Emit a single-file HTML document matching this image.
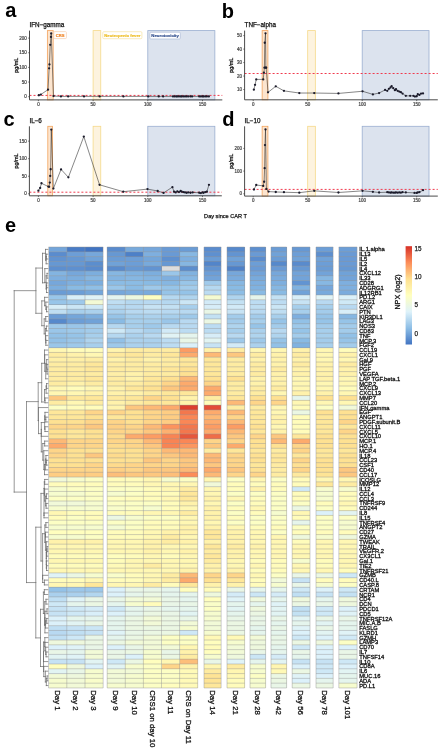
<!DOCTYPE html><html><head><meta charset="utf-8"><style>html,body{margin:0;padding:0;background:#fff;overflow:hidden;}svg{display:block;will-change:transform;}</style></head><body>
<svg width="443" height="750" viewBox="0 0 443 750" font-family='"Liberation Sans", sans-serif'>
<rect width="443" height="750" fill="#fff"/>
<rect x="47.37" y="30.60" width="5.80" height="69.30" fill="#FCE5CF" stroke="#F2A45E" stroke-width="0.8"/>
<rect x="93.10" y="30.60" width="7.66" height="69.30" fill="#FDF3DF" stroke="#F5D98A" stroke-width="0.8"/>
<rect x="147.80" y="30.60" width="67.06" height="69.30" fill="#DCE3EE" stroke="#9AAED0" stroke-width="0.8"/>
<line x1="29.50" y1="95.40" x2="222.30" y2="95.40" stroke="#F03A4E" stroke-width="1.0" stroke-dasharray="2,2"/>
<polyline points="38.84,95.23 40.81,94.53 48.03,89.67 49.12,68.28 49.45,64.47 50.22,44.84 50.98,36.93 51.20,33.41 53.50,96.11 60.94,96.41 68.16,96.41 84.02,96.41 99.66,96.41 123.40,96.41 148.24,96.41 158.74,96.41 163.12,96.41 172.96,96.41 174.60,96.41 176.24,96.41 177.34,96.41 178.98,96.41 180.62,96.41 181.71,96.41 183.36,96.41 185.00,96.41 186.64,96.41 188.28,96.41 190.47,96.41 192.11,96.41 199.22,96.41 200.86,96.41 202.50,96.41 203.59,96.41 205.24,96.41 206.88,96.41 208.85,96.41" fill="none" stroke="#222" stroke-width="0.55"/>
<circle cx="38.84" cy="95.23" r="1.15" fill="#1b1b2b"/>
<circle cx="40.81" cy="94.53" r="1.15" fill="#1b1b2b"/>
<circle cx="48.03" cy="89.67" r="1.15" fill="#1b1b2b"/>
<circle cx="49.12" cy="68.28" r="1.15" fill="#1b1b2b"/>
<circle cx="49.45" cy="64.47" r="1.15" fill="#1b1b2b"/>
<circle cx="50.22" cy="44.84" r="1.15" fill="#1b1b2b"/>
<circle cx="50.98" cy="36.93" r="1.15" fill="#1b1b2b"/>
<circle cx="51.20" cy="33.41" r="1.15" fill="#1b1b2b"/>
<circle cx="53.50" cy="96.11" r="1.15" fill="#1b1b2b"/>
<circle cx="60.94" cy="96.41" r="1.15" fill="#1b1b2b"/>
<circle cx="68.16" cy="96.41" r="1.15" fill="#1b1b2b"/>
<circle cx="84.02" cy="96.41" r="1.15" fill="#1b1b2b"/>
<circle cx="99.66" cy="96.41" r="1.15" fill="#1b1b2b"/>
<circle cx="123.40" cy="96.41" r="1.15" fill="#1b1b2b"/>
<circle cx="148.24" cy="96.41" r="1.15" fill="#1b1b2b"/>
<circle cx="158.74" cy="96.41" r="1.15" fill="#1b1b2b"/>
<circle cx="163.12" cy="96.41" r="1.15" fill="#1b1b2b"/>
<circle cx="172.96" cy="96.41" r="1.15" fill="#1b1b2b"/>
<circle cx="174.60" cy="96.41" r="1.15" fill="#1b1b2b"/>
<circle cx="176.24" cy="96.41" r="1.15" fill="#1b1b2b"/>
<circle cx="177.34" cy="96.41" r="1.15" fill="#1b1b2b"/>
<circle cx="178.98" cy="96.41" r="1.15" fill="#1b1b2b"/>
<circle cx="180.62" cy="96.41" r="1.15" fill="#1b1b2b"/>
<circle cx="181.71" cy="96.41" r="1.15" fill="#1b1b2b"/>
<circle cx="183.36" cy="96.41" r="1.15" fill="#1b1b2b"/>
<circle cx="185.00" cy="96.41" r="1.15" fill="#1b1b2b"/>
<circle cx="186.64" cy="96.41" r="1.15" fill="#1b1b2b"/>
<circle cx="188.28" cy="96.41" r="1.15" fill="#1b1b2b"/>
<circle cx="190.47" cy="96.41" r="1.15" fill="#1b1b2b"/>
<circle cx="192.11" cy="96.41" r="1.15" fill="#1b1b2b"/>
<circle cx="199.22" cy="96.41" r="1.15" fill="#1b1b2b"/>
<circle cx="200.86" cy="96.41" r="1.15" fill="#1b1b2b"/>
<circle cx="202.50" cy="96.41" r="1.15" fill="#1b1b2b"/>
<circle cx="203.59" cy="96.41" r="1.15" fill="#1b1b2b"/>
<circle cx="205.24" cy="96.41" r="1.15" fill="#1b1b2b"/>
<circle cx="206.88" cy="96.41" r="1.15" fill="#1b1b2b"/>
<circle cx="208.85" cy="96.41" r="1.15" fill="#1b1b2b"/>
<path d="M29.50 30.60L29.50 99.90L222.30 99.90" fill="none" stroke="#4a4a4a" stroke-width="1.0"/>
<line x1="28.20" y1="96.70" x2="29.50" y2="96.70" stroke="#3a3a3a" stroke-width="0.7"/>
<text x="26.80" y="98.35" font-size="4.5" fill="#444" stroke="#444" stroke-width="0.2" text-anchor="end">0</text>
<line x1="28.20" y1="82.05" x2="29.50" y2="82.05" stroke="#3a3a3a" stroke-width="0.7"/>
<text x="26.80" y="83.70" font-size="4.5" fill="#444" stroke="#444" stroke-width="0.2" text-anchor="end">50</text>
<line x1="28.20" y1="67.40" x2="29.50" y2="67.40" stroke="#3a3a3a" stroke-width="0.7"/>
<text x="26.80" y="69.05" font-size="4.5" fill="#444" stroke="#444" stroke-width="0.2" text-anchor="end">100</text>
<line x1="28.20" y1="52.75" x2="29.50" y2="52.75" stroke="#3a3a3a" stroke-width="0.7"/>
<text x="26.80" y="54.40" font-size="4.5" fill="#444" stroke="#444" stroke-width="0.2" text-anchor="end">150</text>
<line x1="28.20" y1="38.10" x2="29.50" y2="38.10" stroke="#3a3a3a" stroke-width="0.7"/>
<text x="26.80" y="39.75" font-size="4.5" fill="#444" stroke="#444" stroke-width="0.2" text-anchor="end">200</text>
<line x1="38.40" y1="99.90" x2="38.40" y2="101.20" stroke="#3a3a3a" stroke-width="0.7"/>
<text x="38.40" y="106.00" font-size="4.5" fill="#444" stroke="#444" stroke-width="0.2" text-anchor="middle">0</text>
<line x1="93.10" y1="99.90" x2="93.10" y2="101.20" stroke="#3a3a3a" stroke-width="0.7"/>
<text x="93.10" y="106.00" font-size="4.5" fill="#444" stroke="#444" stroke-width="0.2" text-anchor="middle">50</text>
<line x1="147.80" y1="99.90" x2="147.80" y2="101.20" stroke="#3a3a3a" stroke-width="0.7"/>
<text x="147.80" y="106.00" font-size="4.5" fill="#444" stroke="#444" stroke-width="0.2" text-anchor="middle">100</text>
<line x1="202.50" y1="99.90" x2="202.50" y2="101.20" stroke="#3a3a3a" stroke-width="0.7"/>
<text x="202.50" y="106.00" font-size="4.5" fill="#444" stroke="#444" stroke-width="0.2" text-anchor="middle">150</text>
<text transform="translate(18.00,65.25) rotate(-90)" font-size="5.4" text-anchor="middle" fill="#111" stroke="#111" stroke-width="0.25">pg/mL</text>
<text x="29.50" y="26.80" font-size="6.3" fill="#111" stroke="#111" stroke-width="0.25">IFN−gamma</text>
<text x="5.20" y="17.40" font-size="20" font-weight="bold" fill="#000">a</text>
<rect x="262.14" y="30.60" width="5.78" height="69.20" fill="#FCE5CF" stroke="#F2A45E" stroke-width="0.8"/>
<rect x="307.70" y="30.60" width="7.63" height="69.20" fill="#FDF3DF" stroke="#F5D98A" stroke-width="0.8"/>
<rect x="362.20" y="30.60" width="66.82" height="69.20" fill="#DCE3EE" stroke="#9AAED0" stroke-width="0.8"/>
<line x1="244.60" y1="73.50" x2="437.80" y2="73.50" stroke="#F03A4E" stroke-width="1.0" stroke-dasharray="2,2"/>
<polyline points="253.85,89.66 255.05,84.81 256.25,79.42 263.23,79.42 263.88,72.68 264.43,67.70 264.75,42.77 265.52,33.33 265.84,67.70 266.17,67.70 268.02,92.35 275.76,86.29 283.94,90.87 299.31,93.03 314.24,93.03 338.44,93.43 362.53,91.28 372.88,94.38 379.10,93.03 385.09,89.93 387.27,90.87 388.90,88.85 390.54,87.50 391.63,86.16 393.26,88.18 394.90,90.20 395.99,89.26 397.62,90.87 399.26,91.55 400.89,92.22 402.53,93.57 405.80,95.86 410.16,95.86 413.43,95.86 414.96,96.53 416.70,96.26 417.79,94.24 419.43,94.92 421.06,93.57 423.02,93.43" fill="none" stroke="#222" stroke-width="0.55"/>
<circle cx="253.85" cy="89.66" r="1.15" fill="#1b1b2b"/>
<circle cx="255.05" cy="84.81" r="1.15" fill="#1b1b2b"/>
<circle cx="256.25" cy="79.42" r="1.15" fill="#1b1b2b"/>
<circle cx="263.23" cy="79.42" r="1.15" fill="#1b1b2b"/>
<circle cx="263.88" cy="72.68" r="1.15" fill="#1b1b2b"/>
<circle cx="264.43" cy="67.70" r="1.15" fill="#1b1b2b"/>
<circle cx="264.75" cy="42.77" r="1.15" fill="#1b1b2b"/>
<circle cx="265.52" cy="33.33" r="1.15" fill="#1b1b2b"/>
<circle cx="265.84" cy="67.70" r="1.15" fill="#1b1b2b"/>
<circle cx="266.17" cy="67.70" r="1.15" fill="#1b1b2b"/>
<circle cx="268.02" cy="92.35" r="1.15" fill="#1b1b2b"/>
<circle cx="275.76" cy="86.29" r="1.15" fill="#1b1b2b"/>
<circle cx="283.94" cy="90.87" r="1.15" fill="#1b1b2b"/>
<circle cx="299.31" cy="93.03" r="1.15" fill="#1b1b2b"/>
<circle cx="314.24" cy="93.03" r="1.15" fill="#1b1b2b"/>
<circle cx="338.44" cy="93.43" r="1.15" fill="#1b1b2b"/>
<circle cx="362.53" cy="91.28" r="1.15" fill="#1b1b2b"/>
<circle cx="372.88" cy="94.38" r="1.15" fill="#1b1b2b"/>
<circle cx="379.10" cy="93.03" r="1.15" fill="#1b1b2b"/>
<circle cx="385.09" cy="89.93" r="1.15" fill="#1b1b2b"/>
<circle cx="387.27" cy="90.87" r="1.15" fill="#1b1b2b"/>
<circle cx="388.90" cy="88.85" r="1.15" fill="#1b1b2b"/>
<circle cx="390.54" cy="87.50" r="1.15" fill="#1b1b2b"/>
<circle cx="391.63" cy="86.16" r="1.15" fill="#1b1b2b"/>
<circle cx="393.26" cy="88.18" r="1.15" fill="#1b1b2b"/>
<circle cx="394.90" cy="90.20" r="1.15" fill="#1b1b2b"/>
<circle cx="395.99" cy="89.26" r="1.15" fill="#1b1b2b"/>
<circle cx="397.62" cy="90.87" r="1.15" fill="#1b1b2b"/>
<circle cx="399.26" cy="91.55" r="1.15" fill="#1b1b2b"/>
<circle cx="400.89" cy="92.22" r="1.15" fill="#1b1b2b"/>
<circle cx="402.53" cy="93.57" r="1.15" fill="#1b1b2b"/>
<circle cx="405.80" cy="95.86" r="1.15" fill="#1b1b2b"/>
<circle cx="410.16" cy="95.86" r="1.15" fill="#1b1b2b"/>
<circle cx="413.43" cy="95.86" r="1.15" fill="#1b1b2b"/>
<circle cx="414.96" cy="96.53" r="1.15" fill="#1b1b2b"/>
<circle cx="416.70" cy="96.26" r="1.15" fill="#1b1b2b"/>
<circle cx="417.79" cy="94.24" r="1.15" fill="#1b1b2b"/>
<circle cx="419.43" cy="94.92" r="1.15" fill="#1b1b2b"/>
<circle cx="421.06" cy="93.57" r="1.15" fill="#1b1b2b"/>
<circle cx="423.02" cy="93.43" r="1.15" fill="#1b1b2b"/>
<path d="M244.60 30.60L244.60 99.80L437.80 99.80" fill="none" stroke="#4a4a4a" stroke-width="1.0"/>
<line x1="243.30" y1="89.53" x2="244.60" y2="89.53" stroke="#3a3a3a" stroke-width="0.7"/>
<text x="241.90" y="91.18" font-size="4.5" fill="#444" stroke="#444" stroke-width="0.2" text-anchor="end">10</text>
<line x1="243.30" y1="76.05" x2="244.60" y2="76.05" stroke="#3a3a3a" stroke-width="0.7"/>
<text x="241.90" y="77.70" font-size="4.5" fill="#444" stroke="#444" stroke-width="0.2" text-anchor="end">20</text>
<line x1="243.30" y1="62.58" x2="244.60" y2="62.58" stroke="#3a3a3a" stroke-width="0.7"/>
<text x="241.90" y="64.23" font-size="4.5" fill="#444" stroke="#444" stroke-width="0.2" text-anchor="end">30</text>
<line x1="243.30" y1="49.10" x2="244.60" y2="49.10" stroke="#3a3a3a" stroke-width="0.7"/>
<text x="241.90" y="50.75" font-size="4.5" fill="#444" stroke="#444" stroke-width="0.2" text-anchor="end">40</text>
<line x1="243.30" y1="35.62" x2="244.60" y2="35.62" stroke="#3a3a3a" stroke-width="0.7"/>
<text x="241.90" y="37.27" font-size="4.5" fill="#444" stroke="#444" stroke-width="0.2" text-anchor="end">50</text>
<line x1="253.20" y1="99.80" x2="253.20" y2="101.10" stroke="#3a3a3a" stroke-width="0.7"/>
<text x="253.20" y="105.90" font-size="4.5" fill="#444" stroke="#444" stroke-width="0.2" text-anchor="middle">0</text>
<line x1="307.70" y1="99.80" x2="307.70" y2="101.10" stroke="#3a3a3a" stroke-width="0.7"/>
<text x="307.70" y="105.90" font-size="4.5" fill="#444" stroke="#444" stroke-width="0.2" text-anchor="middle">50</text>
<line x1="362.20" y1="99.80" x2="362.20" y2="101.10" stroke="#3a3a3a" stroke-width="0.7"/>
<text x="362.20" y="105.90" font-size="4.5" fill="#444" stroke="#444" stroke-width="0.2" text-anchor="middle">100</text>
<line x1="416.70" y1="99.80" x2="416.70" y2="101.10" stroke="#3a3a3a" stroke-width="0.7"/>
<text x="416.70" y="105.90" font-size="4.5" fill="#444" stroke="#444" stroke-width="0.2" text-anchor="middle">150</text>
<text transform="translate(233.20,65.20) rotate(-90)" font-size="5.4" text-anchor="middle" fill="#111" stroke="#111" stroke-width="0.25">pg/mL</text>
<text x="244.60" y="26.80" font-size="6.3" fill="#111" stroke="#111" stroke-width="0.25">TNF−alpha</text>
<text x="221.80" y="17.60" font-size="20" font-weight="bold" fill="#000">b</text>
<rect x="47.81" y="126.30" width="4.70" height="69.50" fill="#FCE5CF" stroke="#F2A45E" stroke-width="0.8"/>
<rect x="93.10" y="126.30" width="7.66" height="69.50" fill="#FDF3DF" stroke="#F5D98A" stroke-width="0.8"/>
<rect x="147.80" y="126.30" width="67.06" height="69.50" fill="#DCE3EE" stroke="#9AAED0" stroke-width="0.8"/>
<line x1="29.40" y1="192.20" x2="221.80" y2="192.20" stroke="#F03A4E" stroke-width="1.0" stroke-dasharray="2,2"/>
<polyline points="38.40,190.71 40.15,188.01 41.46,183.27 48.36,186.60 49.12,186.78 49.78,182.57 50.22,175.90 50.65,169.23 51.31,129.57 53.39,188.54 61.05,169.41 68.38,177.30 83.80,136.59 99.55,184.81 123.29,191.69 147.47,189.10 157.65,190.99 163.55,192.89 172.42,187.13 174.06,191.69 175.70,192.40 177.34,191.34 178.98,192.05 180.62,190.99 181.71,191.69 183.36,192.05 185.00,192.40 186.64,192.75 188.28,192.40 190.47,192.75 192.65,192.40 199.22,192.75 200.86,193.10 202.50,192.40 203.59,192.75 205.24,192.05 206.88,191.69 208.95,184.81" fill="none" stroke="#222" stroke-width="0.55"/>
<circle cx="38.40" cy="190.71" r="1.15" fill="#1b1b2b"/>
<circle cx="40.15" cy="188.01" r="1.15" fill="#1b1b2b"/>
<circle cx="41.46" cy="183.27" r="1.15" fill="#1b1b2b"/>
<circle cx="48.36" cy="186.60" r="1.15" fill="#1b1b2b"/>
<circle cx="49.12" cy="186.78" r="1.15" fill="#1b1b2b"/>
<circle cx="49.78" cy="182.57" r="1.15" fill="#1b1b2b"/>
<circle cx="50.22" cy="175.90" r="1.15" fill="#1b1b2b"/>
<circle cx="50.65" cy="169.23" r="1.15" fill="#1b1b2b"/>
<circle cx="51.31" cy="129.57" r="1.15" fill="#1b1b2b"/>
<circle cx="53.39" cy="188.54" r="1.15" fill="#1b1b2b"/>
<circle cx="61.05" cy="169.41" r="1.15" fill="#1b1b2b"/>
<circle cx="68.38" cy="177.30" r="1.15" fill="#1b1b2b"/>
<circle cx="83.80" cy="136.59" r="1.15" fill="#1b1b2b"/>
<circle cx="99.55" cy="184.81" r="1.15" fill="#1b1b2b"/>
<circle cx="123.29" cy="191.69" r="1.15" fill="#1b1b2b"/>
<circle cx="147.47" cy="189.10" r="1.15" fill="#1b1b2b"/>
<circle cx="157.65" cy="190.99" r="1.15" fill="#1b1b2b"/>
<circle cx="163.55" cy="192.89" r="1.15" fill="#1b1b2b"/>
<circle cx="172.42" cy="187.13" r="1.15" fill="#1b1b2b"/>
<circle cx="174.06" cy="191.69" r="1.15" fill="#1b1b2b"/>
<circle cx="175.70" cy="192.40" r="1.15" fill="#1b1b2b"/>
<circle cx="177.34" cy="191.34" r="1.15" fill="#1b1b2b"/>
<circle cx="178.98" cy="192.05" r="1.15" fill="#1b1b2b"/>
<circle cx="180.62" cy="190.99" r="1.15" fill="#1b1b2b"/>
<circle cx="181.71" cy="191.69" r="1.15" fill="#1b1b2b"/>
<circle cx="183.36" cy="192.05" r="1.15" fill="#1b1b2b"/>
<circle cx="185.00" cy="192.40" r="1.15" fill="#1b1b2b"/>
<circle cx="186.64" cy="192.75" r="1.15" fill="#1b1b2b"/>
<circle cx="188.28" cy="192.40" r="1.15" fill="#1b1b2b"/>
<circle cx="190.47" cy="192.75" r="1.15" fill="#1b1b2b"/>
<circle cx="192.65" cy="192.40" r="1.15" fill="#1b1b2b"/>
<circle cx="199.22" cy="192.75" r="1.15" fill="#1b1b2b"/>
<circle cx="200.86" cy="193.10" r="1.15" fill="#1b1b2b"/>
<circle cx="202.50" cy="192.40" r="1.15" fill="#1b1b2b"/>
<circle cx="203.59" cy="192.75" r="1.15" fill="#1b1b2b"/>
<circle cx="205.24" cy="192.05" r="1.15" fill="#1b1b2b"/>
<circle cx="206.88" cy="191.69" r="1.15" fill="#1b1b2b"/>
<circle cx="208.95" cy="184.81" r="1.15" fill="#1b1b2b"/>
<path d="M29.40 126.30L29.40 195.80L221.80 195.80" fill="none" stroke="#4a4a4a" stroke-width="1.0"/>
<line x1="28.10" y1="193.80" x2="29.40" y2="193.80" stroke="#3a3a3a" stroke-width="0.7"/>
<text x="26.70" y="195.45" font-size="4.5" fill="#444" stroke="#444" stroke-width="0.2" text-anchor="end">0</text>
<line x1="28.10" y1="176.25" x2="29.40" y2="176.25" stroke="#3a3a3a" stroke-width="0.7"/>
<text x="26.70" y="177.90" font-size="4.5" fill="#444" stroke="#444" stroke-width="0.2" text-anchor="end">50</text>
<line x1="28.10" y1="158.70" x2="29.40" y2="158.70" stroke="#3a3a3a" stroke-width="0.7"/>
<text x="26.70" y="160.35" font-size="4.5" fill="#444" stroke="#444" stroke-width="0.2" text-anchor="end">100</text>
<line x1="28.10" y1="141.15" x2="29.40" y2="141.15" stroke="#3a3a3a" stroke-width="0.7"/>
<text x="26.70" y="142.80" font-size="4.5" fill="#444" stroke="#444" stroke-width="0.2" text-anchor="end">150</text>
<line x1="38.40" y1="195.80" x2="38.40" y2="197.10" stroke="#3a3a3a" stroke-width="0.7"/>
<text x="38.40" y="201.90" font-size="4.5" fill="#444" stroke="#444" stroke-width="0.2" text-anchor="middle">0</text>
<line x1="93.10" y1="195.80" x2="93.10" y2="197.10" stroke="#3a3a3a" stroke-width="0.7"/>
<text x="93.10" y="201.90" font-size="4.5" fill="#444" stroke="#444" stroke-width="0.2" text-anchor="middle">50</text>
<line x1="147.80" y1="195.80" x2="147.80" y2="197.10" stroke="#3a3a3a" stroke-width="0.7"/>
<text x="147.80" y="201.90" font-size="4.5" fill="#444" stroke="#444" stroke-width="0.2" text-anchor="middle">100</text>
<line x1="202.50" y1="195.80" x2="202.50" y2="197.10" stroke="#3a3a3a" stroke-width="0.7"/>
<text x="202.50" y="201.90" font-size="4.5" fill="#444" stroke="#444" stroke-width="0.2" text-anchor="middle">150</text>
<text transform="translate(18.00,161.05) rotate(-90)" font-size="5.4" text-anchor="middle" fill="#111" stroke="#111" stroke-width="0.25">pg/mL</text>
<text x="29.40" y="122.60" font-size="6.3" fill="#111" stroke="#111" stroke-width="0.25">IL−6</text>
<text x="3.60" y="126.00" font-size="20" font-weight="bold" fill="#000">c</text>
<rect x="262.14" y="126.30" width="5.78" height="69.80" fill="#FCE5CF" stroke="#F2A45E" stroke-width="0.8"/>
<rect x="307.70" y="126.30" width="7.63" height="69.80" fill="#FDF3DF" stroke="#F5D98A" stroke-width="0.8"/>
<rect x="362.20" y="126.30" width="66.82" height="69.80" fill="#DCE3EE" stroke="#9AAED0" stroke-width="0.8"/>
<line x1="244.60" y1="189.40" x2="437.80" y2="189.40" stroke="#F03A4E" stroke-width="1.0" stroke-dasharray="2,2"/>
<polyline points="253.96,189.49 256.25,184.99 263.23,185.90 264.10,181.77 264.64,168.15 264.97,145.11 265.52,129.40 266.39,188.90 268.57,191.60 275.76,191.98 283.94,192.21 299.31,192.67 314.24,190.85 338.44,192.51 362.53,190.85 372.88,191.80 379.10,192.51 387.27,192.21 388.90,192.44 390.54,192.67 391.63,192.44 393.26,192.67 394.90,192.67 395.99,192.44 397.62,192.67 399.26,192.44 400.89,192.67 402.53,192.21 405.80,192.44 414.52,192.89 416.70,192.89 417.79,192.44 419.43,192.21 423.02,190.17" fill="none" stroke="#222" stroke-width="0.55"/>
<circle cx="253.96" cy="189.49" r="1.15" fill="#1b1b2b"/>
<circle cx="256.25" cy="184.99" r="1.15" fill="#1b1b2b"/>
<circle cx="263.23" cy="185.90" r="1.15" fill="#1b1b2b"/>
<circle cx="264.10" cy="181.77" r="1.15" fill="#1b1b2b"/>
<circle cx="264.64" cy="168.15" r="1.15" fill="#1b1b2b"/>
<circle cx="264.97" cy="145.11" r="1.15" fill="#1b1b2b"/>
<circle cx="265.52" cy="129.40" r="1.15" fill="#1b1b2b"/>
<circle cx="266.39" cy="188.90" r="1.15" fill="#1b1b2b"/>
<circle cx="268.57" cy="191.60" r="1.15" fill="#1b1b2b"/>
<circle cx="275.76" cy="191.98" r="1.15" fill="#1b1b2b"/>
<circle cx="283.94" cy="192.21" r="1.15" fill="#1b1b2b"/>
<circle cx="299.31" cy="192.67" r="1.15" fill="#1b1b2b"/>
<circle cx="314.24" cy="190.85" r="1.15" fill="#1b1b2b"/>
<circle cx="338.44" cy="192.51" r="1.15" fill="#1b1b2b"/>
<circle cx="362.53" cy="190.85" r="1.15" fill="#1b1b2b"/>
<circle cx="372.88" cy="191.80" r="1.15" fill="#1b1b2b"/>
<circle cx="379.10" cy="192.51" r="1.15" fill="#1b1b2b"/>
<circle cx="387.27" cy="192.21" r="1.15" fill="#1b1b2b"/>
<circle cx="388.90" cy="192.44" r="1.15" fill="#1b1b2b"/>
<circle cx="390.54" cy="192.67" r="1.15" fill="#1b1b2b"/>
<circle cx="391.63" cy="192.44" r="1.15" fill="#1b1b2b"/>
<circle cx="393.26" cy="192.67" r="1.15" fill="#1b1b2b"/>
<circle cx="394.90" cy="192.67" r="1.15" fill="#1b1b2b"/>
<circle cx="395.99" cy="192.44" r="1.15" fill="#1b1b2b"/>
<circle cx="397.62" cy="192.67" r="1.15" fill="#1b1b2b"/>
<circle cx="399.26" cy="192.44" r="1.15" fill="#1b1b2b"/>
<circle cx="400.89" cy="192.67" r="1.15" fill="#1b1b2b"/>
<circle cx="402.53" cy="192.21" r="1.15" fill="#1b1b2b"/>
<circle cx="405.80" cy="192.44" r="1.15" fill="#1b1b2b"/>
<circle cx="414.52" cy="192.89" r="1.15" fill="#1b1b2b"/>
<circle cx="416.70" cy="192.89" r="1.15" fill="#1b1b2b"/>
<circle cx="417.79" cy="192.44" r="1.15" fill="#1b1b2b"/>
<circle cx="419.43" cy="192.21" r="1.15" fill="#1b1b2b"/>
<circle cx="423.02" cy="190.17" r="1.15" fill="#1b1b2b"/>
<path d="M244.60 126.30L244.60 196.10L437.80 196.10" fill="none" stroke="#4a4a4a" stroke-width="1.0"/>
<line x1="243.30" y1="193.80" x2="244.60" y2="193.80" stroke="#3a3a3a" stroke-width="0.7"/>
<text x="241.90" y="195.45" font-size="4.5" fill="#444" stroke="#444" stroke-width="0.2" text-anchor="end">0</text>
<line x1="243.30" y1="171.10" x2="244.60" y2="171.10" stroke="#3a3a3a" stroke-width="0.7"/>
<text x="241.90" y="172.75" font-size="4.5" fill="#444" stroke="#444" stroke-width="0.2" text-anchor="end">100</text>
<line x1="243.30" y1="148.40" x2="244.60" y2="148.40" stroke="#3a3a3a" stroke-width="0.7"/>
<text x="241.90" y="150.05" font-size="4.5" fill="#444" stroke="#444" stroke-width="0.2" text-anchor="end">200</text>
<line x1="253.20" y1="196.10" x2="253.20" y2="197.40" stroke="#3a3a3a" stroke-width="0.7"/>
<text x="253.20" y="202.20" font-size="4.5" fill="#444" stroke="#444" stroke-width="0.2" text-anchor="middle">0</text>
<line x1="307.70" y1="196.10" x2="307.70" y2="197.40" stroke="#3a3a3a" stroke-width="0.7"/>
<text x="307.70" y="202.20" font-size="4.5" fill="#444" stroke="#444" stroke-width="0.2" text-anchor="middle">50</text>
<line x1="362.20" y1="196.10" x2="362.20" y2="197.40" stroke="#3a3a3a" stroke-width="0.7"/>
<text x="362.20" y="202.20" font-size="4.5" fill="#444" stroke="#444" stroke-width="0.2" text-anchor="middle">100</text>
<line x1="416.70" y1="196.10" x2="416.70" y2="197.40" stroke="#3a3a3a" stroke-width="0.7"/>
<text x="416.70" y="202.20" font-size="4.5" fill="#444" stroke="#444" stroke-width="0.2" text-anchor="middle">150</text>
<text transform="translate(233.20,161.20) rotate(-90)" font-size="5.4" text-anchor="middle" fill="#111" stroke="#111" stroke-width="0.25">pg/mL</text>
<text x="244.60" y="122.60" font-size="6.3" fill="#111" stroke="#111" stroke-width="0.25">IL−10</text>
<text x="222.20" y="125.60" font-size="20" font-weight="bold" fill="#000">d</text>
<g font-weight="bold">
<rect x="53.8" y="31.6" width="12.6" height="7.0" rx="1" fill="#fff" stroke="#F6CFAE" stroke-width="0.7"/>
<text x="60.1" y="36.75" font-size="4.1" text-anchor="middle" fill="#F08A30" stroke="#F08A30" stroke-width="0.2">CRS</text>
<rect x="102.8" y="31.7" width="39.1" height="7.0" rx="1" fill="#fff" stroke="#F6E2A0" stroke-width="0.7"/>
<text x="122.35" y="36.85" font-size="4.25" text-anchor="middle" fill="#EEBF2A" stroke="#EEBF2A" stroke-width="0.2">Neutropenic fever</text>
<rect x="149.9" y="32.2" width="30.4" height="6.8" rx="1" fill="#fff" stroke="#AEBCD6" stroke-width="0.7"/>
<text x="165.1" y="37.2" font-size="4.3" text-anchor="middle" fill="#2E4C8C" stroke="#2E4C8C" stroke-width="0.15">Neurotoxicity</text>
</g>
<text x="225.5" y="217.8" font-size="5.6" text-anchor="middle" fill="#111" stroke="#111" stroke-width="0.25">Day since CAR T</text>
<text x="5.0" y="232.4" font-size="20" font-weight="bold" fill="#000">e</text>
<g stroke="#6a6a6a" stroke-width="0.7" fill="none" stroke-linecap="square">
<path d="M46.36 254.19L46.36 258.98M46.36 254.19L47.90 254.19M46.36 258.98L47.90 258.98M46.17 256.59L46.17 263.78M46.17 256.59L46.36 256.59M46.17 263.78L47.90 263.78M45.50 249.40L45.50 260.18M45.50 249.40L47.90 249.40M45.50 260.18L46.17 260.18M47.04 273.36L47.04 278.15M47.04 273.36L47.90 273.36M47.04 278.15L47.90 278.15M46.68 282.95L46.68 287.74M46.68 282.95L47.90 282.95M46.68 287.74L47.90 287.74M46.49 285.34L46.49 292.53M46.49 285.34L46.68 285.34M46.49 292.53L47.90 292.53M46.08 275.76L46.08 288.94M46.08 275.76L47.04 275.76M46.08 288.94L46.49 288.94M44.80 268.57L44.80 282.35M44.80 268.57L47.90 268.57M44.80 282.35L46.08 282.35M42.50 253.30L42.50 282.80M42.50 253.30L45.50 253.30M42.50 282.80L44.80 282.80M46.54 306.91L46.54 311.71M46.54 306.91L47.90 306.91M46.54 311.71L47.90 311.71M45.82 302.12L45.82 309.31M45.82 302.12L47.90 302.12M45.82 309.31L46.54 309.31M44.60 297.33L44.60 305.71M44.60 297.33L47.90 297.33M44.60 305.71L45.82 305.71M45.72 316.50L45.72 321.29M45.72 316.50L47.90 316.50M45.72 321.29L47.90 321.29M46.38 326.08L46.38 330.88M46.38 326.08L47.90 326.08M46.38 330.88L47.90 330.88M45.84 340.46L45.84 345.26M45.84 340.46L47.90 340.46M45.84 345.26L47.90 345.26M45.74 335.67L45.74 342.86M45.74 335.67L47.90 335.67M45.74 342.86L45.84 342.86M45.45 328.48L45.45 339.27M45.45 328.48L46.38 328.48M45.45 339.27L45.74 339.27M44.20 318.89L44.20 333.87M44.20 318.89L45.72 318.89M44.20 333.87L45.45 333.87M41.80 300.90L41.80 325.70M41.80 300.90L44.60 300.90M41.80 325.70L44.20 325.70M35.90 268.05L35.90 313.30M35.90 268.05L42.50 268.05M35.90 313.30L41.80 313.30M47.04 369.22L47.04 374.01M47.04 369.22L47.90 369.22M47.04 374.01L47.90 374.01M46.97 364.43L46.97 371.62M46.97 364.43L47.90 364.43M46.97 371.62L47.04 371.62M46.65 359.64L46.65 368.02M46.65 359.64L47.90 359.64M46.65 368.02L46.97 368.02M45.72 363.83L45.72 378.81M45.72 363.83L46.65 363.83M45.72 378.81L47.90 378.81M44.75 354.84L44.75 371.32M44.75 354.84L47.90 354.84M44.75 371.32L45.72 371.32M44.50 350.05L44.50 363.08M44.50 350.05L47.90 350.05M44.50 363.08L44.75 363.08M46.57 383.60L46.57 388.39M46.57 383.60L47.90 383.60M46.57 388.39L47.90 388.39M46.10 386.00L46.10 393.19M46.10 386.00L46.57 386.00M46.10 393.19L47.90 393.19M45.04 397.98L45.04 402.77M45.04 397.98L47.90 397.98M45.04 402.77L47.90 402.77M44.50 389.59L44.50 400.38M44.50 389.59L46.10 389.59M44.50 400.38L45.04 400.38M41.70 363.30L41.70 402.00M41.70 363.30L44.50 363.30M41.70 402.00L44.50 402.00M45.80 417.15L45.80 421.94M45.80 417.15L47.90 417.15M45.80 421.94L47.90 421.94M44.97 412.36L44.97 419.55M44.97 412.36L47.90 412.36M44.97 419.55L45.80 419.55M44.98 426.74L44.98 431.53M44.98 426.74L47.90 426.74M44.98 431.53L47.90 431.53M44.63 415.95L44.63 429.13M44.63 415.95L44.97 415.95M44.63 429.13L44.98 429.13M41.31 422.54L41.31 436.32M41.31 422.54L44.63 422.54M41.31 436.32L47.90 436.32M44.65 441.12L44.65 445.91M44.65 441.12L47.90 441.12M44.65 445.91L47.90 445.91M46.32 460.29L46.32 465.08M46.32 460.29L47.90 460.29M46.32 465.08L47.90 465.08M45.91 455.50L45.91 462.69M45.91 455.50L47.90 455.50M45.91 462.69L46.32 462.69M45.57 459.09L45.57 469.87M45.57 459.09L45.91 459.09M45.57 469.87L47.90 469.87M44.50 464.48L44.50 474.67M44.50 464.48L45.57 464.48M44.50 474.67L47.90 474.67M43.84 450.70L43.84 469.57M43.84 450.70L47.90 450.70M43.84 469.57L44.50 469.57M42.79 443.51L42.79 460.14M42.79 443.51L44.65 443.51M42.79 460.14L43.84 460.14M41.30 429.43L41.30 451.83M41.30 429.43L41.31 429.43M41.30 451.83L42.79 451.83M38.50 407.57L38.50 433.60M38.50 407.57L47.90 407.57M38.50 433.60L41.30 433.60M38.20 382.65L38.20 420.58M38.20 382.65L41.70 382.65M38.20 420.58L38.50 420.58M44.68 479.46L44.68 484.25M44.68 479.46L47.90 479.46M44.68 484.25L47.90 484.25M46.41 493.84L46.41 498.63M46.41 493.84L47.90 493.84M46.41 498.63L47.90 498.63M46.10 503.43L46.10 508.22M46.10 503.43L47.90 503.43M46.10 508.22L47.90 508.22M45.64 496.24L45.64 505.82M45.64 496.24L46.41 496.24M45.64 505.82L46.10 505.82M44.68 489.05L44.68 501.03M44.68 489.05L47.90 489.05M44.68 501.03L45.64 501.03M44.31 481.86L44.31 495.04M44.31 481.86L44.68 481.86M44.31 495.04L44.68 495.04M44.01 513.01L44.01 517.80M44.01 513.01L47.90 513.01M44.01 517.80L47.90 517.80M44.00 488.45L44.00 515.41M44.00 488.45L44.31 488.45M44.00 515.41L44.01 515.41M45.89 522.60L45.89 527.39M45.89 522.60L47.90 522.60M45.89 527.39L47.90 527.39M45.51 532.18L45.51 536.98M45.51 532.18L47.90 532.18M45.51 536.98L47.90 536.98M47.13 546.56L47.13 551.36M47.13 546.56L47.90 546.56M47.13 551.36L47.90 551.36M46.68 548.96L46.68 556.15M46.68 548.96L47.13 548.96M46.68 556.15L47.90 556.15M46.55 565.73L46.55 570.53M46.55 565.73L47.90 565.73M46.55 570.53L47.90 570.53M46.34 560.94L46.34 568.13M46.34 560.94L47.90 560.94M46.34 568.13L46.55 568.13M46.33 552.55L46.33 564.54M46.33 552.55L46.68 552.55M46.33 564.54L46.34 564.54M46.30 541.77L46.30 558.55M46.30 541.77L47.90 541.77M46.30 558.55L46.33 558.55M45.44 534.58L45.44 550.16M45.44 534.58L45.51 534.58M45.44 550.16L46.30 550.16M44.82 524.99L44.82 542.37M44.82 524.99L45.89 524.99M44.82 542.37L45.44 542.37M44.40 580.11L44.40 584.91M44.40 580.11L47.90 580.11M44.40 584.91L47.90 584.91M42.61 575.32L42.61 582.51M42.61 575.32L47.90 575.32M42.61 582.51L44.40 582.51M42.60 533.68L42.60 578.92M42.60 533.68L44.82 533.68M42.60 578.92L42.61 578.92M41.00 493.40L41.00 561.00M41.00 493.40L44.00 493.40M41.00 561.00L42.60 561.00M44.36 589.70L44.36 594.49M44.36 589.70L47.90 589.70M44.36 594.49L47.90 594.49M45.99 599.29L45.99 604.08M45.99 599.29L47.90 599.29M45.99 604.08L47.90 604.08M46.99 608.87L46.99 613.66M46.99 608.87L47.90 608.87M46.99 613.66L47.90 613.66M46.73 618.46L46.73 623.25M46.73 618.46L47.90 618.46M46.73 623.25L47.90 623.25M45.55 620.85L45.55 628.04M45.55 620.85L46.73 620.85M45.55 628.04L47.90 628.04M44.93 611.27L44.93 624.45M44.93 611.27L46.99 611.27M44.93 624.45L45.55 624.45M44.92 617.86L44.92 632.84M44.92 617.86L44.93 617.86M44.92 632.84L47.90 632.84M44.71 601.68L44.71 625.35M44.71 601.68L45.99 601.68M44.71 625.35L44.92 625.35M43.40 592.10L43.40 613.51M43.40 592.10L44.36 592.10M43.40 613.51L44.71 613.51M46.09 652.01L46.09 656.80M46.09 652.01L47.90 652.01M46.09 656.80L47.90 656.80M45.67 647.22L45.67 654.40M45.67 647.22L47.90 647.22M45.67 654.40L46.09 654.40M44.84 642.42L44.84 650.81M44.84 642.42L47.90 642.42M44.84 650.81L45.67 650.81M44.82 637.63L44.82 646.62M44.82 637.63L47.90 637.63M44.82 646.62L44.84 646.62M43.51 642.12L43.51 661.59M43.51 642.12L44.82 642.12M43.51 661.59L47.90 661.59M47.12 675.97L47.12 680.77M47.12 675.97L47.90 675.97M47.12 680.77L47.90 680.77M46.33 678.37L46.33 685.56M46.33 678.37L47.12 678.37M46.33 685.56L47.90 685.56M45.36 671.18L45.36 681.96M45.36 671.18L47.90 671.18M45.36 681.96L46.33 681.96M43.77 666.39L43.77 676.57M43.77 666.39L47.90 666.39M43.77 676.57L45.36 676.57M43.50 651.86L43.50 671.48M43.50 651.86L43.51 651.86M43.50 671.48L43.77 671.48M40.50 609.30L40.50 666.50M40.50 609.30L43.40 609.30M40.50 666.50L43.50 666.50M35.80 527.20L35.80 637.90M35.80 527.20L41.00 527.20M35.80 637.90L40.50 637.90M26.50 401.62L26.50 582.55M26.50 401.62L38.20 401.62M26.50 582.55L35.80 582.55M14.20 290.67L14.20 492.08M14.20 290.67L35.90 290.67M14.20 492.08L26.50 492.08"/>
</g>
<g shape-rendering="crispEdges">
<rect x="48.50" y="247.00" width="18.30" height="4.84" fill="#73A5DA"/>
<rect x="66.80" y="247.00" width="18.20" height="4.84" fill="#497CC6"/>
<rect x="85.00" y="247.00" width="18.20" height="4.84" fill="#4174C2"/>
<rect x="107.20" y="247.00" width="18.10" height="4.84" fill="#598BCD"/>
<rect x="125.30" y="247.00" width="18.10" height="4.84" fill="#78AADC"/>
<rect x="143.40" y="247.00" width="18.10" height="4.84" fill="#76A7DB"/>
<rect x="161.50" y="247.00" width="18.10" height="4.84" fill="#699AD5"/>
<rect x="179.60" y="247.00" width="18.10" height="4.84" fill="#6A9CD5"/>
<rect x="204.00" y="247.00" width="17.20" height="4.84" fill="#5A8CCE"/>
<rect x="227.00" y="247.00" width="17.60" height="4.84" fill="#5689CC"/>
<rect x="250.00" y="247.00" width="15.60" height="4.84" fill="#5D8FCF"/>
<rect x="271.00" y="247.00" width="15.60" height="4.84" fill="#6A9CD5"/>
<rect x="292.20" y="247.00" width="17.80" height="4.84" fill="#6698D3"/>
<rect x="316.00" y="247.00" width="17.20" height="4.84" fill="#6C9ED7"/>
<rect x="338.80" y="247.00" width="18.30" height="4.84" fill="#6C9ED7"/>
<rect x="48.50" y="251.79" width="18.30" height="4.84" fill="#5A8CCE"/>
<rect x="66.80" y="251.79" width="18.20" height="4.84" fill="#6C9ED7"/>
<rect x="85.00" y="251.79" width="18.20" height="4.84" fill="#76A7DB"/>
<rect x="107.20" y="251.79" width="18.10" height="4.84" fill="#6698D3"/>
<rect x="125.30" y="251.79" width="18.10" height="4.84" fill="#4D80C8"/>
<rect x="143.40" y="251.79" width="18.10" height="4.84" fill="#7EAFDF"/>
<rect x="161.50" y="251.79" width="18.10" height="4.84" fill="#699AD5"/>
<rect x="179.60" y="251.79" width="18.10" height="4.84" fill="#87B8E3"/>
<rect x="204.00" y="251.79" width="17.20" height="4.84" fill="#5E90D0"/>
<rect x="227.00" y="251.79" width="17.60" height="4.84" fill="#6294D2"/>
<rect x="250.00" y="251.79" width="15.60" height="4.84" fill="#699AD5"/>
<rect x="271.00" y="251.79" width="15.60" height="4.84" fill="#70A2D8"/>
<rect x="292.20" y="251.79" width="17.80" height="4.84" fill="#6C9ED7"/>
<rect x="316.00" y="251.79" width="17.20" height="4.84" fill="#5D8FCF"/>
<rect x="338.80" y="251.79" width="18.30" height="4.84" fill="#699AD5"/>
<rect x="48.50" y="256.59" width="18.30" height="4.84" fill="#6193D1"/>
<rect x="66.80" y="256.59" width="18.20" height="4.84" fill="#6698D3"/>
<rect x="85.00" y="256.59" width="18.20" height="4.84" fill="#70A2D8"/>
<rect x="107.20" y="256.59" width="18.10" height="4.84" fill="#6A9CD5"/>
<rect x="125.30" y="256.59" width="18.10" height="4.84" fill="#6C9ED7"/>
<rect x="143.40" y="256.59" width="18.10" height="4.84" fill="#74A6DA"/>
<rect x="161.50" y="256.59" width="18.10" height="4.84" fill="#5E90D0"/>
<rect x="179.60" y="256.59" width="18.10" height="4.84" fill="#7EAFDF"/>
<rect x="204.00" y="256.59" width="17.20" height="4.84" fill="#6A9CD5"/>
<rect x="227.00" y="256.59" width="17.60" height="4.84" fill="#70A2D8"/>
<rect x="250.00" y="256.59" width="15.60" height="4.84" fill="#5A8CCE"/>
<rect x="271.00" y="256.59" width="15.60" height="4.84" fill="#6A9CD5"/>
<rect x="292.20" y="256.59" width="17.80" height="4.84" fill="#70A2D8"/>
<rect x="316.00" y="256.59" width="17.20" height="4.84" fill="#70A2D8"/>
<rect x="338.80" y="256.59" width="18.30" height="4.84" fill="#699AD5"/>
<rect x="48.50" y="261.38" width="18.30" height="4.84" fill="#6698D3"/>
<rect x="66.80" y="261.38" width="18.20" height="4.84" fill="#6698D3"/>
<rect x="85.00" y="261.38" width="18.20" height="4.84" fill="#5B8ECE"/>
<rect x="107.20" y="261.38" width="18.10" height="4.84" fill="#70A2D8"/>
<rect x="125.30" y="261.38" width="18.10" height="4.84" fill="#6C9ED7"/>
<rect x="143.40" y="261.38" width="18.10" height="4.84" fill="#78AADC"/>
<rect x="161.50" y="261.38" width="18.10" height="4.84" fill="#6698D3"/>
<rect x="179.60" y="261.38" width="18.10" height="4.84" fill="#86B7E2"/>
<rect x="204.00" y="261.38" width="17.20" height="4.84" fill="#5285CA"/>
<rect x="227.00" y="261.38" width="17.60" height="4.84" fill="#6698D3"/>
<rect x="250.00" y="261.38" width="15.60" height="4.84" fill="#6C9ED7"/>
<rect x="271.00" y="261.38" width="15.60" height="4.84" fill="#5689CC"/>
<rect x="292.20" y="261.38" width="17.80" height="4.84" fill="#598BCD"/>
<rect x="316.00" y="261.38" width="17.20" height="4.84" fill="#6C9ED7"/>
<rect x="338.80" y="261.38" width="18.30" height="4.84" fill="#699AD5"/>
<rect x="48.50" y="266.17" width="18.30" height="4.84" fill="#5D8FCF"/>
<rect x="66.80" y="266.17" width="18.20" height="4.84" fill="#5E90D0"/>
<rect x="85.00" y="266.17" width="18.20" height="4.84" fill="#598BCD"/>
<rect x="107.20" y="266.17" width="18.10" height="4.84" fill="#598BCD"/>
<rect x="125.30" y="266.17" width="18.10" height="4.84" fill="#6698D3"/>
<rect x="143.40" y="266.17" width="18.10" height="4.84" fill="#6294D2"/>
<rect x="161.50" y="266.17" width="18.10" height="4.84" fill="#DDDDDD"/>
<rect x="179.60" y="266.17" width="18.10" height="4.84" fill="#5B8ECE"/>
<rect x="204.00" y="266.17" width="17.20" height="4.84" fill="#6193D1"/>
<rect x="227.00" y="266.17" width="17.60" height="4.84" fill="#4E81C8"/>
<rect x="250.00" y="266.17" width="15.60" height="4.84" fill="#699AD5"/>
<rect x="271.00" y="266.17" width="15.60" height="4.84" fill="#699AD5"/>
<rect x="292.20" y="266.17" width="17.80" height="4.84" fill="#6698D3"/>
<rect x="316.00" y="266.17" width="17.20" height="4.84" fill="#6A9CD5"/>
<rect x="338.80" y="266.17" width="18.30" height="4.84" fill="#6698D3"/>
<rect x="48.50" y="270.96" width="18.30" height="4.84" fill="#83B4E1"/>
<rect x="66.80" y="270.96" width="18.20" height="4.84" fill="#76A7DB"/>
<rect x="85.00" y="270.96" width="18.20" height="4.84" fill="#7CAEDE"/>
<rect x="107.20" y="270.96" width="18.10" height="4.84" fill="#86B7E2"/>
<rect x="125.30" y="270.96" width="18.10" height="4.84" fill="#80B2E0"/>
<rect x="143.40" y="270.96" width="18.10" height="4.84" fill="#7CAEDE"/>
<rect x="161.50" y="270.96" width="18.10" height="4.84" fill="#9AC6E9"/>
<rect x="179.60" y="270.96" width="18.10" height="4.84" fill="#80B2E0"/>
<rect x="204.00" y="270.96" width="17.20" height="4.84" fill="#6C9ED7"/>
<rect x="227.00" y="270.96" width="17.60" height="4.84" fill="#76A7DB"/>
<rect x="250.00" y="270.96" width="15.60" height="4.84" fill="#72A3D9"/>
<rect x="271.00" y="270.96" width="15.60" height="4.84" fill="#76A7DB"/>
<rect x="292.20" y="270.96" width="17.80" height="4.84" fill="#72A3D9"/>
<rect x="316.00" y="270.96" width="17.20" height="4.84" fill="#72A3D9"/>
<rect x="338.80" y="270.96" width="18.30" height="4.84" fill="#70A2D8"/>
<rect x="48.50" y="275.76" width="18.30" height="4.84" fill="#7EAFDF"/>
<rect x="66.80" y="275.76" width="18.20" height="4.84" fill="#7CAEDE"/>
<rect x="85.00" y="275.76" width="18.20" height="4.84" fill="#86B7E2"/>
<rect x="107.20" y="275.76" width="18.10" height="4.84" fill="#83B4E1"/>
<rect x="125.30" y="275.76" width="18.10" height="4.84" fill="#86B7E2"/>
<rect x="143.40" y="275.76" width="18.10" height="4.84" fill="#83B4E1"/>
<rect x="161.50" y="275.76" width="18.10" height="4.84" fill="#7EAFDF"/>
<rect x="179.60" y="275.76" width="18.10" height="4.84" fill="#87B8E3"/>
<rect x="204.00" y="275.76" width="17.20" height="4.84" fill="#72A3D9"/>
<rect x="227.00" y="275.76" width="17.60" height="4.84" fill="#7AABDD"/>
<rect x="250.00" y="275.76" width="15.60" height="4.84" fill="#78AADC"/>
<rect x="271.00" y="275.76" width="15.60" height="4.84" fill="#7AABDD"/>
<rect x="292.20" y="275.76" width="17.80" height="4.84" fill="#72A3D9"/>
<rect x="316.00" y="275.76" width="17.20" height="4.84" fill="#86B7E2"/>
<rect x="338.80" y="275.76" width="18.30" height="4.84" fill="#72A3D9"/>
<rect x="48.50" y="280.55" width="18.30" height="4.84" fill="#76A7DB"/>
<rect x="66.80" y="280.55" width="18.20" height="4.84" fill="#7EAFDF"/>
<rect x="85.00" y="280.55" width="18.20" height="4.84" fill="#7CAEDE"/>
<rect x="107.20" y="280.55" width="18.10" height="4.84" fill="#8BBCE5"/>
<rect x="125.30" y="280.55" width="18.10" height="4.84" fill="#8BBCE5"/>
<rect x="143.40" y="280.55" width="18.10" height="4.84" fill="#89BBE4"/>
<rect x="161.50" y="280.55" width="18.10" height="4.84" fill="#86B7E2"/>
<rect x="179.60" y="280.55" width="18.10" height="4.84" fill="#99C6E9"/>
<rect x="204.00" y="280.55" width="17.20" height="4.84" fill="#A0CAEB"/>
<rect x="227.00" y="280.55" width="17.60" height="4.84" fill="#86B7E2"/>
<rect x="250.00" y="280.55" width="15.60" height="4.84" fill="#7EAFDF"/>
<rect x="271.00" y="280.55" width="15.60" height="4.84" fill="#7EAFDF"/>
<rect x="292.20" y="280.55" width="17.80" height="4.84" fill="#6294D2"/>
<rect x="316.00" y="280.55" width="17.20" height="4.84" fill="#87B8E3"/>
<rect x="338.80" y="280.55" width="18.30" height="4.84" fill="#7EAFDF"/>
<rect x="48.50" y="285.34" width="18.30" height="4.84" fill="#7CAEDE"/>
<rect x="66.80" y="285.34" width="18.20" height="4.84" fill="#89BBE4"/>
<rect x="85.00" y="285.34" width="18.20" height="4.84" fill="#8FBFE6"/>
<rect x="107.20" y="285.34" width="18.10" height="4.84" fill="#9AC6E9"/>
<rect x="125.30" y="285.34" width="18.10" height="4.84" fill="#8BBCE5"/>
<rect x="143.40" y="285.34" width="18.10" height="4.84" fill="#9EC9EA"/>
<rect x="161.50" y="285.34" width="18.10" height="4.84" fill="#96C4E8"/>
<rect x="179.60" y="285.34" width="18.10" height="4.84" fill="#A3CCEB"/>
<rect x="204.00" y="285.34" width="17.20" height="4.84" fill="#B5D8F0"/>
<rect x="227.00" y="285.34" width="17.60" height="4.84" fill="#89BBE4"/>
<rect x="250.00" y="285.34" width="15.60" height="4.84" fill="#80B2E0"/>
<rect x="271.00" y="285.34" width="15.60" height="4.84" fill="#86B7E2"/>
<rect x="292.20" y="285.34" width="17.80" height="4.84" fill="#80B2E0"/>
<rect x="316.00" y="285.34" width="17.20" height="4.84" fill="#76A7DB"/>
<rect x="338.80" y="285.34" width="18.30" height="4.84" fill="#7EAFDF"/>
<rect x="48.50" y="290.14" width="18.30" height="4.84" fill="#6A9CD5"/>
<rect x="66.80" y="290.14" width="18.20" height="4.84" fill="#6C9ED7"/>
<rect x="85.00" y="290.14" width="18.20" height="4.84" fill="#74A6DA"/>
<rect x="107.20" y="290.14" width="18.10" height="4.84" fill="#76A7DB"/>
<rect x="125.30" y="290.14" width="18.10" height="4.84" fill="#7AABDD"/>
<rect x="143.40" y="290.14" width="18.10" height="4.84" fill="#7AABDD"/>
<rect x="161.50" y="290.14" width="18.10" height="4.84" fill="#96C4E8"/>
<rect x="179.60" y="290.14" width="18.10" height="4.84" fill="#94C3E8"/>
<rect x="204.00" y="290.14" width="17.20" height="4.84" fill="#BCDCF2"/>
<rect x="227.00" y="290.14" width="17.60" height="4.84" fill="#8DBEE6"/>
<rect x="250.00" y="290.14" width="15.60" height="4.84" fill="#89BBE4"/>
<rect x="271.00" y="290.14" width="15.60" height="4.84" fill="#89BBE4"/>
<rect x="292.20" y="290.14" width="17.80" height="4.84" fill="#70A2D8"/>
<rect x="316.00" y="290.14" width="17.20" height="4.84" fill="#78AADC"/>
<rect x="338.80" y="290.14" width="18.30" height="4.84" fill="#7AABDD"/>
<rect x="48.50" y="294.93" width="18.30" height="4.84" fill="#99C6E9"/>
<rect x="66.80" y="294.93" width="18.20" height="4.84" fill="#D9EFF9"/>
<rect x="85.00" y="294.93" width="18.20" height="4.84" fill="#E0F3F7"/>
<rect x="107.20" y="294.93" width="18.10" height="4.84" fill="#E4F4F0"/>
<rect x="125.30" y="294.93" width="18.10" height="4.84" fill="#EDF8E0"/>
<rect x="143.40" y="294.93" width="18.10" height="4.84" fill="#FDFEC2"/>
<rect x="161.50" y="294.93" width="18.10" height="4.84" fill="#B5D8F0"/>
<rect x="179.60" y="294.93" width="18.10" height="4.84" fill="#AFD4EE"/>
<rect x="204.00" y="294.93" width="17.20" height="4.84" fill="#F5FBD1"/>
<rect x="227.00" y="294.93" width="17.60" height="4.84" fill="#AFD4EE"/>
<rect x="250.00" y="294.93" width="15.60" height="4.84" fill="#E6F5EB"/>
<rect x="271.00" y="294.93" width="15.60" height="4.84" fill="#C3E1F3"/>
<rect x="292.20" y="294.93" width="17.80" height="4.84" fill="#D8EEF8"/>
<rect x="316.00" y="294.93" width="17.20" height="4.84" fill="#E0F3F6"/>
<rect x="338.80" y="294.93" width="18.30" height="4.84" fill="#DBF0F9"/>
<rect x="48.50" y="299.72" width="18.30" height="4.84" fill="#97C5E9"/>
<rect x="66.80" y="299.72" width="18.20" height="4.84" fill="#9EC9EA"/>
<rect x="85.00" y="299.72" width="18.20" height="4.84" fill="#F3FAD4"/>
<rect x="107.20" y="299.72" width="18.10" height="4.84" fill="#BFDEF2"/>
<rect x="125.30" y="299.72" width="18.10" height="4.84" fill="#B5D8F0"/>
<rect x="143.40" y="299.72" width="18.10" height="4.84" fill="#B8D9F1"/>
<rect x="161.50" y="299.72" width="18.10" height="4.84" fill="#B5D8F0"/>
<rect x="179.60" y="299.72" width="18.10" height="4.84" fill="#CBE6F5"/>
<rect x="204.00" y="299.72" width="17.20" height="4.84" fill="#D2EAF7"/>
<rect x="227.00" y="299.72" width="17.60" height="4.84" fill="#C3E1F3"/>
<rect x="250.00" y="299.72" width="15.60" height="4.84" fill="#BCDCF2"/>
<rect x="271.00" y="299.72" width="15.60" height="4.84" fill="#BCDCF2"/>
<rect x="292.20" y="299.72" width="17.80" height="4.84" fill="#C7E3F4"/>
<rect x="316.00" y="299.72" width="17.20" height="4.84" fill="#B8D9F1"/>
<rect x="338.80" y="299.72" width="18.30" height="4.84" fill="#CFE9F6"/>
<rect x="48.50" y="304.52" width="18.30" height="4.84" fill="#D8EEF8"/>
<rect x="66.80" y="304.52" width="18.20" height="4.84" fill="#CBE6F5"/>
<rect x="85.00" y="304.52" width="18.20" height="4.84" fill="#CFE9F6"/>
<rect x="107.20" y="304.52" width="18.10" height="4.84" fill="#B5D8F0"/>
<rect x="125.30" y="304.52" width="18.10" height="4.84" fill="#B8D9F1"/>
<rect x="143.40" y="304.52" width="18.10" height="4.84" fill="#C7E3F4"/>
<rect x="161.50" y="304.52" width="18.10" height="4.84" fill="#C3E1F3"/>
<rect x="179.60" y="304.52" width="18.10" height="4.84" fill="#A7CFEC"/>
<rect x="204.00" y="304.52" width="17.20" height="4.84" fill="#D7EDF8"/>
<rect x="227.00" y="304.52" width="17.60" height="4.84" fill="#D2EAF7"/>
<rect x="250.00" y="304.52" width="15.60" height="4.84" fill="#BFDEF2"/>
<rect x="271.00" y="304.52" width="15.60" height="4.84" fill="#CBE6F5"/>
<rect x="292.20" y="304.52" width="17.80" height="4.84" fill="#A7CFEC"/>
<rect x="316.00" y="304.52" width="17.20" height="4.84" fill="#A7CFEC"/>
<rect x="338.80" y="304.52" width="18.30" height="4.84" fill="#B8D9F1"/>
<rect x="48.50" y="309.31" width="18.30" height="4.84" fill="#BFDEF2"/>
<rect x="66.80" y="309.31" width="18.20" height="4.84" fill="#A7CFEC"/>
<rect x="85.00" y="309.31" width="18.20" height="4.84" fill="#ABD1ED"/>
<rect x="107.20" y="309.31" width="18.10" height="4.84" fill="#ABD1ED"/>
<rect x="125.30" y="309.31" width="18.10" height="4.84" fill="#B8D9F1"/>
<rect x="143.40" y="309.31" width="18.10" height="4.84" fill="#BCDCF2"/>
<rect x="161.50" y="309.31" width="18.10" height="4.84" fill="#B8D9F1"/>
<rect x="179.60" y="309.31" width="18.10" height="4.84" fill="#B8D9F1"/>
<rect x="204.00" y="309.31" width="17.20" height="4.84" fill="#E9F6E6"/>
<rect x="227.00" y="309.31" width="17.60" height="4.84" fill="#C7E3F4"/>
<rect x="250.00" y="309.31" width="15.60" height="4.84" fill="#B8D9F1"/>
<rect x="271.00" y="309.31" width="15.60" height="4.84" fill="#BFDEF2"/>
<rect x="292.20" y="309.31" width="17.80" height="4.84" fill="#A7CFEC"/>
<rect x="316.00" y="309.31" width="17.20" height="4.84" fill="#A3CCEB"/>
<rect x="338.80" y="309.31" width="18.30" height="4.84" fill="#D8EEF8"/>
<rect x="48.50" y="314.10" width="18.30" height="4.84" fill="#6A9CD5"/>
<rect x="66.80" y="314.10" width="18.20" height="4.84" fill="#74A6DA"/>
<rect x="85.00" y="314.10" width="18.20" height="4.84" fill="#7CAEDE"/>
<rect x="107.20" y="314.10" width="18.10" height="4.84" fill="#96C4E8"/>
<rect x="125.30" y="314.10" width="18.10" height="4.84" fill="#A7CFEC"/>
<rect x="143.40" y="314.10" width="18.10" height="4.84" fill="#ABD1ED"/>
<rect x="161.50" y="314.10" width="18.10" height="4.84" fill="#A7CFEC"/>
<rect x="179.60" y="314.10" width="18.10" height="4.84" fill="#9EC9EA"/>
<rect x="204.00" y="314.10" width="17.20" height="4.84" fill="#C3E1F3"/>
<rect x="227.00" y="314.10" width="17.60" height="4.84" fill="#A3CCEB"/>
<rect x="250.00" y="314.10" width="15.60" height="4.84" fill="#A3CCEB"/>
<rect x="271.00" y="314.10" width="15.60" height="4.84" fill="#A7CFEC"/>
<rect x="292.20" y="314.10" width="17.80" height="4.84" fill="#7EAFDF"/>
<rect x="316.00" y="314.10" width="17.20" height="4.84" fill="#96C4E8"/>
<rect x="338.80" y="314.10" width="18.30" height="4.84" fill="#86B7E2"/>
<rect x="48.50" y="318.89" width="18.30" height="4.84" fill="#5689CC"/>
<rect x="66.80" y="318.89" width="18.20" height="4.84" fill="#6C9ED7"/>
<rect x="85.00" y="318.89" width="18.20" height="4.84" fill="#70A2D8"/>
<rect x="107.20" y="318.89" width="18.10" height="4.84" fill="#89BBE4"/>
<rect x="125.30" y="318.89" width="18.10" height="4.84" fill="#A7CFEC"/>
<rect x="143.40" y="318.89" width="18.10" height="4.84" fill="#A7CFEC"/>
<rect x="161.50" y="318.89" width="18.10" height="4.84" fill="#9AC6E9"/>
<rect x="179.60" y="318.89" width="18.10" height="4.84" fill="#B8D9F1"/>
<rect x="204.00" y="318.89" width="17.20" height="4.84" fill="#EBF7E3"/>
<rect x="227.00" y="318.89" width="17.60" height="4.84" fill="#A3CCEB"/>
<rect x="250.00" y="318.89" width="15.60" height="4.84" fill="#A7CFEC"/>
<rect x="271.00" y="318.89" width="15.60" height="4.84" fill="#96C4E8"/>
<rect x="292.20" y="318.89" width="17.80" height="4.84" fill="#92C1E7"/>
<rect x="316.00" y="318.89" width="17.20" height="4.84" fill="#96C4E8"/>
<rect x="338.80" y="318.89" width="18.30" height="4.84" fill="#96C4E8"/>
<rect x="48.50" y="323.69" width="18.30" height="4.84" fill="#9EC9EA"/>
<rect x="66.80" y="323.69" width="18.20" height="4.84" fill="#9AC6E9"/>
<rect x="85.00" y="323.69" width="18.20" height="4.84" fill="#A3CCEB"/>
<rect x="107.20" y="323.69" width="18.10" height="4.84" fill="#B5D8F0"/>
<rect x="125.30" y="323.69" width="18.10" height="4.84" fill="#A7CFEC"/>
<rect x="143.40" y="323.69" width="18.10" height="4.84" fill="#9EC9EA"/>
<rect x="161.50" y="323.69" width="18.10" height="4.84" fill="#B8D9F1"/>
<rect x="179.60" y="323.69" width="18.10" height="4.84" fill="#B8D9F1"/>
<rect x="204.00" y="323.69" width="17.20" height="4.84" fill="#BCDCF2"/>
<rect x="227.00" y="323.69" width="17.60" height="4.84" fill="#AFD4EE"/>
<rect x="250.00" y="323.69" width="15.60" height="4.84" fill="#96C4E8"/>
<rect x="271.00" y="323.69" width="15.60" height="4.84" fill="#A3CCEB"/>
<rect x="292.20" y="323.69" width="17.80" height="4.84" fill="#9EC9EA"/>
<rect x="316.00" y="323.69" width="17.20" height="4.84" fill="#A3CCEB"/>
<rect x="338.80" y="323.69" width="18.30" height="4.84" fill="#A3CCEB"/>
<rect x="48.50" y="328.48" width="18.30" height="4.84" fill="#9AC6E9"/>
<rect x="66.80" y="328.48" width="18.20" height="4.84" fill="#9EC9EA"/>
<rect x="85.00" y="328.48" width="18.20" height="4.84" fill="#A3CCEB"/>
<rect x="107.20" y="328.48" width="18.10" height="4.84" fill="#CFE9F6"/>
<rect x="125.30" y="328.48" width="18.10" height="4.84" fill="#B8D9F1"/>
<rect x="143.40" y="328.48" width="18.10" height="4.84" fill="#ABD1ED"/>
<rect x="161.50" y="328.48" width="18.10" height="4.84" fill="#D2EAF7"/>
<rect x="179.60" y="328.48" width="18.10" height="4.84" fill="#BCDCF2"/>
<rect x="204.00" y="328.48" width="17.20" height="4.84" fill="#BCDCF2"/>
<rect x="227.00" y="328.48" width="17.60" height="4.84" fill="#A7CFEC"/>
<rect x="250.00" y="328.48" width="15.60" height="4.84" fill="#ABD1ED"/>
<rect x="271.00" y="328.48" width="15.60" height="4.84" fill="#B8D9F1"/>
<rect x="292.20" y="328.48" width="17.80" height="4.84" fill="#96C4E8"/>
<rect x="316.00" y="328.48" width="17.20" height="4.84" fill="#A7CFEC"/>
<rect x="338.80" y="328.48" width="18.30" height="4.84" fill="#A3CCEB"/>
<rect x="48.50" y="333.27" width="18.30" height="4.84" fill="#92C1E7"/>
<rect x="66.80" y="333.27" width="18.20" height="4.84" fill="#96C4E8"/>
<rect x="85.00" y="333.27" width="18.20" height="4.84" fill="#A7CFEC"/>
<rect x="107.20" y="333.27" width="18.10" height="4.84" fill="#B5D8F0"/>
<rect x="125.30" y="333.27" width="18.10" height="4.84" fill="#ABD1ED"/>
<rect x="143.40" y="333.27" width="18.10" height="4.84" fill="#B8D9F1"/>
<rect x="161.50" y="333.27" width="18.10" height="4.84" fill="#E1F3F5"/>
<rect x="179.60" y="333.27" width="18.10" height="4.84" fill="#E5F5EE"/>
<rect x="204.00" y="333.27" width="17.20" height="4.84" fill="#D7EDF8"/>
<rect x="227.00" y="333.27" width="17.60" height="4.84" fill="#B8D9F1"/>
<rect x="250.00" y="333.27" width="15.60" height="4.84" fill="#AFD4EE"/>
<rect x="271.00" y="333.27" width="15.60" height="4.84" fill="#AFD4EE"/>
<rect x="292.20" y="333.27" width="17.80" height="4.84" fill="#A3CCEB"/>
<rect x="316.00" y="333.27" width="17.20" height="4.84" fill="#A7CFEC"/>
<rect x="338.80" y="333.27" width="18.30" height="4.84" fill="#92C1E7"/>
<rect x="48.50" y="338.07" width="18.30" height="4.84" fill="#92C1E7"/>
<rect x="66.80" y="338.07" width="18.20" height="4.84" fill="#9AC6E9"/>
<rect x="85.00" y="338.07" width="18.20" height="4.84" fill="#AFD4EE"/>
<rect x="107.20" y="338.07" width="18.10" height="4.84" fill="#92C1E7"/>
<rect x="125.30" y="338.07" width="18.10" height="4.84" fill="#ABD1ED"/>
<rect x="143.40" y="338.07" width="18.10" height="4.84" fill="#ABD1ED"/>
<rect x="161.50" y="338.07" width="18.10" height="4.84" fill="#BCDCF2"/>
<rect x="179.60" y="338.07" width="18.10" height="4.84" fill="#E9F6E7"/>
<rect x="204.00" y="338.07" width="17.20" height="4.84" fill="#E2F4F2"/>
<rect x="227.00" y="338.07" width="17.60" height="4.84" fill="#9EC9EA"/>
<rect x="250.00" y="338.07" width="15.60" height="4.84" fill="#9EC9EA"/>
<rect x="271.00" y="338.07" width="15.60" height="4.84" fill="#96C4E8"/>
<rect x="292.20" y="338.07" width="17.80" height="4.84" fill="#89BBE4"/>
<rect x="316.00" y="338.07" width="17.20" height="4.84" fill="#A3CCEB"/>
<rect x="338.80" y="338.07" width="18.30" height="4.84" fill="#96C4E8"/>
<rect x="48.50" y="342.86" width="18.30" height="4.84" fill="#9AC6E9"/>
<rect x="66.80" y="342.86" width="18.20" height="4.84" fill="#9EC9EA"/>
<rect x="85.00" y="342.86" width="18.20" height="4.84" fill="#A7CFEC"/>
<rect x="107.20" y="342.86" width="18.10" height="4.84" fill="#9EC9EA"/>
<rect x="125.30" y="342.86" width="18.10" height="4.84" fill="#ABD1ED"/>
<rect x="143.40" y="342.86" width="18.10" height="4.84" fill="#ABD1ED"/>
<rect x="161.50" y="342.86" width="18.10" height="4.84" fill="#BCDCF2"/>
<rect x="179.60" y="342.86" width="18.10" height="4.84" fill="#DBF0F9"/>
<rect x="204.00" y="342.86" width="17.20" height="4.84" fill="#C7E3F4"/>
<rect x="227.00" y="342.86" width="17.60" height="4.84" fill="#D2EAF7"/>
<rect x="250.00" y="342.86" width="15.60" height="4.84" fill="#ABD1ED"/>
<rect x="271.00" y="342.86" width="15.60" height="4.84" fill="#92C1E7"/>
<rect x="292.20" y="342.86" width="17.80" height="4.84" fill="#80B2E0"/>
<rect x="316.00" y="342.86" width="17.20" height="4.84" fill="#A7CFEC"/>
<rect x="338.80" y="342.86" width="18.30" height="4.84" fill="#A3CCEB"/>
<rect x="48.50" y="347.65" width="18.30" height="4.84" fill="#FFF7B3"/>
<rect x="66.80" y="347.65" width="18.20" height="4.84" fill="#FFFCBB"/>
<rect x="85.00" y="347.65" width="18.20" height="4.84" fill="#FFFCBB"/>
<rect x="107.20" y="347.65" width="18.10" height="4.84" fill="#FFF4AE"/>
<rect x="125.30" y="347.65" width="18.10" height="4.84" fill="#FEECA2"/>
<rect x="143.40" y="347.65" width="18.10" height="4.84" fill="#FEECA2"/>
<rect x="161.50" y="347.65" width="18.10" height="4.84" fill="#FEECA2"/>
<rect x="179.60" y="347.65" width="18.10" height="4.84" fill="#FC9C63"/>
<rect x="204.00" y="347.65" width="17.20" height="4.84" fill="#FFF2AB"/>
<rect x="227.00" y="347.65" width="17.60" height="4.84" fill="#FEECA2"/>
<rect x="250.00" y="347.65" width="15.60" height="4.84" fill="#FFF7B3"/>
<rect x="271.00" y="347.65" width="15.60" height="4.84" fill="#FFF7B3"/>
<rect x="292.20" y="347.65" width="17.80" height="4.84" fill="#FFF2AB"/>
<rect x="316.00" y="347.65" width="17.20" height="4.84" fill="#FFF7B3"/>
<rect x="338.80" y="347.65" width="18.30" height="4.84" fill="#FFFCBB"/>
<rect x="48.50" y="352.45" width="18.30" height="4.84" fill="#FEECA2"/>
<rect x="66.80" y="352.45" width="18.20" height="4.84" fill="#FFF2AB"/>
<rect x="85.00" y="352.45" width="18.20" height="4.84" fill="#FFF7B3"/>
<rect x="107.20" y="352.45" width="18.10" height="4.84" fill="#FEE99E"/>
<rect x="125.30" y="352.45" width="18.10" height="4.84" fill="#FEE79A"/>
<rect x="143.40" y="352.45" width="18.10" height="4.84" fill="#FEECA2"/>
<rect x="161.50" y="352.45" width="18.10" height="4.84" fill="#FEE79A"/>
<rect x="179.60" y="352.45" width="18.10" height="4.84" fill="#FDAA6C"/>
<rect x="204.00" y="352.45" width="17.20" height="4.84" fill="#FDB976"/>
<rect x="227.00" y="352.45" width="17.60" height="4.84" fill="#FDC77F"/>
<rect x="250.00" y="352.45" width="15.60" height="4.84" fill="#FEECA2"/>
<rect x="271.00" y="352.45" width="15.60" height="4.84" fill="#FFF2AB"/>
<rect x="292.20" y="352.45" width="17.80" height="4.84" fill="#FEECA2"/>
<rect x="316.00" y="352.45" width="17.20" height="4.84" fill="#FFF7B3"/>
<rect x="338.80" y="352.45" width="18.30" height="4.84" fill="#FFF2AB"/>
<rect x="48.50" y="357.24" width="18.30" height="4.84" fill="#FEEFA7"/>
<rect x="66.80" y="357.24" width="18.20" height="4.84" fill="#FEEFA7"/>
<rect x="85.00" y="357.24" width="18.20" height="4.84" fill="#FEEDA4"/>
<rect x="107.20" y="357.24" width="18.10" height="4.84" fill="#FFF2AB"/>
<rect x="125.30" y="357.24" width="18.10" height="4.84" fill="#FEECA2"/>
<rect x="143.40" y="357.24" width="18.10" height="4.84" fill="#FFF2AB"/>
<rect x="161.50" y="357.24" width="18.10" height="4.84" fill="#FEECA2"/>
<rect x="179.60" y="357.24" width="18.10" height="4.84" fill="#FEE79A"/>
<rect x="204.00" y="357.24" width="17.20" height="4.84" fill="#FEE79A"/>
<rect x="227.00" y="357.24" width="17.60" height="4.84" fill="#FEECA2"/>
<rect x="250.00" y="357.24" width="15.60" height="4.84" fill="#FFF2AB"/>
<rect x="271.00" y="357.24" width="15.60" height="4.84" fill="#FFF2AB"/>
<rect x="292.20" y="357.24" width="17.80" height="4.84" fill="#FFF2AB"/>
<rect x="316.00" y="357.24" width="17.20" height="4.84" fill="#FFF7B3"/>
<rect x="338.80" y="357.24" width="18.30" height="4.84" fill="#FFF7B3"/>
<rect x="48.50" y="362.03" width="18.30" height="4.84" fill="#FEECA2"/>
<rect x="66.80" y="362.03" width="18.20" height="4.84" fill="#FEECA2"/>
<rect x="85.00" y="362.03" width="18.20" height="4.84" fill="#FEE79A"/>
<rect x="107.20" y="362.03" width="18.10" height="4.84" fill="#FEECA2"/>
<rect x="125.30" y="362.03" width="18.10" height="4.84" fill="#FEECA2"/>
<rect x="143.40" y="362.03" width="18.10" height="4.84" fill="#FEECA2"/>
<rect x="161.50" y="362.03" width="18.10" height="4.84" fill="#FEECA2"/>
<rect x="179.60" y="362.03" width="18.10" height="4.84" fill="#FEE79A"/>
<rect x="204.00" y="362.03" width="17.20" height="4.84" fill="#FEE79A"/>
<rect x="227.00" y="362.03" width="17.60" height="4.84" fill="#FEECA2"/>
<rect x="250.00" y="362.03" width="15.60" height="4.84" fill="#FEECA2"/>
<rect x="271.00" y="362.03" width="15.60" height="4.84" fill="#FFF2AB"/>
<rect x="292.20" y="362.03" width="17.80" height="4.84" fill="#FEECA2"/>
<rect x="316.00" y="362.03" width="17.20" height="4.84" fill="#FFF2AB"/>
<rect x="338.80" y="362.03" width="18.30" height="4.84" fill="#FEECA2"/>
<rect x="48.50" y="366.82" width="18.30" height="4.84" fill="#FEECA2"/>
<rect x="66.80" y="366.82" width="18.20" height="4.84" fill="#FEECA2"/>
<rect x="85.00" y="366.82" width="18.20" height="4.84" fill="#FEE79A"/>
<rect x="107.20" y="366.82" width="18.10" height="4.84" fill="#FEECA2"/>
<rect x="125.30" y="366.82" width="18.10" height="4.84" fill="#FEECA2"/>
<rect x="143.40" y="366.82" width="18.10" height="4.84" fill="#FEECA2"/>
<rect x="161.50" y="366.82" width="18.10" height="4.84" fill="#FEE79A"/>
<rect x="179.60" y="366.82" width="18.10" height="4.84" fill="#FEE192"/>
<rect x="204.00" y="366.82" width="17.20" height="4.84" fill="#FEE79A"/>
<rect x="227.00" y="366.82" width="17.60" height="4.84" fill="#FEECA2"/>
<rect x="250.00" y="366.82" width="15.60" height="4.84" fill="#FEECA2"/>
<rect x="271.00" y="366.82" width="15.60" height="4.84" fill="#FEECA2"/>
<rect x="292.20" y="366.82" width="17.80" height="4.84" fill="#FFF2AB"/>
<rect x="316.00" y="366.82" width="17.20" height="4.84" fill="#FFF2AB"/>
<rect x="338.80" y="366.82" width="18.30" height="4.84" fill="#FFF2AB"/>
<rect x="48.50" y="371.62" width="18.30" height="4.84" fill="#FEECA2"/>
<rect x="66.80" y="371.62" width="18.20" height="4.84" fill="#FEECA2"/>
<rect x="85.00" y="371.62" width="18.20" height="4.84" fill="#FEECA2"/>
<rect x="107.20" y="371.62" width="18.10" height="4.84" fill="#FEEFA7"/>
<rect x="125.30" y="371.62" width="18.10" height="4.84" fill="#FFF2AB"/>
<rect x="143.40" y="371.62" width="18.10" height="4.84" fill="#FEECA2"/>
<rect x="161.50" y="371.62" width="18.10" height="4.84" fill="#FEECA2"/>
<rect x="179.60" y="371.62" width="18.10" height="4.84" fill="#FEE192"/>
<rect x="204.00" y="371.62" width="17.20" height="4.84" fill="#FEE79A"/>
<rect x="227.00" y="371.62" width="17.60" height="4.84" fill="#FEECA2"/>
<rect x="250.00" y="371.62" width="15.60" height="4.84" fill="#FEECA2"/>
<rect x="271.00" y="371.62" width="15.60" height="4.84" fill="#FFF2AB"/>
<rect x="292.20" y="371.62" width="17.80" height="4.84" fill="#FFF2AB"/>
<rect x="316.00" y="371.62" width="17.20" height="4.84" fill="#FFF2AB"/>
<rect x="338.80" y="371.62" width="18.30" height="4.84" fill="#FFF2AB"/>
<rect x="48.50" y="376.41" width="18.30" height="4.84" fill="#FEECA2"/>
<rect x="66.80" y="376.41" width="18.20" height="4.84" fill="#FEECA2"/>
<rect x="85.00" y="376.41" width="18.20" height="4.84" fill="#FEE79A"/>
<rect x="107.20" y="376.41" width="18.10" height="4.84" fill="#FEECA2"/>
<rect x="125.30" y="376.41" width="18.10" height="4.84" fill="#FFF2AB"/>
<rect x="143.40" y="376.41" width="18.10" height="4.84" fill="#FEE79A"/>
<rect x="161.50" y="376.41" width="18.10" height="4.84" fill="#FEE192"/>
<rect x="179.60" y="376.41" width="18.10" height="4.84" fill="#FDB976"/>
<rect x="204.00" y="376.41" width="17.20" height="4.84" fill="#FEE192"/>
<rect x="227.00" y="376.41" width="17.60" height="4.84" fill="#FEE192"/>
<rect x="250.00" y="376.41" width="15.60" height="4.84" fill="#FFF2AB"/>
<rect x="271.00" y="376.41" width="15.60" height="4.84" fill="#FFF2AB"/>
<rect x="292.20" y="376.41" width="17.80" height="4.84" fill="#FFF7B3"/>
<rect x="316.00" y="376.41" width="17.20" height="4.84" fill="#FFF2AB"/>
<rect x="338.80" y="376.41" width="18.30" height="4.84" fill="#FFF7B3"/>
<rect x="48.50" y="381.20" width="18.30" height="4.84" fill="#FEECA2"/>
<rect x="66.80" y="381.20" width="18.20" height="4.84" fill="#FFF2AB"/>
<rect x="85.00" y="381.20" width="18.20" height="4.84" fill="#FEECA2"/>
<rect x="107.20" y="381.20" width="18.10" height="4.84" fill="#FEECA2"/>
<rect x="125.30" y="381.20" width="18.10" height="4.84" fill="#FEECA2"/>
<rect x="143.40" y="381.20" width="18.10" height="4.84" fill="#FEE79A"/>
<rect x="161.50" y="381.20" width="18.10" height="4.84" fill="#FED589"/>
<rect x="179.60" y="381.20" width="18.10" height="4.84" fill="#FDAA6C"/>
<rect x="204.00" y="381.20" width="17.20" height="4.84" fill="#FED589"/>
<rect x="227.00" y="381.20" width="17.60" height="4.84" fill="#FEECA2"/>
<rect x="250.00" y="381.20" width="15.60" height="4.84" fill="#FFF2AB"/>
<rect x="271.00" y="381.20" width="15.60" height="4.84" fill="#FFF2AB"/>
<rect x="292.20" y="381.20" width="17.80" height="4.84" fill="#FFF7B3"/>
<rect x="316.00" y="381.20" width="17.20" height="4.84" fill="#FFF7B3"/>
<rect x="338.80" y="381.20" width="18.30" height="4.84" fill="#FFF7B3"/>
<rect x="48.50" y="386.00" width="18.30" height="4.84" fill="#FFF7B3"/>
<rect x="66.80" y="386.00" width="18.20" height="4.84" fill="#FFFCBB"/>
<rect x="85.00" y="386.00" width="18.20" height="4.84" fill="#FFF7B3"/>
<rect x="107.20" y="386.00" width="18.10" height="4.84" fill="#FFF2AB"/>
<rect x="125.30" y="386.00" width="18.10" height="4.84" fill="#FEE79A"/>
<rect x="143.40" y="386.00" width="18.10" height="4.84" fill="#FEE192"/>
<rect x="161.50" y="386.00" width="18.10" height="4.84" fill="#FDC77F"/>
<rect x="179.60" y="386.00" width="18.10" height="4.84" fill="#FDAA6C"/>
<rect x="204.00" y="386.00" width="17.20" height="4.84" fill="#FDAA6C"/>
<rect x="227.00" y="386.00" width="17.60" height="4.84" fill="#FEECA2"/>
<rect x="250.00" y="386.00" width="15.60" height="4.84" fill="#FEECA2"/>
<rect x="271.00" y="386.00" width="15.60" height="4.84" fill="#FEECA2"/>
<rect x="292.20" y="386.00" width="17.80" height="4.84" fill="#FFF7B3"/>
<rect x="316.00" y="386.00" width="17.20" height="4.84" fill="#FFF7B3"/>
<rect x="338.80" y="386.00" width="18.30" height="4.84" fill="#FFFCBB"/>
<rect x="48.50" y="390.79" width="18.30" height="4.84" fill="#FFF7B3"/>
<rect x="66.80" y="390.79" width="18.20" height="4.84" fill="#FFF7B3"/>
<rect x="85.00" y="390.79" width="18.20" height="4.84" fill="#FFF2AB"/>
<rect x="107.20" y="390.79" width="18.10" height="4.84" fill="#FFF2AB"/>
<rect x="125.30" y="390.79" width="18.10" height="4.84" fill="#FFF2AB"/>
<rect x="143.40" y="390.79" width="18.10" height="4.84" fill="#FEECA2"/>
<rect x="161.50" y="390.79" width="18.10" height="4.84" fill="#FEE79A"/>
<rect x="179.60" y="390.79" width="18.10" height="4.84" fill="#FEE79A"/>
<rect x="204.00" y="390.79" width="17.20" height="4.84" fill="#FDAA6C"/>
<rect x="227.00" y="390.79" width="17.60" height="4.84" fill="#FEECA2"/>
<rect x="250.00" y="390.79" width="15.60" height="4.84" fill="#FEECA2"/>
<rect x="271.00" y="390.79" width="15.60" height="4.84" fill="#FFF7B3"/>
<rect x="292.20" y="390.79" width="17.80" height="4.84" fill="#FFF2AB"/>
<rect x="316.00" y="390.79" width="17.20" height="4.84" fill="#FFF2AB"/>
<rect x="338.80" y="390.79" width="18.30" height="4.84" fill="#FFF7B3"/>
<rect x="48.50" y="395.58" width="18.30" height="4.84" fill="#FDC77F"/>
<rect x="66.80" y="395.58" width="18.20" height="4.84" fill="#FEE79A"/>
<rect x="85.00" y="395.58" width="18.20" height="4.84" fill="#FEE79A"/>
<rect x="107.20" y="395.58" width="18.10" height="4.84" fill="#FEE99E"/>
<rect x="125.30" y="395.58" width="18.10" height="4.84" fill="#FEE79A"/>
<rect x="143.40" y="395.58" width="18.10" height="4.84" fill="#FED589"/>
<rect x="161.50" y="395.58" width="18.10" height="4.84" fill="#FEE192"/>
<rect x="179.60" y="395.58" width="18.10" height="4.84" fill="#FFF2AB"/>
<rect x="204.00" y="395.58" width="17.20" height="4.84" fill="#FEECA2"/>
<rect x="227.00" y="395.58" width="17.60" height="4.84" fill="#FEE79A"/>
<rect x="250.00" y="395.58" width="15.60" height="4.84" fill="#FEE192"/>
<rect x="271.00" y="395.58" width="15.60" height="4.84" fill="#FEE192"/>
<rect x="292.20" y="395.58" width="17.80" height="4.84" fill="#E5F5ED"/>
<rect x="316.00" y="395.58" width="17.20" height="4.84" fill="#FEE192"/>
<rect x="338.80" y="395.58" width="18.30" height="4.84" fill="#FEE192"/>
<rect x="48.50" y="400.38" width="18.30" height="4.84" fill="#FEECA2"/>
<rect x="66.80" y="400.38" width="18.20" height="4.84" fill="#FFF7B3"/>
<rect x="85.00" y="400.38" width="18.20" height="4.84" fill="#FEECA2"/>
<rect x="107.20" y="400.38" width="18.10" height="4.84" fill="#FFF2AB"/>
<rect x="125.30" y="400.38" width="18.10" height="4.84" fill="#FEECA2"/>
<rect x="143.40" y="400.38" width="18.10" height="4.84" fill="#FEE79A"/>
<rect x="161.50" y="400.38" width="18.10" height="4.84" fill="#FEE79A"/>
<rect x="179.60" y="400.38" width="18.10" height="4.84" fill="#FFF2AB"/>
<rect x="204.00" y="400.38" width="17.20" height="4.84" fill="#FFFCBB"/>
<rect x="227.00" y="400.38" width="17.60" height="4.84" fill="#FDB976"/>
<rect x="250.00" y="400.38" width="15.60" height="4.84" fill="#FED589"/>
<rect x="271.00" y="400.38" width="15.60" height="4.84" fill="#FED589"/>
<rect x="292.20" y="400.38" width="17.80" height="4.84" fill="#FFF7B3"/>
<rect x="316.00" y="400.38" width="17.20" height="4.84" fill="#FFF7B3"/>
<rect x="338.80" y="400.38" width="18.30" height="4.84" fill="#FFF7B3"/>
<rect x="48.50" y="405.17" width="18.30" height="4.84" fill="#FCFEC4"/>
<rect x="66.80" y="405.17" width="18.20" height="4.84" fill="#FFFCBB"/>
<rect x="85.00" y="405.17" width="18.20" height="4.84" fill="#FFFCBB"/>
<rect x="107.20" y="405.17" width="18.10" height="4.84" fill="#FFF4AE"/>
<rect x="125.30" y="405.17" width="18.10" height="4.84" fill="#FDC77F"/>
<rect x="143.40" y="405.17" width="18.10" height="4.84" fill="#FDB976"/>
<rect x="161.50" y="405.17" width="18.10" height="4.84" fill="#FDAA6C"/>
<rect x="179.60" y="405.17" width="18.10" height="4.84" fill="#DC3D2E"/>
<rect x="204.00" y="405.17" width="17.20" height="4.84" fill="#E34D37"/>
<rect x="227.00" y="405.17" width="17.60" height="4.84" fill="#FEECA2"/>
<rect x="250.00" y="405.17" width="15.60" height="4.84" fill="#FEECA2"/>
<rect x="271.00" y="405.17" width="15.60" height="4.84" fill="#FFF7B3"/>
<rect x="292.20" y="405.17" width="17.80" height="4.84" fill="#FFFCBB"/>
<rect x="316.00" y="405.17" width="17.20" height="4.84" fill="#FCFEC4"/>
<rect x="338.80" y="405.17" width="18.30" height="4.84" fill="#F1F9D9"/>
<rect x="48.50" y="409.96" width="18.30" height="4.84" fill="#FEE79A"/>
<rect x="66.80" y="409.96" width="18.20" height="4.84" fill="#FEE79A"/>
<rect x="85.00" y="409.96" width="18.20" height="4.84" fill="#FED589"/>
<rect x="107.20" y="409.96" width="18.10" height="4.84" fill="#FED589"/>
<rect x="125.30" y="409.96" width="18.10" height="4.84" fill="#FEE192"/>
<rect x="143.40" y="409.96" width="18.10" height="4.84" fill="#FED589"/>
<rect x="161.50" y="409.96" width="18.10" height="4.84" fill="#FECD83"/>
<rect x="179.60" y="409.96" width="18.10" height="4.84" fill="#F3774D"/>
<rect x="204.00" y="409.96" width="17.20" height="4.84" fill="#FDAA6C"/>
<rect x="227.00" y="409.96" width="17.60" height="4.84" fill="#FDB976"/>
<rect x="250.00" y="409.96" width="15.60" height="4.84" fill="#FEE79A"/>
<rect x="271.00" y="409.96" width="15.60" height="4.84" fill="#FFF7B3"/>
<rect x="292.20" y="409.96" width="17.80" height="4.84" fill="#EBF7E3"/>
<rect x="316.00" y="409.96" width="17.20" height="4.84" fill="#FEE192"/>
<rect x="338.80" y="409.96" width="18.30" height="4.84" fill="#FEE192"/>
<rect x="48.50" y="414.75" width="18.30" height="4.84" fill="#FEE79A"/>
<rect x="66.80" y="414.75" width="18.20" height="4.84" fill="#FEE79A"/>
<rect x="85.00" y="414.75" width="18.20" height="4.84" fill="#FEE192"/>
<rect x="107.20" y="414.75" width="18.10" height="4.84" fill="#FEE79A"/>
<rect x="125.30" y="414.75" width="18.10" height="4.84" fill="#FEE192"/>
<rect x="143.40" y="414.75" width="18.10" height="4.84" fill="#FED589"/>
<rect x="161.50" y="414.75" width="18.10" height="4.84" fill="#FECD83"/>
<rect x="179.60" y="414.75" width="18.10" height="4.84" fill="#FA8756"/>
<rect x="204.00" y="414.75" width="17.20" height="4.84" fill="#FDB976"/>
<rect x="227.00" y="414.75" width="17.60" height="4.84" fill="#FED589"/>
<rect x="250.00" y="414.75" width="15.60" height="4.84" fill="#FEE79A"/>
<rect x="271.00" y="414.75" width="15.60" height="4.84" fill="#FFF2AB"/>
<rect x="292.20" y="414.75" width="17.80" height="4.84" fill="#FFFCBB"/>
<rect x="316.00" y="414.75" width="17.20" height="4.84" fill="#FEE79A"/>
<rect x="338.80" y="414.75" width="18.30" height="4.84" fill="#FEE192"/>
<rect x="48.50" y="419.55" width="18.30" height="4.84" fill="#FEE192"/>
<rect x="66.80" y="419.55" width="18.20" height="4.84" fill="#FEE192"/>
<rect x="85.00" y="419.55" width="18.20" height="4.84" fill="#FED589"/>
<rect x="107.20" y="419.55" width="18.10" height="4.84" fill="#FED589"/>
<rect x="125.30" y="419.55" width="18.10" height="4.84" fill="#FEE192"/>
<rect x="143.40" y="419.55" width="18.10" height="4.84" fill="#FED589"/>
<rect x="161.50" y="419.55" width="18.10" height="4.84" fill="#FECD83"/>
<rect x="179.60" y="419.55" width="18.10" height="4.84" fill="#FA8756"/>
<rect x="204.00" y="419.55" width="17.20" height="4.84" fill="#FDAA6C"/>
<rect x="227.00" y="419.55" width="17.60" height="4.84" fill="#FDB976"/>
<rect x="250.00" y="419.55" width="15.60" height="4.84" fill="#FEE79A"/>
<rect x="271.00" y="419.55" width="15.60" height="4.84" fill="#FFF2AB"/>
<rect x="292.20" y="419.55" width="17.80" height="4.84" fill="#FFFCBB"/>
<rect x="316.00" y="419.55" width="17.20" height="4.84" fill="#FEE79A"/>
<rect x="338.80" y="419.55" width="18.30" height="4.84" fill="#FED589"/>
<rect x="48.50" y="424.34" width="18.30" height="4.84" fill="#FED589"/>
<rect x="66.80" y="424.34" width="18.20" height="4.84" fill="#FED589"/>
<rect x="85.00" y="424.34" width="18.20" height="4.84" fill="#FDC77F"/>
<rect x="107.20" y="424.34" width="18.10" height="4.84" fill="#FED085"/>
<rect x="125.30" y="424.34" width="18.10" height="4.84" fill="#FED589"/>
<rect x="143.40" y="424.34" width="18.10" height="4.84" fill="#FDB976"/>
<rect x="161.50" y="424.34" width="18.10" height="4.84" fill="#FC935D"/>
<rect x="179.60" y="424.34" width="18.10" height="4.84" fill="#F3774D"/>
<rect x="204.00" y="424.34" width="17.20" height="4.84" fill="#FC9C63"/>
<rect x="227.00" y="424.34" width="17.60" height="4.84" fill="#FC9C63"/>
<rect x="250.00" y="424.34" width="15.60" height="4.84" fill="#FEE192"/>
<rect x="271.00" y="424.34" width="15.60" height="4.84" fill="#FFF7B3"/>
<rect x="292.20" y="424.34" width="17.80" height="4.84" fill="#FFFCBB"/>
<rect x="316.00" y="424.34" width="17.20" height="4.84" fill="#FEE79A"/>
<rect x="338.80" y="424.34" width="18.30" height="4.84" fill="#FEE79A"/>
<rect x="48.50" y="429.13" width="18.30" height="4.84" fill="#FEE192"/>
<rect x="66.80" y="429.13" width="18.20" height="4.84" fill="#FEE79A"/>
<rect x="85.00" y="429.13" width="18.20" height="4.84" fill="#FEE192"/>
<rect x="107.20" y="429.13" width="18.10" height="4.84" fill="#FED589"/>
<rect x="125.30" y="429.13" width="18.10" height="4.84" fill="#FED589"/>
<rect x="143.40" y="429.13" width="18.10" height="4.84" fill="#FDC77F"/>
<rect x="161.50" y="429.13" width="18.10" height="4.84" fill="#FDB070"/>
<rect x="179.60" y="429.13" width="18.10" height="4.84" fill="#F3774D"/>
<rect x="204.00" y="429.13" width="17.20" height="4.84" fill="#FDAA6C"/>
<rect x="227.00" y="429.13" width="17.60" height="4.84" fill="#FDB976"/>
<rect x="250.00" y="429.13" width="15.60" height="4.84" fill="#FEE79A"/>
<rect x="271.00" y="429.13" width="15.60" height="4.84" fill="#FFF2AB"/>
<rect x="292.20" y="429.13" width="17.80" height="4.84" fill="#FFFCBB"/>
<rect x="316.00" y="429.13" width="17.20" height="4.84" fill="#FEE79A"/>
<rect x="338.80" y="429.13" width="18.30" height="4.84" fill="#FED589"/>
<rect x="48.50" y="433.93" width="18.30" height="4.84" fill="#FEE192"/>
<rect x="66.80" y="433.93" width="18.20" height="4.84" fill="#FEE79A"/>
<rect x="85.00" y="433.93" width="18.20" height="4.84" fill="#FEE192"/>
<rect x="107.20" y="433.93" width="18.10" height="4.84" fill="#FEDB8D"/>
<rect x="125.30" y="433.93" width="18.10" height="4.84" fill="#FDAA6C"/>
<rect x="143.40" y="433.93" width="18.10" height="4.84" fill="#FC9C63"/>
<rect x="161.50" y="433.93" width="18.10" height="4.84" fill="#F88454"/>
<rect x="179.60" y="433.93" width="18.10" height="4.84" fill="#E6573C"/>
<rect x="204.00" y="433.93" width="17.20" height="4.84" fill="#EF6D48"/>
<rect x="227.00" y="433.93" width="17.60" height="4.84" fill="#FDC77F"/>
<rect x="250.00" y="433.93" width="15.60" height="4.84" fill="#FED589"/>
<rect x="271.00" y="433.93" width="15.60" height="4.84" fill="#FDC77F"/>
<rect x="292.20" y="433.93" width="17.80" height="4.84" fill="#FEE79A"/>
<rect x="316.00" y="433.93" width="17.20" height="4.84" fill="#FEE192"/>
<rect x="338.80" y="433.93" width="18.30" height="4.84" fill="#FEE192"/>
<rect x="48.50" y="438.72" width="18.30" height="4.84" fill="#FDB976"/>
<rect x="66.80" y="438.72" width="18.20" height="4.84" fill="#FED589"/>
<rect x="85.00" y="438.72" width="18.20" height="4.84" fill="#FED589"/>
<rect x="107.20" y="438.72" width="18.10" height="4.84" fill="#FED589"/>
<rect x="125.30" y="438.72" width="18.10" height="4.84" fill="#FED589"/>
<rect x="143.40" y="438.72" width="18.10" height="4.84" fill="#FDB976"/>
<rect x="161.50" y="438.72" width="18.10" height="4.84" fill="#F88454"/>
<rect x="179.60" y="438.72" width="18.10" height="4.84" fill="#FA8756"/>
<rect x="204.00" y="438.72" width="17.20" height="4.84" fill="#FED589"/>
<rect x="227.00" y="438.72" width="17.60" height="4.84" fill="#FED589"/>
<rect x="250.00" y="438.72" width="15.60" height="4.84" fill="#FEE192"/>
<rect x="271.00" y="438.72" width="15.60" height="4.84" fill="#FDB976"/>
<rect x="292.20" y="438.72" width="17.80" height="4.84" fill="#FDAA6C"/>
<rect x="316.00" y="438.72" width="17.20" height="4.84" fill="#FEE192"/>
<rect x="338.80" y="438.72" width="18.30" height="4.84" fill="#FEE192"/>
<rect x="48.50" y="443.51" width="18.30" height="4.84" fill="#FDAA6C"/>
<rect x="66.80" y="443.51" width="18.20" height="4.84" fill="#FED589"/>
<rect x="85.00" y="443.51" width="18.20" height="4.84" fill="#FED589"/>
<rect x="107.20" y="443.51" width="18.10" height="4.84" fill="#FEDB8D"/>
<rect x="125.30" y="443.51" width="18.10" height="4.84" fill="#FED589"/>
<rect x="143.40" y="443.51" width="18.10" height="4.84" fill="#FDC77F"/>
<rect x="161.50" y="443.51" width="18.10" height="4.84" fill="#F88454"/>
<rect x="179.60" y="443.51" width="18.10" height="4.84" fill="#FC965F"/>
<rect x="204.00" y="443.51" width="17.20" height="4.84" fill="#FDC77F"/>
<rect x="227.00" y="443.51" width="17.60" height="4.84" fill="#FDAA6C"/>
<rect x="250.00" y="443.51" width="15.60" height="4.84" fill="#FEE192"/>
<rect x="271.00" y="443.51" width="15.60" height="4.84" fill="#FEE192"/>
<rect x="292.20" y="443.51" width="17.80" height="4.84" fill="#FED589"/>
<rect x="316.00" y="443.51" width="17.20" height="4.84" fill="#FEE192"/>
<rect x="338.80" y="443.51" width="18.30" height="4.84" fill="#FEE192"/>
<rect x="48.50" y="448.31" width="18.30" height="4.84" fill="#FED589"/>
<rect x="66.80" y="448.31" width="18.20" height="4.84" fill="#FEE192"/>
<rect x="85.00" y="448.31" width="18.20" height="4.84" fill="#FEE192"/>
<rect x="107.20" y="448.31" width="18.10" height="4.84" fill="#FEE192"/>
<rect x="125.30" y="448.31" width="18.10" height="4.84" fill="#FEE192"/>
<rect x="143.40" y="448.31" width="18.10" height="4.84" fill="#FED589"/>
<rect x="161.50" y="448.31" width="18.10" height="4.84" fill="#FDB976"/>
<rect x="179.60" y="448.31" width="18.10" height="4.84" fill="#FDB976"/>
<rect x="204.00" y="448.31" width="17.20" height="4.84" fill="#FEECA2"/>
<rect x="227.00" y="448.31" width="17.60" height="4.84" fill="#FEE79A"/>
<rect x="250.00" y="448.31" width="15.60" height="4.84" fill="#FEE79A"/>
<rect x="271.00" y="448.31" width="15.60" height="4.84" fill="#FEECA2"/>
<rect x="292.20" y="448.31" width="17.80" height="4.84" fill="#FED589"/>
<rect x="316.00" y="448.31" width="17.20" height="4.84" fill="#FEE79A"/>
<rect x="338.80" y="448.31" width="18.30" height="4.84" fill="#FEE79A"/>
<rect x="48.50" y="453.10" width="18.30" height="4.84" fill="#FED589"/>
<rect x="66.80" y="453.10" width="18.20" height="4.84" fill="#FEE192"/>
<rect x="85.00" y="453.10" width="18.20" height="4.84" fill="#FDC77F"/>
<rect x="107.20" y="453.10" width="18.10" height="4.84" fill="#FEDB8D"/>
<rect x="125.30" y="453.10" width="18.10" height="4.84" fill="#FEE192"/>
<rect x="143.40" y="453.10" width="18.10" height="4.84" fill="#FED589"/>
<rect x="161.50" y="453.10" width="18.10" height="4.84" fill="#FDC77F"/>
<rect x="179.60" y="453.10" width="18.10" height="4.84" fill="#FDB976"/>
<rect x="204.00" y="453.10" width="17.20" height="4.84" fill="#FDB976"/>
<rect x="227.00" y="453.10" width="17.60" height="4.84" fill="#FED589"/>
<rect x="250.00" y="453.10" width="15.60" height="4.84" fill="#FEE192"/>
<rect x="271.00" y="453.10" width="15.60" height="4.84" fill="#FEE79A"/>
<rect x="292.20" y="453.10" width="17.80" height="4.84" fill="#FEE79A"/>
<rect x="316.00" y="453.10" width="17.20" height="4.84" fill="#FEE79A"/>
<rect x="338.80" y="453.10" width="18.30" height="4.84" fill="#FEE192"/>
<rect x="48.50" y="457.89" width="18.30" height="4.84" fill="#FEE192"/>
<rect x="66.80" y="457.89" width="18.20" height="4.84" fill="#FEE192"/>
<rect x="85.00" y="457.89" width="18.20" height="4.84" fill="#FEE192"/>
<rect x="107.20" y="457.89" width="18.10" height="4.84" fill="#FEE192"/>
<rect x="125.30" y="457.89" width="18.10" height="4.84" fill="#FEE192"/>
<rect x="143.40" y="457.89" width="18.10" height="4.84" fill="#FDC77F"/>
<rect x="161.50" y="457.89" width="18.10" height="4.84" fill="#FED589"/>
<rect x="179.60" y="457.89" width="18.10" height="4.84" fill="#FDC77F"/>
<rect x="204.00" y="457.89" width="17.20" height="4.84" fill="#FDB976"/>
<rect x="227.00" y="457.89" width="17.60" height="4.84" fill="#FED589"/>
<rect x="250.00" y="457.89" width="15.60" height="4.84" fill="#FEE192"/>
<rect x="271.00" y="457.89" width="15.60" height="4.84" fill="#FEE79A"/>
<rect x="292.20" y="457.89" width="17.80" height="4.84" fill="#FED589"/>
<rect x="316.00" y="457.89" width="17.20" height="4.84" fill="#FEE192"/>
<rect x="338.80" y="457.89" width="18.30" height="4.84" fill="#FEE192"/>
<rect x="48.50" y="462.69" width="18.30" height="4.84" fill="#FEE192"/>
<rect x="66.80" y="462.69" width="18.20" height="4.84" fill="#FEE192"/>
<rect x="85.00" y="462.69" width="18.20" height="4.84" fill="#FED589"/>
<rect x="107.20" y="462.69" width="18.10" height="4.84" fill="#FEDB8D"/>
<rect x="125.30" y="462.69" width="18.10" height="4.84" fill="#FED589"/>
<rect x="143.40" y="462.69" width="18.10" height="4.84" fill="#FED589"/>
<rect x="161.50" y="462.69" width="18.10" height="4.84" fill="#FED589"/>
<rect x="179.60" y="462.69" width="18.10" height="4.84" fill="#FDC77F"/>
<rect x="204.00" y="462.69" width="17.20" height="4.84" fill="#FDC77F"/>
<rect x="227.00" y="462.69" width="17.60" height="4.84" fill="#FED589"/>
<rect x="250.00" y="462.69" width="15.60" height="4.84" fill="#FEE79A"/>
<rect x="271.00" y="462.69" width="15.60" height="4.84" fill="#FEECA2"/>
<rect x="292.20" y="462.69" width="17.80" height="4.84" fill="#FEE192"/>
<rect x="316.00" y="462.69" width="17.20" height="4.84" fill="#FEE192"/>
<rect x="338.80" y="462.69" width="18.30" height="4.84" fill="#FEE192"/>
<rect x="48.50" y="467.48" width="18.30" height="4.84" fill="#FED589"/>
<rect x="66.80" y="467.48" width="18.20" height="4.84" fill="#FED589"/>
<rect x="85.00" y="467.48" width="18.20" height="4.84" fill="#FED589"/>
<rect x="107.20" y="467.48" width="18.10" height="4.84" fill="#FED085"/>
<rect x="125.30" y="467.48" width="18.10" height="4.84" fill="#FED589"/>
<rect x="143.40" y="467.48" width="18.10" height="4.84" fill="#FDC77F"/>
<rect x="161.50" y="467.48" width="18.10" height="4.84" fill="#FDC77F"/>
<rect x="179.60" y="467.48" width="18.10" height="4.84" fill="#FDB976"/>
<rect x="204.00" y="467.48" width="17.20" height="4.84" fill="#FDAA6C"/>
<rect x="227.00" y="467.48" width="17.60" height="4.84" fill="#FDC77F"/>
<rect x="250.00" y="467.48" width="15.60" height="4.84" fill="#FEE192"/>
<rect x="271.00" y="467.48" width="15.60" height="4.84" fill="#FEECA2"/>
<rect x="292.20" y="467.48" width="17.80" height="4.84" fill="#FED589"/>
<rect x="316.00" y="467.48" width="17.20" height="4.84" fill="#FEE192"/>
<rect x="338.80" y="467.48" width="18.30" height="4.84" fill="#FDC77F"/>
<rect x="48.50" y="472.27" width="18.30" height="4.84" fill="#FECD83"/>
<rect x="66.80" y="472.27" width="18.20" height="4.84" fill="#FECD83"/>
<rect x="85.00" y="472.27" width="18.20" height="4.84" fill="#FECD83"/>
<rect x="107.20" y="472.27" width="18.10" height="4.84" fill="#FDBE7A"/>
<rect x="125.30" y="472.27" width="18.10" height="4.84" fill="#FDC77F"/>
<rect x="143.40" y="472.27" width="18.10" height="4.84" fill="#FDC77F"/>
<rect x="161.50" y="472.27" width="18.10" height="4.84" fill="#FDBE7A"/>
<rect x="179.60" y="472.27" width="18.10" height="4.84" fill="#FC8D59"/>
<rect x="204.00" y="472.27" width="17.20" height="4.84" fill="#FDB976"/>
<rect x="227.00" y="472.27" width="17.60" height="4.84" fill="#FED589"/>
<rect x="250.00" y="472.27" width="15.60" height="4.84" fill="#FED589"/>
<rect x="271.00" y="472.27" width="15.60" height="4.84" fill="#FEECA2"/>
<rect x="292.20" y="472.27" width="17.80" height="4.84" fill="#FEE99E"/>
<rect x="316.00" y="472.27" width="17.20" height="4.84" fill="#FEE495"/>
<rect x="338.80" y="472.27" width="18.30" height="4.84" fill="#FDC77F"/>
<rect x="48.50" y="477.06" width="18.30" height="4.84" fill="#F1F9D9"/>
<rect x="66.80" y="477.06" width="18.20" height="4.84" fill="#F6FCCE"/>
<rect x="85.00" y="477.06" width="18.20" height="4.84" fill="#FCFEC4"/>
<rect x="107.20" y="477.06" width="18.10" height="4.84" fill="#FFFCBB"/>
<rect x="125.30" y="477.06" width="18.10" height="4.84" fill="#FFFCBB"/>
<rect x="143.40" y="477.06" width="18.10" height="4.84" fill="#FFF7B3"/>
<rect x="161.50" y="477.06" width="18.10" height="4.84" fill="#F6FCCE"/>
<rect x="179.60" y="477.06" width="18.10" height="4.84" fill="#FCFEC4"/>
<rect x="204.00" y="477.06" width="17.20" height="4.84" fill="#FFF7B3"/>
<rect x="227.00" y="477.06" width="17.60" height="4.84" fill="#FCFEC4"/>
<rect x="250.00" y="477.06" width="15.60" height="4.84" fill="#FFF7B3"/>
<rect x="271.00" y="477.06" width="15.60" height="4.84" fill="#FCFEC4"/>
<rect x="292.20" y="477.06" width="17.80" height="4.84" fill="#FFFCBB"/>
<rect x="316.00" y="477.06" width="17.20" height="4.84" fill="#FFF7B3"/>
<rect x="338.80" y="477.06" width="18.30" height="4.84" fill="#FFF7B3"/>
<rect x="48.50" y="481.86" width="18.30" height="4.84" fill="#FFFCBB"/>
<rect x="66.80" y="481.86" width="18.20" height="4.84" fill="#FFFCBB"/>
<rect x="85.00" y="481.86" width="18.20" height="4.84" fill="#FFFCBB"/>
<rect x="107.20" y="481.86" width="18.10" height="4.84" fill="#FFFCBB"/>
<rect x="125.30" y="481.86" width="18.10" height="4.84" fill="#FFFCBB"/>
<rect x="143.40" y="481.86" width="18.10" height="4.84" fill="#FFF7B3"/>
<rect x="161.50" y="481.86" width="18.10" height="4.84" fill="#FFF7B3"/>
<rect x="179.60" y="481.86" width="18.10" height="4.84" fill="#FFF7B3"/>
<rect x="204.00" y="481.86" width="17.20" height="4.84" fill="#F1F9D9"/>
<rect x="227.00" y="481.86" width="17.60" height="4.84" fill="#FFFCBB"/>
<rect x="250.00" y="481.86" width="15.60" height="4.84" fill="#FFFCBB"/>
<rect x="271.00" y="481.86" width="15.60" height="4.84" fill="#FFFCBB"/>
<rect x="292.20" y="481.86" width="17.80" height="4.84" fill="#FFFCBB"/>
<rect x="316.00" y="481.86" width="17.20" height="4.84" fill="#FEE79A"/>
<rect x="338.80" y="481.86" width="18.30" height="4.84" fill="#FEECA2"/>
<rect x="48.50" y="486.65" width="18.30" height="4.84" fill="#F6FCCE"/>
<rect x="66.80" y="486.65" width="18.20" height="4.84" fill="#FCFEC4"/>
<rect x="85.00" y="486.65" width="18.20" height="4.84" fill="#FCFEC4"/>
<rect x="107.20" y="486.65" width="18.10" height="4.84" fill="#FCFEC4"/>
<rect x="125.30" y="486.65" width="18.10" height="4.84" fill="#FCFEC4"/>
<rect x="143.40" y="486.65" width="18.10" height="4.84" fill="#FFFCBB"/>
<rect x="161.50" y="486.65" width="18.10" height="4.84" fill="#FFF7B3"/>
<rect x="179.60" y="486.65" width="18.10" height="4.84" fill="#FEECA2"/>
<rect x="204.00" y="486.65" width="17.20" height="4.84" fill="#FFF7B3"/>
<rect x="227.00" y="486.65" width="17.60" height="4.84" fill="#FFFCBB"/>
<rect x="250.00" y="486.65" width="15.60" height="4.84" fill="#FFF2AB"/>
<rect x="271.00" y="486.65" width="15.60" height="4.84" fill="#FFFCBB"/>
<rect x="292.20" y="486.65" width="17.80" height="4.84" fill="#CEE8F6"/>
<rect x="316.00" y="486.65" width="17.20" height="4.84" fill="#F6FCCE"/>
<rect x="338.80" y="486.65" width="18.30" height="4.84" fill="#F6FCCE"/>
<rect x="48.50" y="491.44" width="18.30" height="4.84" fill="#F6FCCE"/>
<rect x="66.80" y="491.44" width="18.20" height="4.84" fill="#F6FCCE"/>
<rect x="85.00" y="491.44" width="18.20" height="4.84" fill="#FCFEC4"/>
<rect x="107.20" y="491.44" width="18.10" height="4.84" fill="#F6FCCE"/>
<rect x="125.30" y="491.44" width="18.10" height="4.84" fill="#FCFEC4"/>
<rect x="143.40" y="491.44" width="18.10" height="4.84" fill="#FFFCBB"/>
<rect x="161.50" y="491.44" width="18.10" height="4.84" fill="#FFFCBB"/>
<rect x="179.60" y="491.44" width="18.10" height="4.84" fill="#FEE79A"/>
<rect x="204.00" y="491.44" width="17.20" height="4.84" fill="#FFF7B3"/>
<rect x="227.00" y="491.44" width="17.60" height="4.84" fill="#FCFEC4"/>
<rect x="250.00" y="491.44" width="15.60" height="4.84" fill="#FCFEC4"/>
<rect x="271.00" y="491.44" width="15.60" height="4.84" fill="#FCFEC4"/>
<rect x="292.20" y="491.44" width="17.80" height="4.84" fill="#FFFCBB"/>
<rect x="316.00" y="491.44" width="17.20" height="4.84" fill="#F6FCCE"/>
<rect x="338.80" y="491.44" width="18.30" height="4.84" fill="#FFFCBB"/>
<rect x="48.50" y="496.24" width="18.30" height="4.84" fill="#FCFEC4"/>
<rect x="66.80" y="496.24" width="18.20" height="4.84" fill="#FCFEC4"/>
<rect x="85.00" y="496.24" width="18.20" height="4.84" fill="#FCFEC4"/>
<rect x="107.20" y="496.24" width="18.10" height="4.84" fill="#FFFEBE"/>
<rect x="125.30" y="496.24" width="18.10" height="4.84" fill="#FFFCBB"/>
<rect x="143.40" y="496.24" width="18.10" height="4.84" fill="#FFFCBB"/>
<rect x="161.50" y="496.24" width="18.10" height="4.84" fill="#FFF7B3"/>
<rect x="179.60" y="496.24" width="18.10" height="4.84" fill="#FEE79A"/>
<rect x="204.00" y="496.24" width="17.20" height="4.84" fill="#FFF2AB"/>
<rect x="227.00" y="496.24" width="17.60" height="4.84" fill="#FFF7B3"/>
<rect x="250.00" y="496.24" width="15.60" height="4.84" fill="#FFFCBB"/>
<rect x="271.00" y="496.24" width="15.60" height="4.84" fill="#FCFEC4"/>
<rect x="292.20" y="496.24" width="17.80" height="4.84" fill="#FFFCBB"/>
<rect x="316.00" y="496.24" width="17.20" height="4.84" fill="#F6FCCE"/>
<rect x="338.80" y="496.24" width="18.30" height="4.84" fill="#FFFCBB"/>
<rect x="48.50" y="501.03" width="18.30" height="4.84" fill="#F1F9D9"/>
<rect x="66.80" y="501.03" width="18.20" height="4.84" fill="#F1F9D9"/>
<rect x="85.00" y="501.03" width="18.20" height="4.84" fill="#F6FCCE"/>
<rect x="107.20" y="501.03" width="18.10" height="4.84" fill="#FCFEC4"/>
<rect x="125.30" y="501.03" width="18.10" height="4.84" fill="#FCFEC4"/>
<rect x="143.40" y="501.03" width="18.10" height="4.84" fill="#FCFEC4"/>
<rect x="161.50" y="501.03" width="18.10" height="4.84" fill="#FFFCBB"/>
<rect x="179.60" y="501.03" width="18.10" height="4.84" fill="#FFF2AB"/>
<rect x="204.00" y="501.03" width="17.20" height="4.84" fill="#FFF7B3"/>
<rect x="227.00" y="501.03" width="17.60" height="4.84" fill="#FCFEC4"/>
<rect x="250.00" y="501.03" width="15.60" height="4.84" fill="#FFFCBB"/>
<rect x="271.00" y="501.03" width="15.60" height="4.84" fill="#FCFEC4"/>
<rect x="292.20" y="501.03" width="17.80" height="4.84" fill="#FCFEC4"/>
<rect x="316.00" y="501.03" width="17.20" height="4.84" fill="#FFFCBB"/>
<rect x="338.80" y="501.03" width="18.30" height="4.84" fill="#FFF7B3"/>
<rect x="48.50" y="505.82" width="18.30" height="4.84" fill="#F6FCCE"/>
<rect x="66.80" y="505.82" width="18.20" height="4.84" fill="#F6FCCE"/>
<rect x="85.00" y="505.82" width="18.20" height="4.84" fill="#F6FCCE"/>
<rect x="107.20" y="505.82" width="18.10" height="4.84" fill="#F9FDCA"/>
<rect x="125.30" y="505.82" width="18.10" height="4.84" fill="#FCFEC4"/>
<rect x="143.40" y="505.82" width="18.10" height="4.84" fill="#F6FCCE"/>
<rect x="161.50" y="505.82" width="18.10" height="4.84" fill="#FFFCBB"/>
<rect x="179.60" y="505.82" width="18.10" height="4.84" fill="#FFF7B3"/>
<rect x="204.00" y="505.82" width="17.20" height="4.84" fill="#FFF2AB"/>
<rect x="227.00" y="505.82" width="17.60" height="4.84" fill="#FFFCBB"/>
<rect x="250.00" y="505.82" width="15.60" height="4.84" fill="#FFF7B3"/>
<rect x="271.00" y="505.82" width="15.60" height="4.84" fill="#FCFEC4"/>
<rect x="292.20" y="505.82" width="17.80" height="4.84" fill="#EBF7E3"/>
<rect x="316.00" y="505.82" width="17.20" height="4.84" fill="#FCFEC4"/>
<rect x="338.80" y="505.82" width="18.30" height="4.84" fill="#FFFCBB"/>
<rect x="48.50" y="510.62" width="18.30" height="4.84" fill="#FFF7B3"/>
<rect x="66.80" y="510.62" width="18.20" height="4.84" fill="#FFFCBB"/>
<rect x="85.00" y="510.62" width="18.20" height="4.84" fill="#FFFCBB"/>
<rect x="107.20" y="510.62" width="18.10" height="4.84" fill="#FFFCBB"/>
<rect x="125.30" y="510.62" width="18.10" height="4.84" fill="#FFFCBB"/>
<rect x="143.40" y="510.62" width="18.10" height="4.84" fill="#FFF7B3"/>
<rect x="161.50" y="510.62" width="18.10" height="4.84" fill="#FFF7B3"/>
<rect x="179.60" y="510.62" width="18.10" height="4.84" fill="#FEECA2"/>
<rect x="204.00" y="510.62" width="17.20" height="4.84" fill="#FFF2AB"/>
<rect x="227.00" y="510.62" width="17.60" height="4.84" fill="#FCFEC4"/>
<rect x="250.00" y="510.62" width="15.60" height="4.84" fill="#FFFCBB"/>
<rect x="271.00" y="510.62" width="15.60" height="4.84" fill="#F6FCCE"/>
<rect x="292.20" y="510.62" width="17.80" height="4.84" fill="#FFF7B3"/>
<rect x="316.00" y="510.62" width="17.20" height="4.84" fill="#DCF1FA"/>
<rect x="338.80" y="510.62" width="18.30" height="4.84" fill="#E3F4F1"/>
<rect x="48.50" y="515.41" width="18.30" height="4.84" fill="#FFFCBB"/>
<rect x="66.80" y="515.41" width="18.20" height="4.84" fill="#FCFEC4"/>
<rect x="85.00" y="515.41" width="18.20" height="4.84" fill="#FFFCBB"/>
<rect x="107.20" y="515.41" width="18.10" height="4.84" fill="#EBF7E3"/>
<rect x="125.30" y="515.41" width="18.10" height="4.84" fill="#F6FCCE"/>
<rect x="143.40" y="515.41" width="18.10" height="4.84" fill="#FCFEC4"/>
<rect x="161.50" y="515.41" width="18.10" height="4.84" fill="#FCFEC4"/>
<rect x="179.60" y="515.41" width="18.10" height="4.84" fill="#FFF7B3"/>
<rect x="204.00" y="515.41" width="17.20" height="4.84" fill="#FFF2AB"/>
<rect x="227.00" y="515.41" width="17.60" height="4.84" fill="#FFFCBB"/>
<rect x="250.00" y="515.41" width="15.60" height="4.84" fill="#FCFEC4"/>
<rect x="271.00" y="515.41" width="15.60" height="4.84" fill="#FCFEC4"/>
<rect x="292.20" y="515.41" width="17.80" height="4.84" fill="#FFFCBB"/>
<rect x="316.00" y="515.41" width="17.20" height="4.84" fill="#FCFEC4"/>
<rect x="338.80" y="515.41" width="18.30" height="4.84" fill="#FCFEC4"/>
<rect x="48.50" y="520.20" width="18.30" height="4.84" fill="#FCFEC4"/>
<rect x="66.80" y="520.20" width="18.20" height="4.84" fill="#FCFEC4"/>
<rect x="85.00" y="520.20" width="18.20" height="4.84" fill="#FCFEC4"/>
<rect x="107.20" y="520.20" width="18.10" height="4.84" fill="#FCFEC4"/>
<rect x="125.30" y="520.20" width="18.10" height="4.84" fill="#FCFEC4"/>
<rect x="143.40" y="520.20" width="18.10" height="4.84" fill="#FFFCBB"/>
<rect x="161.50" y="520.20" width="18.10" height="4.84" fill="#FFFCBB"/>
<rect x="179.60" y="520.20" width="18.10" height="4.84" fill="#FFF7B3"/>
<rect x="204.00" y="520.20" width="17.20" height="4.84" fill="#FFF7B3"/>
<rect x="227.00" y="520.20" width="17.60" height="4.84" fill="#FCFEC4"/>
<rect x="250.00" y="520.20" width="15.60" height="4.84" fill="#FCFEC4"/>
<rect x="271.00" y="520.20" width="15.60" height="4.84" fill="#FCFEC4"/>
<rect x="292.20" y="520.20" width="17.80" height="4.84" fill="#E6F5EB"/>
<rect x="316.00" y="520.20" width="17.20" height="4.84" fill="#FCFEC4"/>
<rect x="338.80" y="520.20" width="18.30" height="4.84" fill="#F6FCCE"/>
<rect x="48.50" y="524.99" width="18.30" height="4.84" fill="#F6FCCE"/>
<rect x="66.80" y="524.99" width="18.20" height="4.84" fill="#F6FCCE"/>
<rect x="85.00" y="524.99" width="18.20" height="4.84" fill="#F6FCCE"/>
<rect x="107.20" y="524.99" width="18.10" height="4.84" fill="#F4FBD2"/>
<rect x="125.30" y="524.99" width="18.10" height="4.84" fill="#FCFEC4"/>
<rect x="143.40" y="524.99" width="18.10" height="4.84" fill="#FFFCBB"/>
<rect x="161.50" y="524.99" width="18.10" height="4.84" fill="#FFFCBB"/>
<rect x="179.60" y="524.99" width="18.10" height="4.84" fill="#FFF2AB"/>
<rect x="204.00" y="524.99" width="17.20" height="4.84" fill="#FFF2AB"/>
<rect x="227.00" y="524.99" width="17.60" height="4.84" fill="#FFF7B3"/>
<rect x="250.00" y="524.99" width="15.60" height="4.84" fill="#FFFCBB"/>
<rect x="271.00" y="524.99" width="15.60" height="4.84" fill="#FFFCBB"/>
<rect x="292.20" y="524.99" width="17.80" height="4.84" fill="#FCFEC4"/>
<rect x="316.00" y="524.99" width="17.20" height="4.84" fill="#FCFEC4"/>
<rect x="338.80" y="524.99" width="18.30" height="4.84" fill="#F6FCCE"/>
<rect x="48.50" y="529.79" width="18.30" height="4.84" fill="#FFFEBE"/>
<rect x="66.80" y="529.79" width="18.20" height="4.84" fill="#FFFEBE"/>
<rect x="85.00" y="529.79" width="18.20" height="4.84" fill="#FFFEBE"/>
<rect x="107.20" y="529.79" width="18.10" height="4.84" fill="#FFFCBB"/>
<rect x="125.30" y="529.79" width="18.10" height="4.84" fill="#FFFCBB"/>
<rect x="143.40" y="529.79" width="18.10" height="4.84" fill="#FFF7B3"/>
<rect x="161.50" y="529.79" width="18.10" height="4.84" fill="#FFF2AB"/>
<rect x="179.60" y="529.79" width="18.10" height="4.84" fill="#FFF2AB"/>
<rect x="204.00" y="529.79" width="17.20" height="4.84" fill="#FEE79A"/>
<rect x="227.00" y="529.79" width="17.60" height="4.84" fill="#FFF2AB"/>
<rect x="250.00" y="529.79" width="15.60" height="4.84" fill="#FFF7B3"/>
<rect x="271.00" y="529.79" width="15.60" height="4.84" fill="#FCFEC4"/>
<rect x="292.20" y="529.79" width="17.80" height="4.84" fill="#FFFCBB"/>
<rect x="316.00" y="529.79" width="17.20" height="4.84" fill="#FFFCBB"/>
<rect x="338.80" y="529.79" width="18.30" height="4.84" fill="#FFFCBB"/>
<rect x="48.50" y="534.58" width="18.30" height="4.84" fill="#F6FCCE"/>
<rect x="66.80" y="534.58" width="18.20" height="4.84" fill="#F6FCCE"/>
<rect x="85.00" y="534.58" width="18.20" height="4.84" fill="#FCFEC4"/>
<rect x="107.20" y="534.58" width="18.10" height="4.84" fill="#FFFCBB"/>
<rect x="125.30" y="534.58" width="18.10" height="4.84" fill="#FFFCBB"/>
<rect x="143.40" y="534.58" width="18.10" height="4.84" fill="#FFF7B3"/>
<rect x="161.50" y="534.58" width="18.10" height="4.84" fill="#FEECA2"/>
<rect x="179.60" y="534.58" width="18.10" height="4.84" fill="#FFF7B3"/>
<rect x="204.00" y="534.58" width="17.20" height="4.84" fill="#FEE79A"/>
<rect x="227.00" y="534.58" width="17.60" height="4.84" fill="#FFF2AB"/>
<rect x="250.00" y="534.58" width="15.60" height="4.84" fill="#FFF7B3"/>
<rect x="271.00" y="534.58" width="15.60" height="4.84" fill="#FFF7B3"/>
<rect x="292.20" y="534.58" width="17.80" height="4.84" fill="#EEF8DD"/>
<rect x="316.00" y="534.58" width="17.20" height="4.84" fill="#F6FCCE"/>
<rect x="338.80" y="534.58" width="18.30" height="4.84" fill="#EEF8DD"/>
<rect x="48.50" y="539.37" width="18.30" height="4.84" fill="#FFF2AB"/>
<rect x="66.80" y="539.37" width="18.20" height="4.84" fill="#FFF2AB"/>
<rect x="85.00" y="539.37" width="18.20" height="4.84" fill="#FFF2AB"/>
<rect x="107.20" y="539.37" width="18.10" height="4.84" fill="#FFF7B3"/>
<rect x="125.30" y="539.37" width="18.10" height="4.84" fill="#FFF7B3"/>
<rect x="143.40" y="539.37" width="18.10" height="4.84" fill="#FFF2AB"/>
<rect x="161.50" y="539.37" width="18.10" height="4.84" fill="#FEECA2"/>
<rect x="179.60" y="539.37" width="18.10" height="4.84" fill="#FFF2AB"/>
<rect x="204.00" y="539.37" width="17.20" height="4.84" fill="#FFF2AB"/>
<rect x="227.00" y="539.37" width="17.60" height="4.84" fill="#FFF2AB"/>
<rect x="250.00" y="539.37" width="15.60" height="4.84" fill="#FFF7B3"/>
<rect x="271.00" y="539.37" width="15.60" height="4.84" fill="#FFF7B3"/>
<rect x="292.20" y="539.37" width="17.80" height="4.84" fill="#FFFCBB"/>
<rect x="316.00" y="539.37" width="17.20" height="4.84" fill="#FFF7B3"/>
<rect x="338.80" y="539.37" width="18.30" height="4.84" fill="#FFF7B3"/>
<rect x="48.50" y="544.17" width="18.30" height="4.84" fill="#FFF7B3"/>
<rect x="66.80" y="544.17" width="18.20" height="4.84" fill="#FFF7B3"/>
<rect x="85.00" y="544.17" width="18.20" height="4.84" fill="#FFF7B3"/>
<rect x="107.20" y="544.17" width="18.10" height="4.84" fill="#FFF7B3"/>
<rect x="125.30" y="544.17" width="18.10" height="4.84" fill="#FFF7B3"/>
<rect x="143.40" y="544.17" width="18.10" height="4.84" fill="#FFF2AB"/>
<rect x="161.50" y="544.17" width="18.10" height="4.84" fill="#FFF7B3"/>
<rect x="179.60" y="544.17" width="18.10" height="4.84" fill="#FFF7B3"/>
<rect x="204.00" y="544.17" width="17.20" height="4.84" fill="#FEE79A"/>
<rect x="227.00" y="544.17" width="17.60" height="4.84" fill="#FEECA2"/>
<rect x="250.00" y="544.17" width="15.60" height="4.84" fill="#FFF2AB"/>
<rect x="271.00" y="544.17" width="15.60" height="4.84" fill="#FFF7B3"/>
<rect x="292.20" y="544.17" width="17.80" height="4.84" fill="#FFF7B3"/>
<rect x="316.00" y="544.17" width="17.20" height="4.84" fill="#FFF7B3"/>
<rect x="338.80" y="544.17" width="18.30" height="4.84" fill="#FFF7B3"/>
<rect x="48.50" y="548.96" width="18.30" height="4.84" fill="#FFF7B3"/>
<rect x="66.80" y="548.96" width="18.20" height="4.84" fill="#FFF7B3"/>
<rect x="85.00" y="548.96" width="18.20" height="4.84" fill="#FFF7B3"/>
<rect x="107.20" y="548.96" width="18.10" height="4.84" fill="#FFF7B3"/>
<rect x="125.30" y="548.96" width="18.10" height="4.84" fill="#FFF7B3"/>
<rect x="143.40" y="548.96" width="18.10" height="4.84" fill="#FFF2AB"/>
<rect x="161.50" y="548.96" width="18.10" height="4.84" fill="#FFF7B3"/>
<rect x="179.60" y="548.96" width="18.10" height="4.84" fill="#FFF2AB"/>
<rect x="204.00" y="548.96" width="17.20" height="4.84" fill="#FEECA2"/>
<rect x="227.00" y="548.96" width="17.60" height="4.84" fill="#FFF2AB"/>
<rect x="250.00" y="548.96" width="15.60" height="4.84" fill="#FFF7B3"/>
<rect x="271.00" y="548.96" width="15.60" height="4.84" fill="#FFF7B3"/>
<rect x="292.20" y="548.96" width="17.80" height="4.84" fill="#FFF7B3"/>
<rect x="316.00" y="548.96" width="17.20" height="4.84" fill="#FFF7B3"/>
<rect x="338.80" y="548.96" width="18.30" height="4.84" fill="#FFF7B3"/>
<rect x="48.50" y="553.75" width="18.30" height="4.84" fill="#FFFCBB"/>
<rect x="66.80" y="553.75" width="18.20" height="4.84" fill="#FFFCBB"/>
<rect x="85.00" y="553.75" width="18.20" height="4.84" fill="#FFFCBB"/>
<rect x="107.20" y="553.75" width="18.10" height="4.84" fill="#FFFEBE"/>
<rect x="125.30" y="553.75" width="18.10" height="4.84" fill="#FFFCBB"/>
<rect x="143.40" y="553.75" width="18.10" height="4.84" fill="#FFF7B3"/>
<rect x="161.50" y="553.75" width="18.10" height="4.84" fill="#FFFCBB"/>
<rect x="179.60" y="553.75" width="18.10" height="4.84" fill="#FFF7B3"/>
<rect x="204.00" y="553.75" width="17.20" height="4.84" fill="#FEE79A"/>
<rect x="227.00" y="553.75" width="17.60" height="4.84" fill="#FFF2AB"/>
<rect x="250.00" y="553.75" width="15.60" height="4.84" fill="#FFF7B3"/>
<rect x="271.00" y="553.75" width="15.60" height="4.84" fill="#FFF7B3"/>
<rect x="292.20" y="553.75" width="17.80" height="4.84" fill="#FFF7B3"/>
<rect x="316.00" y="553.75" width="17.20" height="4.84" fill="#FFF7B3"/>
<rect x="338.80" y="553.75" width="18.30" height="4.84" fill="#FFF7B3"/>
<rect x="48.50" y="558.55" width="18.30" height="4.84" fill="#FFF7B3"/>
<rect x="66.80" y="558.55" width="18.20" height="4.84" fill="#FFF7B3"/>
<rect x="85.00" y="558.55" width="18.20" height="4.84" fill="#FFF7B3"/>
<rect x="107.20" y="558.55" width="18.10" height="4.84" fill="#FFFCBB"/>
<rect x="125.30" y="558.55" width="18.10" height="4.84" fill="#FFF7B3"/>
<rect x="143.40" y="558.55" width="18.10" height="4.84" fill="#FFF7B3"/>
<rect x="161.50" y="558.55" width="18.10" height="4.84" fill="#FFF7B3"/>
<rect x="179.60" y="558.55" width="18.10" height="4.84" fill="#FFF7B3"/>
<rect x="204.00" y="558.55" width="17.20" height="4.84" fill="#FEECA2"/>
<rect x="227.00" y="558.55" width="17.60" height="4.84" fill="#FFF7B3"/>
<rect x="250.00" y="558.55" width="15.60" height="4.84" fill="#FFFCBB"/>
<rect x="271.00" y="558.55" width="15.60" height="4.84" fill="#FFFCBB"/>
<rect x="292.20" y="558.55" width="17.80" height="4.84" fill="#F6FCCE"/>
<rect x="316.00" y="558.55" width="17.20" height="4.84" fill="#FFFCBB"/>
<rect x="338.80" y="558.55" width="18.30" height="4.84" fill="#FFF7B3"/>
<rect x="48.50" y="563.34" width="18.30" height="4.84" fill="#FFFCBB"/>
<rect x="66.80" y="563.34" width="18.20" height="4.84" fill="#FFFCBB"/>
<rect x="85.00" y="563.34" width="18.20" height="4.84" fill="#FFFCBB"/>
<rect x="107.20" y="563.34" width="18.10" height="4.84" fill="#FFFAB8"/>
<rect x="125.30" y="563.34" width="18.10" height="4.84" fill="#FFF7B3"/>
<rect x="143.40" y="563.34" width="18.10" height="4.84" fill="#FEECA2"/>
<rect x="161.50" y="563.34" width="18.10" height="4.84" fill="#FFF7B3"/>
<rect x="179.60" y="563.34" width="18.10" height="4.84" fill="#FFF7B3"/>
<rect x="204.00" y="563.34" width="17.20" height="4.84" fill="#FFF2AB"/>
<rect x="227.00" y="563.34" width="17.60" height="4.84" fill="#FFF7B3"/>
<rect x="250.00" y="563.34" width="15.60" height="4.84" fill="#FFF7B3"/>
<rect x="271.00" y="563.34" width="15.60" height="4.84" fill="#FFFCBB"/>
<rect x="292.20" y="563.34" width="17.80" height="4.84" fill="#FFF7B3"/>
<rect x="316.00" y="563.34" width="17.20" height="4.84" fill="#FFFCBB"/>
<rect x="338.80" y="563.34" width="18.30" height="4.84" fill="#FFF7B3"/>
<rect x="48.50" y="568.13" width="18.30" height="4.84" fill="#FFF7B3"/>
<rect x="66.80" y="568.13" width="18.20" height="4.84" fill="#FFF7B3"/>
<rect x="85.00" y="568.13" width="18.20" height="4.84" fill="#FFF7B3"/>
<rect x="107.20" y="568.13" width="18.10" height="4.84" fill="#FFF7B3"/>
<rect x="125.30" y="568.13" width="18.10" height="4.84" fill="#FFF7B3"/>
<rect x="143.40" y="568.13" width="18.10" height="4.84" fill="#FFF7B3"/>
<rect x="161.50" y="568.13" width="18.10" height="4.84" fill="#FFF7B3"/>
<rect x="179.60" y="568.13" width="18.10" height="4.84" fill="#FFF2AB"/>
<rect x="204.00" y="568.13" width="17.20" height="4.84" fill="#FFF2AB"/>
<rect x="227.00" y="568.13" width="17.60" height="4.84" fill="#FFF2AB"/>
<rect x="250.00" y="568.13" width="15.60" height="4.84" fill="#FFFCBB"/>
<rect x="271.00" y="568.13" width="15.60" height="4.84" fill="#FFFCBB"/>
<rect x="292.20" y="568.13" width="17.80" height="4.84" fill="#FFF7B3"/>
<rect x="316.00" y="568.13" width="17.20" height="4.84" fill="#FFF7B3"/>
<rect x="338.80" y="568.13" width="18.30" height="4.84" fill="#FFFCBB"/>
<rect x="48.50" y="572.92" width="18.30" height="4.84" fill="#E0F3F7"/>
<rect x="66.80" y="572.92" width="18.20" height="4.84" fill="#EBF7E3"/>
<rect x="85.00" y="572.92" width="18.20" height="4.84" fill="#F6FCCE"/>
<rect x="107.20" y="572.92" width="18.10" height="4.84" fill="#F9FDCA"/>
<rect x="125.30" y="572.92" width="18.10" height="4.84" fill="#FFFCBB"/>
<rect x="143.40" y="572.92" width="18.10" height="4.84" fill="#FFF7B3"/>
<rect x="161.50" y="572.92" width="18.10" height="4.84" fill="#FEECA2"/>
<rect x="179.60" y="572.92" width="18.10" height="4.84" fill="#FDB976"/>
<rect x="204.00" y="572.92" width="17.20" height="4.84" fill="#FED589"/>
<rect x="227.00" y="572.92" width="17.60" height="4.84" fill="#FED589"/>
<rect x="250.00" y="572.92" width="15.60" height="4.84" fill="#FFF7B3"/>
<rect x="271.00" y="572.92" width="15.60" height="4.84" fill="#FCFEC4"/>
<rect x="292.20" y="572.92" width="17.80" height="4.84" fill="#E9F6E7"/>
<rect x="316.00" y="572.92" width="17.20" height="4.84" fill="#EBF7E3"/>
<rect x="338.80" y="572.92" width="18.30" height="4.84" fill="#CEE8F6"/>
<rect x="48.50" y="577.72" width="18.30" height="4.84" fill="#FFFCBB"/>
<rect x="66.80" y="577.72" width="18.20" height="4.84" fill="#FFFCBB"/>
<rect x="85.00" y="577.72" width="18.20" height="4.84" fill="#FFF7B3"/>
<rect x="107.20" y="577.72" width="18.10" height="4.84" fill="#FFFCBB"/>
<rect x="125.30" y="577.72" width="18.10" height="4.84" fill="#FFFCBB"/>
<rect x="143.40" y="577.72" width="18.10" height="4.84" fill="#FFF7B3"/>
<rect x="161.50" y="577.72" width="18.10" height="4.84" fill="#FEECA2"/>
<rect x="179.60" y="577.72" width="18.10" height="4.84" fill="#FDAA6C"/>
<rect x="204.00" y="577.72" width="17.20" height="4.84" fill="#FEE192"/>
<rect x="227.00" y="577.72" width="17.60" height="4.84" fill="#FEE79A"/>
<rect x="250.00" y="577.72" width="15.60" height="4.84" fill="#FFFCBB"/>
<rect x="271.00" y="577.72" width="15.60" height="4.84" fill="#F1F9D9"/>
<rect x="292.20" y="577.72" width="17.80" height="4.84" fill="#C6E2F4"/>
<rect x="316.00" y="577.72" width="17.20" height="4.84" fill="#FFFCBB"/>
<rect x="338.80" y="577.72" width="18.30" height="4.84" fill="#FFFCBB"/>
<rect x="48.50" y="582.51" width="18.30" height="4.84" fill="#FFF7B3"/>
<rect x="66.80" y="582.51" width="18.20" height="4.84" fill="#FFF7B3"/>
<rect x="85.00" y="582.51" width="18.20" height="4.84" fill="#FEE79A"/>
<rect x="107.20" y="582.51" width="18.10" height="4.84" fill="#FFF7B3"/>
<rect x="125.30" y="582.51" width="18.10" height="4.84" fill="#FFF7B3"/>
<rect x="143.40" y="582.51" width="18.10" height="4.84" fill="#FEECA2"/>
<rect x="161.50" y="582.51" width="18.10" height="4.84" fill="#FFFCBB"/>
<rect x="179.60" y="582.51" width="18.10" height="4.84" fill="#FEE79A"/>
<rect x="204.00" y="582.51" width="17.20" height="4.84" fill="#FFF2AB"/>
<rect x="227.00" y="582.51" width="17.60" height="4.84" fill="#FFF2AB"/>
<rect x="250.00" y="582.51" width="15.60" height="4.84" fill="#FFFCBB"/>
<rect x="271.00" y="582.51" width="15.60" height="4.84" fill="#F6FCCE"/>
<rect x="292.20" y="582.51" width="17.80" height="4.84" fill="#E9F6E7"/>
<rect x="316.00" y="582.51" width="17.20" height="4.84" fill="#F6FCCE"/>
<rect x="338.80" y="582.51" width="18.30" height="4.84" fill="#FCFEC4"/>
<rect x="48.50" y="587.30" width="18.30" height="4.84" fill="#93C2E8"/>
<rect x="66.80" y="587.30" width="18.20" height="4.84" fill="#9CC7EA"/>
<rect x="85.00" y="587.30" width="18.20" height="4.84" fill="#9CC7EA"/>
<rect x="107.20" y="587.30" width="18.10" height="4.84" fill="#DCF1FA"/>
<rect x="125.30" y="587.30" width="18.10" height="4.84" fill="#E9F6E7"/>
<rect x="143.40" y="587.30" width="18.10" height="4.84" fill="#E9F6E7"/>
<rect x="161.50" y="587.30" width="18.10" height="4.84" fill="#E5F5ED"/>
<rect x="179.60" y="587.30" width="18.10" height="4.84" fill="#FFFEBE"/>
<rect x="204.00" y="587.30" width="17.20" height="4.84" fill="#FFFCBB"/>
<rect x="227.00" y="587.30" width="17.60" height="4.84" fill="#E9F6E7"/>
<rect x="250.00" y="587.30" width="15.60" height="4.84" fill="#E5F5ED"/>
<rect x="271.00" y="587.30" width="15.60" height="4.84" fill="#E5F5ED"/>
<rect x="292.20" y="587.30" width="17.80" height="4.84" fill="#CEE8F6"/>
<rect x="316.00" y="587.30" width="17.20" height="4.84" fill="#DCF1FA"/>
<rect x="338.80" y="587.30" width="18.30" height="4.84" fill="#CEE8F6"/>
<rect x="48.50" y="592.10" width="18.30" height="4.84" fill="#AAD0ED"/>
<rect x="66.80" y="592.10" width="18.20" height="4.84" fill="#AAD0ED"/>
<rect x="85.00" y="592.10" width="18.20" height="4.84" fill="#B2D6EF"/>
<rect x="107.20" y="592.10" width="18.10" height="4.84" fill="#DCF1FA"/>
<rect x="125.30" y="592.10" width="18.10" height="4.84" fill="#E6F5EB"/>
<rect x="143.40" y="592.10" width="18.10" height="4.84" fill="#EBF7E3"/>
<rect x="161.50" y="592.10" width="18.10" height="4.84" fill="#E5F5ED"/>
<rect x="179.60" y="592.10" width="18.10" height="4.84" fill="#E5F5ED"/>
<rect x="204.00" y="592.10" width="17.20" height="4.84" fill="#EEF8DD"/>
<rect x="227.00" y="592.10" width="17.60" height="4.84" fill="#D4EBF7"/>
<rect x="250.00" y="592.10" width="15.60" height="4.84" fill="#CBE6F5"/>
<rect x="271.00" y="592.10" width="15.60" height="4.84" fill="#D4EBF7"/>
<rect x="292.20" y="592.10" width="17.80" height="4.84" fill="#C0DFF3"/>
<rect x="316.00" y="592.10" width="17.20" height="4.84" fill="#C6E2F4"/>
<rect x="338.80" y="592.10" width="18.30" height="4.84" fill="#C3E1F3"/>
<rect x="48.50" y="596.89" width="18.30" height="4.84" fill="#C0DFF3"/>
<rect x="66.80" y="596.89" width="18.20" height="4.84" fill="#E0F3F7"/>
<rect x="85.00" y="596.89" width="18.20" height="4.84" fill="#E9F6E7"/>
<rect x="107.20" y="596.89" width="18.10" height="4.84" fill="#E9F6E7"/>
<rect x="125.30" y="596.89" width="18.10" height="4.84" fill="#F2FAD7"/>
<rect x="143.40" y="596.89" width="18.10" height="4.84" fill="#F2FAD7"/>
<rect x="161.50" y="596.89" width="18.10" height="4.84" fill="#E9F6E7"/>
<rect x="179.60" y="596.89" width="18.10" height="4.84" fill="#E5F5ED"/>
<rect x="204.00" y="596.89" width="17.20" height="4.84" fill="#FFFEBE"/>
<rect x="227.00" y="596.89" width="17.60" height="4.84" fill="#E0F3F7"/>
<rect x="250.00" y="596.89" width="15.60" height="4.84" fill="#EEF8DD"/>
<rect x="271.00" y="596.89" width="15.60" height="4.84" fill="#E5F5ED"/>
<rect x="292.20" y="596.89" width="17.80" height="4.84" fill="#EEF8DD"/>
<rect x="316.00" y="596.89" width="17.20" height="4.84" fill="#E5F5ED"/>
<rect x="338.80" y="596.89" width="18.30" height="4.84" fill="#EEF8DD"/>
<rect x="48.50" y="601.68" width="18.30" height="4.84" fill="#CEE8F6"/>
<rect x="66.80" y="601.68" width="18.20" height="4.84" fill="#E5F5ED"/>
<rect x="85.00" y="601.68" width="18.20" height="4.84" fill="#EBF7E3"/>
<rect x="107.20" y="601.68" width="18.10" height="4.84" fill="#E5F5ED"/>
<rect x="125.30" y="601.68" width="18.10" height="4.84" fill="#F6FCCE"/>
<rect x="143.40" y="601.68" width="18.10" height="4.84" fill="#FFFCBB"/>
<rect x="161.50" y="601.68" width="18.10" height="4.84" fill="#E9F6E7"/>
<rect x="179.60" y="601.68" width="18.10" height="4.84" fill="#E9F6E7"/>
<rect x="204.00" y="601.68" width="17.20" height="4.84" fill="#FAFDC8"/>
<rect x="227.00" y="601.68" width="17.60" height="4.84" fill="#E5F5ED"/>
<rect x="250.00" y="601.68" width="15.60" height="4.84" fill="#E5F5ED"/>
<rect x="271.00" y="601.68" width="15.60" height="4.84" fill="#E0F3F7"/>
<rect x="292.20" y="601.68" width="17.80" height="4.84" fill="#EBF7E3"/>
<rect x="316.00" y="601.68" width="17.20" height="4.84" fill="#E9F6E7"/>
<rect x="338.80" y="601.68" width="18.30" height="4.84" fill="#EEF8DD"/>
<rect x="48.50" y="606.48" width="18.30" height="4.84" fill="#C6E2F4"/>
<rect x="66.80" y="606.48" width="18.20" height="4.84" fill="#CEE8F6"/>
<rect x="85.00" y="606.48" width="18.20" height="4.84" fill="#D4EBF7"/>
<rect x="107.20" y="606.48" width="18.10" height="4.84" fill="#CEE8F6"/>
<rect x="125.30" y="606.48" width="18.10" height="4.84" fill="#E5F5ED"/>
<rect x="143.40" y="606.48" width="18.10" height="4.84" fill="#E9F6E7"/>
<rect x="161.50" y="606.48" width="18.10" height="4.84" fill="#E5F5ED"/>
<rect x="179.60" y="606.48" width="18.10" height="4.84" fill="#E5F5ED"/>
<rect x="204.00" y="606.48" width="17.20" height="4.84" fill="#FCFEC4"/>
<rect x="227.00" y="606.48" width="17.60" height="4.84" fill="#E2F4F3"/>
<rect x="250.00" y="606.48" width="15.60" height="4.84" fill="#EEF8DD"/>
<rect x="271.00" y="606.48" width="15.60" height="4.84" fill="#E2F4F3"/>
<rect x="292.20" y="606.48" width="17.80" height="4.84" fill="#C0DFF3"/>
<rect x="316.00" y="606.48" width="17.20" height="4.84" fill="#CEE8F6"/>
<rect x="338.80" y="606.48" width="18.30" height="4.84" fill="#DCF1FA"/>
<rect x="48.50" y="611.27" width="18.30" height="4.84" fill="#C6E2F4"/>
<rect x="66.80" y="611.27" width="18.20" height="4.84" fill="#CEE8F6"/>
<rect x="85.00" y="611.27" width="18.20" height="4.84" fill="#D9EFF9"/>
<rect x="107.20" y="611.27" width="18.10" height="4.84" fill="#DCF1FA"/>
<rect x="125.30" y="611.27" width="18.10" height="4.84" fill="#E5F5ED"/>
<rect x="143.40" y="611.27" width="18.10" height="4.84" fill="#EBF7E3"/>
<rect x="161.50" y="611.27" width="18.10" height="4.84" fill="#E9F6E7"/>
<rect x="179.60" y="611.27" width="18.10" height="4.84" fill="#E2F4F3"/>
<rect x="204.00" y="611.27" width="17.20" height="4.84" fill="#F6FCCE"/>
<rect x="227.00" y="611.27" width="17.60" height="4.84" fill="#E5F5ED"/>
<rect x="250.00" y="611.27" width="15.60" height="4.84" fill="#EBF7E3"/>
<rect x="271.00" y="611.27" width="15.60" height="4.84" fill="#E2F4F3"/>
<rect x="292.20" y="611.27" width="17.80" height="4.84" fill="#C3E1F3"/>
<rect x="316.00" y="611.27" width="17.20" height="4.84" fill="#CEE8F6"/>
<rect x="338.80" y="611.27" width="18.30" height="4.84" fill="#E0F3F7"/>
<rect x="48.50" y="616.06" width="18.30" height="4.84" fill="#DCF1FA"/>
<rect x="66.80" y="616.06" width="18.20" height="4.84" fill="#E5F5ED"/>
<rect x="85.00" y="616.06" width="18.20" height="4.84" fill="#E5F5ED"/>
<rect x="107.20" y="616.06" width="18.10" height="4.84" fill="#E5F5ED"/>
<rect x="125.30" y="616.06" width="18.10" height="4.84" fill="#EBF7E3"/>
<rect x="143.40" y="616.06" width="18.10" height="4.84" fill="#F2FAD7"/>
<rect x="161.50" y="616.06" width="18.10" height="4.84" fill="#EBF7E3"/>
<rect x="179.60" y="616.06" width="18.10" height="4.84" fill="#E9F6E7"/>
<rect x="204.00" y="616.06" width="17.20" height="4.84" fill="#F6FCCE"/>
<rect x="227.00" y="616.06" width="17.60" height="4.84" fill="#E9F6E7"/>
<rect x="250.00" y="616.06" width="15.60" height="4.84" fill="#E9F6E7"/>
<rect x="271.00" y="616.06" width="15.60" height="4.84" fill="#E9F6E7"/>
<rect x="292.20" y="616.06" width="17.80" height="4.84" fill="#E2F4F3"/>
<rect x="316.00" y="616.06" width="17.20" height="4.84" fill="#E9F6E7"/>
<rect x="338.80" y="616.06" width="18.30" height="4.84" fill="#E9F6E7"/>
<rect x="48.50" y="620.85" width="18.30" height="4.84" fill="#DCF1FA"/>
<rect x="66.80" y="620.85" width="18.20" height="4.84" fill="#E2F4F3"/>
<rect x="85.00" y="620.85" width="18.20" height="4.84" fill="#E9F6E7"/>
<rect x="107.20" y="620.85" width="18.10" height="4.84" fill="#E5F5ED"/>
<rect x="125.30" y="620.85" width="18.10" height="4.84" fill="#EBF7E3"/>
<rect x="143.40" y="620.85" width="18.10" height="4.84" fill="#F2FAD7"/>
<rect x="161.50" y="620.85" width="18.10" height="4.84" fill="#EBF7E3"/>
<rect x="179.60" y="620.85" width="18.10" height="4.84" fill="#F2FAD7"/>
<rect x="204.00" y="620.85" width="17.20" height="4.84" fill="#F2FAD7"/>
<rect x="227.00" y="620.85" width="17.60" height="4.84" fill="#EBF7E3"/>
<rect x="250.00" y="620.85" width="15.60" height="4.84" fill="#E9F6E7"/>
<rect x="271.00" y="620.85" width="15.60" height="4.84" fill="#E5F5ED"/>
<rect x="292.20" y="620.85" width="17.80" height="4.84" fill="#E5F5ED"/>
<rect x="316.00" y="620.85" width="17.20" height="4.84" fill="#E2F4F3"/>
<rect x="338.80" y="620.85" width="18.30" height="4.84" fill="#E5F5ED"/>
<rect x="48.50" y="625.65" width="18.30" height="4.84" fill="#C0DFF3"/>
<rect x="66.80" y="625.65" width="18.20" height="4.84" fill="#C6E2F4"/>
<rect x="85.00" y="625.65" width="18.20" height="4.84" fill="#CBE6F5"/>
<rect x="107.20" y="625.65" width="18.10" height="4.84" fill="#E5F5ED"/>
<rect x="125.30" y="625.65" width="18.10" height="4.84" fill="#EBF7E3"/>
<rect x="143.40" y="625.65" width="18.10" height="4.84" fill="#EBF7E3"/>
<rect x="161.50" y="625.65" width="18.10" height="4.84" fill="#EBF7E3"/>
<rect x="179.60" y="625.65" width="18.10" height="4.84" fill="#F6FCCE"/>
<rect x="204.00" y="625.65" width="17.20" height="4.84" fill="#F2FAD7"/>
<rect x="227.00" y="625.65" width="17.60" height="4.84" fill="#EBF7E3"/>
<rect x="250.00" y="625.65" width="15.60" height="4.84" fill="#E5F5ED"/>
<rect x="271.00" y="625.65" width="15.60" height="4.84" fill="#E9F6E7"/>
<rect x="292.20" y="625.65" width="17.80" height="4.84" fill="#E0F3F7"/>
<rect x="316.00" y="625.65" width="17.20" height="4.84" fill="#E9F6E7"/>
<rect x="338.80" y="625.65" width="18.30" height="4.84" fill="#E5F5ED"/>
<rect x="48.50" y="630.44" width="18.30" height="4.84" fill="#B8D9F1"/>
<rect x="66.80" y="630.44" width="18.20" height="4.84" fill="#C0DFF3"/>
<rect x="85.00" y="630.44" width="18.20" height="4.84" fill="#C6E2F4"/>
<rect x="107.20" y="630.44" width="18.10" height="4.84" fill="#E0F3F7"/>
<rect x="125.30" y="630.44" width="18.10" height="4.84" fill="#E9F6E7"/>
<rect x="143.40" y="630.44" width="18.10" height="4.84" fill="#EBF7E3"/>
<rect x="161.50" y="630.44" width="18.10" height="4.84" fill="#EBF7E3"/>
<rect x="179.60" y="630.44" width="18.10" height="4.84" fill="#CEE8F6"/>
<rect x="204.00" y="630.44" width="17.20" height="4.84" fill="#F6FCCE"/>
<rect x="227.00" y="630.44" width="17.60" height="4.84" fill="#EBF7E3"/>
<rect x="250.00" y="630.44" width="15.60" height="4.84" fill="#E5F5ED"/>
<rect x="271.00" y="630.44" width="15.60" height="4.84" fill="#E5F5ED"/>
<rect x="292.20" y="630.44" width="17.80" height="4.84" fill="#DCF1FA"/>
<rect x="316.00" y="630.44" width="17.20" height="4.84" fill="#E2F4F3"/>
<rect x="338.80" y="630.44" width="18.30" height="4.84" fill="#E0F3F7"/>
<rect x="48.50" y="635.23" width="18.30" height="4.84" fill="#C0DFF3"/>
<rect x="66.80" y="635.23" width="18.20" height="4.84" fill="#CEE8F6"/>
<rect x="85.00" y="635.23" width="18.20" height="4.84" fill="#E9F6E7"/>
<rect x="107.20" y="635.23" width="18.10" height="4.84" fill="#E5F5ED"/>
<rect x="125.30" y="635.23" width="18.10" height="4.84" fill="#EBF7E3"/>
<rect x="143.40" y="635.23" width="18.10" height="4.84" fill="#F2FAD7"/>
<rect x="161.50" y="635.23" width="18.10" height="4.84" fill="#FCFEC4"/>
<rect x="179.60" y="635.23" width="18.10" height="4.84" fill="#FCFEC4"/>
<rect x="204.00" y="635.23" width="17.20" height="4.84" fill="#FFF9B6"/>
<rect x="227.00" y="635.23" width="17.60" height="4.84" fill="#FFF9B6"/>
<rect x="250.00" y="635.23" width="15.60" height="4.84" fill="#F2FAD7"/>
<rect x="271.00" y="635.23" width="15.60" height="4.84" fill="#E9F6E7"/>
<rect x="292.20" y="635.23" width="17.80" height="4.84" fill="#CEE8F6"/>
<rect x="316.00" y="635.23" width="17.20" height="4.84" fill="#DCF1FA"/>
<rect x="338.80" y="635.23" width="18.30" height="4.84" fill="#D1EAF7"/>
<rect x="48.50" y="640.03" width="18.30" height="4.84" fill="#EEF8DD"/>
<rect x="66.80" y="640.03" width="18.20" height="4.84" fill="#EEF8DD"/>
<rect x="85.00" y="640.03" width="18.20" height="4.84" fill="#EBF7E3"/>
<rect x="107.20" y="640.03" width="18.10" height="4.84" fill="#EBF7E3"/>
<rect x="125.30" y="640.03" width="18.10" height="4.84" fill="#F2FAD7"/>
<rect x="143.40" y="640.03" width="18.10" height="4.84" fill="#F2FAD7"/>
<rect x="161.50" y="640.03" width="18.10" height="4.84" fill="#FCFEC4"/>
<rect x="179.60" y="640.03" width="18.10" height="4.84" fill="#FCFEC4"/>
<rect x="204.00" y="640.03" width="17.20" height="4.84" fill="#FFFEBE"/>
<rect x="227.00" y="640.03" width="17.60" height="4.84" fill="#F6FCCE"/>
<rect x="250.00" y="640.03" width="15.60" height="4.84" fill="#EEF8DD"/>
<rect x="271.00" y="640.03" width="15.60" height="4.84" fill="#E9F6E7"/>
<rect x="292.20" y="640.03" width="17.80" height="4.84" fill="#EBF7E3"/>
<rect x="316.00" y="640.03" width="17.20" height="4.84" fill="#EEF8DD"/>
<rect x="338.80" y="640.03" width="18.30" height="4.84" fill="#FCFEC4"/>
<rect x="48.50" y="644.82" width="18.30" height="4.84" fill="#DCF1FA"/>
<rect x="66.80" y="644.82" width="18.20" height="4.84" fill="#E0F3F7"/>
<rect x="85.00" y="644.82" width="18.20" height="4.84" fill="#E9F6E7"/>
<rect x="107.20" y="644.82" width="18.10" height="4.84" fill="#DCF1FA"/>
<rect x="125.30" y="644.82" width="18.10" height="4.84" fill="#E9F6E7"/>
<rect x="143.40" y="644.82" width="18.10" height="4.84" fill="#F2FAD7"/>
<rect x="161.50" y="644.82" width="18.10" height="4.84" fill="#F2FAD7"/>
<rect x="179.60" y="644.82" width="18.10" height="4.84" fill="#FFF7B3"/>
<rect x="204.00" y="644.82" width="17.20" height="4.84" fill="#FFFCBB"/>
<rect x="227.00" y="644.82" width="17.60" height="4.84" fill="#F2FAD7"/>
<rect x="250.00" y="644.82" width="15.60" height="4.84" fill="#EEF8DD"/>
<rect x="271.00" y="644.82" width="15.60" height="4.84" fill="#E5F5ED"/>
<rect x="292.20" y="644.82" width="17.80" height="4.84" fill="#CEE8F6"/>
<rect x="316.00" y="644.82" width="17.20" height="4.84" fill="#DCF1FA"/>
<rect x="338.80" y="644.82" width="18.30" height="4.84" fill="#DCF1FA"/>
<rect x="48.50" y="649.61" width="18.30" height="4.84" fill="#E9F6E7"/>
<rect x="66.80" y="649.61" width="18.20" height="4.84" fill="#E5F5ED"/>
<rect x="85.00" y="649.61" width="18.20" height="4.84" fill="#F2FAD7"/>
<rect x="107.20" y="649.61" width="18.10" height="4.84" fill="#E9F6E7"/>
<rect x="125.30" y="649.61" width="18.10" height="4.84" fill="#EBF7E3"/>
<rect x="143.40" y="649.61" width="18.10" height="4.84" fill="#F6FCCE"/>
<rect x="161.50" y="649.61" width="18.10" height="4.84" fill="#E9F6E7"/>
<rect x="179.60" y="649.61" width="18.10" height="4.84" fill="#FFF2AB"/>
<rect x="204.00" y="649.61" width="17.20" height="4.84" fill="#FFFEBE"/>
<rect x="227.00" y="649.61" width="17.60" height="4.84" fill="#F2FAD7"/>
<rect x="250.00" y="649.61" width="15.60" height="4.84" fill="#E9F6E7"/>
<rect x="271.00" y="649.61" width="15.60" height="4.84" fill="#E5F5ED"/>
<rect x="292.20" y="649.61" width="17.80" height="4.84" fill="#E9F6E7"/>
<rect x="316.00" y="649.61" width="17.20" height="4.84" fill="#DCF1FA"/>
<rect x="338.80" y="649.61" width="18.30" height="4.84" fill="#E9F6E7"/>
<rect x="48.50" y="654.40" width="18.30" height="4.84" fill="#E2F4F3"/>
<rect x="66.80" y="654.40" width="18.20" height="4.84" fill="#E0F3F7"/>
<rect x="85.00" y="654.40" width="18.20" height="4.84" fill="#F2FAD7"/>
<rect x="107.20" y="654.40" width="18.10" height="4.84" fill="#E9F6E7"/>
<rect x="125.30" y="654.40" width="18.10" height="4.84" fill="#DCF1FA"/>
<rect x="143.40" y="654.40" width="18.10" height="4.84" fill="#F6FCCE"/>
<rect x="161.50" y="654.40" width="18.10" height="4.84" fill="#EBF7E3"/>
<rect x="179.60" y="654.40" width="18.10" height="4.84" fill="#FEECA2"/>
<rect x="204.00" y="654.40" width="17.20" height="4.84" fill="#F6FCCE"/>
<rect x="227.00" y="654.40" width="17.60" height="4.84" fill="#EEF8DD"/>
<rect x="250.00" y="654.40" width="15.60" height="4.84" fill="#CBE6F5"/>
<rect x="271.00" y="654.40" width="15.60" height="4.84" fill="#D4EBF7"/>
<rect x="292.20" y="654.40" width="17.80" height="4.84" fill="#E5F5ED"/>
<rect x="316.00" y="654.40" width="17.20" height="4.84" fill="#DCF1FA"/>
<rect x="338.80" y="654.40" width="18.30" height="4.84" fill="#E9F6E7"/>
<rect x="48.50" y="659.20" width="18.30" height="4.84" fill="#C6E2F4"/>
<rect x="66.80" y="659.20" width="18.20" height="4.84" fill="#C6E2F4"/>
<rect x="85.00" y="659.20" width="18.20" height="4.84" fill="#E2F4F3"/>
<rect x="107.20" y="659.20" width="18.10" height="4.84" fill="#CEE8F6"/>
<rect x="125.30" y="659.20" width="18.10" height="4.84" fill="#EBF7E3"/>
<rect x="143.40" y="659.20" width="18.10" height="4.84" fill="#FFFEBE"/>
<rect x="161.50" y="659.20" width="18.10" height="4.84" fill="#FFF7B3"/>
<rect x="179.60" y="659.20" width="18.10" height="4.84" fill="#FDBE7A"/>
<rect x="204.00" y="659.20" width="17.20" height="4.84" fill="#E9F6E7"/>
<rect x="227.00" y="659.20" width="17.60" height="4.84" fill="#E0F3F7"/>
<rect x="250.00" y="659.20" width="15.60" height="4.84" fill="#E5F5ED"/>
<rect x="271.00" y="659.20" width="15.60" height="4.84" fill="#E2F4F3"/>
<rect x="292.20" y="659.20" width="17.80" height="4.84" fill="#C6E2F4"/>
<rect x="316.00" y="659.20" width="17.20" height="4.84" fill="#C6E2F4"/>
<rect x="338.80" y="659.20" width="18.30" height="4.84" fill="#CEE8F6"/>
<rect x="48.50" y="663.99" width="18.30" height="4.84" fill="#FFFEBE"/>
<rect x="66.80" y="663.99" width="18.20" height="4.84" fill="#EEF8DD"/>
<rect x="85.00" y="663.99" width="18.20" height="4.84" fill="#DCF1FA"/>
<rect x="107.20" y="663.99" width="18.10" height="4.84" fill="#E2F4F3"/>
<rect x="125.30" y="663.99" width="18.10" height="4.84" fill="#F6FCCE"/>
<rect x="143.40" y="663.99" width="18.10" height="4.84" fill="#FCFEC4"/>
<rect x="161.50" y="663.99" width="18.10" height="4.84" fill="#FED589"/>
<rect x="179.60" y="663.99" width="18.10" height="4.84" fill="#FFF2AB"/>
<rect x="204.00" y="663.99" width="17.20" height="4.84" fill="#FFF6B1"/>
<rect x="227.00" y="663.99" width="17.60" height="4.84" fill="#FEEBA1"/>
<rect x="250.00" y="663.99" width="15.60" height="4.84" fill="#F6FCCE"/>
<rect x="271.00" y="663.99" width="15.60" height="4.84" fill="#FFF6B1"/>
<rect x="292.20" y="663.99" width="17.80" height="4.84" fill="#DCF1FA"/>
<rect x="316.00" y="663.99" width="17.20" height="4.84" fill="#CEE8F6"/>
<rect x="338.80" y="663.99" width="18.30" height="4.84" fill="#DCF1FA"/>
<rect x="48.50" y="668.78" width="18.30" height="4.84" fill="#E2F4F3"/>
<rect x="66.80" y="668.78" width="18.20" height="4.84" fill="#E9F6E7"/>
<rect x="85.00" y="668.78" width="18.20" height="4.84" fill="#F6FCCE"/>
<rect x="107.20" y="668.78" width="18.10" height="4.84" fill="#F2FAD7"/>
<rect x="125.30" y="668.78" width="18.10" height="4.84" fill="#F2FAD7"/>
<rect x="143.40" y="668.78" width="18.10" height="4.84" fill="#FCFEC4"/>
<rect x="161.50" y="668.78" width="18.10" height="4.84" fill="#FCFEC4"/>
<rect x="179.60" y="668.78" width="18.10" height="4.84" fill="#FFFAB8"/>
<rect x="204.00" y="668.78" width="17.20" height="4.84" fill="#FEEBA1"/>
<rect x="227.00" y="668.78" width="17.60" height="4.84" fill="#FFF6B1"/>
<rect x="250.00" y="668.78" width="15.60" height="4.84" fill="#F6FCCE"/>
<rect x="271.00" y="668.78" width="15.60" height="4.84" fill="#FFF9B6"/>
<rect x="292.20" y="668.78" width="17.80" height="4.84" fill="#EBF7E3"/>
<rect x="316.00" y="668.78" width="17.20" height="4.84" fill="#CEE8F6"/>
<rect x="338.80" y="668.78" width="18.30" height="4.84" fill="#E2F4F3"/>
<rect x="48.50" y="673.58" width="18.30" height="4.84" fill="#F2FAD7"/>
<rect x="66.80" y="673.58" width="18.20" height="4.84" fill="#EEF8DD"/>
<rect x="85.00" y="673.58" width="18.20" height="4.84" fill="#F6FCCE"/>
<rect x="107.20" y="673.58" width="18.10" height="4.84" fill="#F2FAD7"/>
<rect x="125.30" y="673.58" width="18.10" height="4.84" fill="#F6FCCE"/>
<rect x="143.40" y="673.58" width="18.10" height="4.84" fill="#FCFEC4"/>
<rect x="161.50" y="673.58" width="18.10" height="4.84" fill="#FCFEC4"/>
<rect x="179.60" y="673.58" width="18.10" height="4.84" fill="#FFFAB8"/>
<rect x="204.00" y="673.58" width="17.20" height="4.84" fill="#FEE495"/>
<rect x="227.00" y="673.58" width="17.60" height="4.84" fill="#FFF8B4"/>
<rect x="250.00" y="673.58" width="15.60" height="4.84" fill="#FCFEC4"/>
<rect x="271.00" y="673.58" width="15.60" height="4.84" fill="#EBF7E3"/>
<rect x="292.20" y="673.58" width="17.80" height="4.84" fill="#E0F3F7"/>
<rect x="316.00" y="673.58" width="17.20" height="4.84" fill="#DCF1FA"/>
<rect x="338.80" y="673.58" width="18.30" height="4.84" fill="#E5F5ED"/>
<rect x="48.50" y="678.37" width="18.30" height="4.84" fill="#F6FCCE"/>
<rect x="66.80" y="678.37" width="18.20" height="4.84" fill="#F2FAD7"/>
<rect x="85.00" y="678.37" width="18.20" height="4.84" fill="#F9FDCA"/>
<rect x="107.20" y="678.37" width="18.10" height="4.84" fill="#F2FAD7"/>
<rect x="125.30" y="678.37" width="18.10" height="4.84" fill="#F6FCCE"/>
<rect x="143.40" y="678.37" width="18.10" height="4.84" fill="#FCFEC4"/>
<rect x="161.50" y="678.37" width="18.10" height="4.84" fill="#FCFEC4"/>
<rect x="179.60" y="678.37" width="18.10" height="4.84" fill="#FFFAB8"/>
<rect x="204.00" y="678.37" width="17.20" height="4.84" fill="#FEE495"/>
<rect x="227.00" y="678.37" width="17.60" height="4.84" fill="#FFFCBB"/>
<rect x="250.00" y="678.37" width="15.60" height="4.84" fill="#F6FCCE"/>
<rect x="271.00" y="678.37" width="15.60" height="4.84" fill="#EBF7E3"/>
<rect x="292.20" y="678.37" width="17.80" height="4.84" fill="#DCF1FA"/>
<rect x="316.00" y="678.37" width="17.20" height="4.84" fill="#E5F5ED"/>
<rect x="338.80" y="678.37" width="18.30" height="4.84" fill="#E5F5ED"/>
<rect x="48.50" y="683.16" width="18.30" height="4.84" fill="#F6FCCE"/>
<rect x="66.80" y="683.16" width="18.20" height="4.84" fill="#F2FAD7"/>
<rect x="85.00" y="683.16" width="18.20" height="4.84" fill="#F6FCCE"/>
<rect x="107.20" y="683.16" width="18.10" height="4.84" fill="#F6FCCE"/>
<rect x="125.30" y="683.16" width="18.10" height="4.84" fill="#F6FCCE"/>
<rect x="143.40" y="683.16" width="18.10" height="4.84" fill="#FCFEC4"/>
<rect x="161.50" y="683.16" width="18.10" height="4.84" fill="#FFFEBE"/>
<rect x="179.60" y="683.16" width="18.10" height="4.84" fill="#FFFAB8"/>
<rect x="204.00" y="683.16" width="17.20" height="4.84" fill="#FEE79A"/>
<rect x="227.00" y="683.16" width="17.60" height="4.84" fill="#FFFCBB"/>
<rect x="250.00" y="683.16" width="15.60" height="4.84" fill="#F6FCCE"/>
<rect x="271.00" y="683.16" width="15.60" height="4.84" fill="#E9F6E7"/>
<rect x="292.20" y="683.16" width="17.80" height="4.84" fill="#EBF7E3"/>
<rect x="316.00" y="683.16" width="17.20" height="4.84" fill="#EBF7E3"/>
<rect x="338.80" y="683.16" width="18.30" height="4.84" fill="#F6FCCE"/>
</g>
<path d="M48.50 247.00H103.20M48.50 251.79H103.20M48.50 256.59H103.20M48.50 261.38H103.20M48.50 266.17H103.20M48.50 270.96H103.20M48.50 275.76H103.20M48.50 280.55H103.20M48.50 285.34H103.20M48.50 290.14H103.20M48.50 294.93H103.20M48.50 299.72H103.20M48.50 304.52H103.20M48.50 309.31H103.20M48.50 314.10H103.20M48.50 318.89H103.20M48.50 323.69H103.20M48.50 328.48H103.20M48.50 333.27H103.20M48.50 338.07H103.20M48.50 342.86H103.20M48.50 347.65H103.20M48.50 352.45H103.20M48.50 357.24H103.20M48.50 362.03H103.20M48.50 366.82H103.20M48.50 371.62H103.20M48.50 376.41H103.20M48.50 381.20H103.20M48.50 386.00H103.20M48.50 390.79H103.20M48.50 395.58H103.20M48.50 400.38H103.20M48.50 405.17H103.20M48.50 409.96H103.20M48.50 414.75H103.20M48.50 419.55H103.20M48.50 424.34H103.20M48.50 429.13H103.20M48.50 433.93H103.20M48.50 438.72H103.20M48.50 443.51H103.20M48.50 448.31H103.20M48.50 453.10H103.20M48.50 457.89H103.20M48.50 462.69H103.20M48.50 467.48H103.20M48.50 472.27H103.20M48.50 477.06H103.20M48.50 481.86H103.20M48.50 486.65H103.20M48.50 491.44H103.20M48.50 496.24H103.20M48.50 501.03H103.20M48.50 505.82H103.20M48.50 510.62H103.20M48.50 515.41H103.20M48.50 520.20H103.20M48.50 524.99H103.20M48.50 529.79H103.20M48.50 534.58H103.20M48.50 539.37H103.20M48.50 544.17H103.20M48.50 548.96H103.20M48.50 553.75H103.20M48.50 558.55H103.20M48.50 563.34H103.20M48.50 568.13H103.20M48.50 572.92H103.20M48.50 577.72H103.20M48.50 582.51H103.20M48.50 587.30H103.20M48.50 592.10H103.20M48.50 596.89H103.20M48.50 601.68H103.20M48.50 606.48H103.20M48.50 611.27H103.20M48.50 616.06H103.20M48.50 620.85H103.20M48.50 625.65H103.20M48.50 630.44H103.20M48.50 635.23H103.20M48.50 640.03H103.20M48.50 644.82H103.20M48.50 649.61H103.20M48.50 654.40H103.20M48.50 659.20H103.20M48.50 663.99H103.20M48.50 668.78H103.20M48.50 673.58H103.20M48.50 678.37H103.20M48.50 683.16H103.20M48.50 687.96H103.20M48.50 247.00V687.96M66.80 247.00V687.96M85.00 247.00V687.96M103.20 247.00V687.96M107.20 247.00H197.70M107.20 251.79H197.70M107.20 256.59H197.70M107.20 261.38H197.70M107.20 266.17H197.70M107.20 270.96H197.70M107.20 275.76H197.70M107.20 280.55H197.70M107.20 285.34H197.70M107.20 290.14H197.70M107.20 294.93H197.70M107.20 299.72H197.70M107.20 304.52H197.70M107.20 309.31H197.70M107.20 314.10H197.70M107.20 318.89H197.70M107.20 323.69H197.70M107.20 328.48H197.70M107.20 333.27H197.70M107.20 338.07H197.70M107.20 342.86H197.70M107.20 347.65H197.70M107.20 352.45H197.70M107.20 357.24H197.70M107.20 362.03H197.70M107.20 366.82H197.70M107.20 371.62H197.70M107.20 376.41H197.70M107.20 381.20H197.70M107.20 386.00H197.70M107.20 390.79H197.70M107.20 395.58H197.70M107.20 400.38H197.70M107.20 405.17H197.70M107.20 409.96H197.70M107.20 414.75H197.70M107.20 419.55H197.70M107.20 424.34H197.70M107.20 429.13H197.70M107.20 433.93H197.70M107.20 438.72H197.70M107.20 443.51H197.70M107.20 448.31H197.70M107.20 453.10H197.70M107.20 457.89H197.70M107.20 462.69H197.70M107.20 467.48H197.70M107.20 472.27H197.70M107.20 477.06H197.70M107.20 481.86H197.70M107.20 486.65H197.70M107.20 491.44H197.70M107.20 496.24H197.70M107.20 501.03H197.70M107.20 505.82H197.70M107.20 510.62H197.70M107.20 515.41H197.70M107.20 520.20H197.70M107.20 524.99H197.70M107.20 529.79H197.70M107.20 534.58H197.70M107.20 539.37H197.70M107.20 544.17H197.70M107.20 548.96H197.70M107.20 553.75H197.70M107.20 558.55H197.70M107.20 563.34H197.70M107.20 568.13H197.70M107.20 572.92H197.70M107.20 577.72H197.70M107.20 582.51H197.70M107.20 587.30H197.70M107.20 592.10H197.70M107.20 596.89H197.70M107.20 601.68H197.70M107.20 606.48H197.70M107.20 611.27H197.70M107.20 616.06H197.70M107.20 620.85H197.70M107.20 625.65H197.70M107.20 630.44H197.70M107.20 635.23H197.70M107.20 640.03H197.70M107.20 644.82H197.70M107.20 649.61H197.70M107.20 654.40H197.70M107.20 659.20H197.70M107.20 663.99H197.70M107.20 668.78H197.70M107.20 673.58H197.70M107.20 678.37H197.70M107.20 683.16H197.70M107.20 687.96H197.70M107.20 247.00V687.96M125.30 247.00V687.96M143.40 247.00V687.96M161.50 247.00V687.96M179.60 247.00V687.96M197.70 247.00V687.96M204.00 247.00H221.20M204.00 251.79H221.20M204.00 256.59H221.20M204.00 261.38H221.20M204.00 266.17H221.20M204.00 270.96H221.20M204.00 275.76H221.20M204.00 280.55H221.20M204.00 285.34H221.20M204.00 290.14H221.20M204.00 294.93H221.20M204.00 299.72H221.20M204.00 304.52H221.20M204.00 309.31H221.20M204.00 314.10H221.20M204.00 318.89H221.20M204.00 323.69H221.20M204.00 328.48H221.20M204.00 333.27H221.20M204.00 338.07H221.20M204.00 342.86H221.20M204.00 347.65H221.20M204.00 352.45H221.20M204.00 357.24H221.20M204.00 362.03H221.20M204.00 366.82H221.20M204.00 371.62H221.20M204.00 376.41H221.20M204.00 381.20H221.20M204.00 386.00H221.20M204.00 390.79H221.20M204.00 395.58H221.20M204.00 400.38H221.20M204.00 405.17H221.20M204.00 409.96H221.20M204.00 414.75H221.20M204.00 419.55H221.20M204.00 424.34H221.20M204.00 429.13H221.20M204.00 433.93H221.20M204.00 438.72H221.20M204.00 443.51H221.20M204.00 448.31H221.20M204.00 453.10H221.20M204.00 457.89H221.20M204.00 462.69H221.20M204.00 467.48H221.20M204.00 472.27H221.20M204.00 477.06H221.20M204.00 481.86H221.20M204.00 486.65H221.20M204.00 491.44H221.20M204.00 496.24H221.20M204.00 501.03H221.20M204.00 505.82H221.20M204.00 510.62H221.20M204.00 515.41H221.20M204.00 520.20H221.20M204.00 524.99H221.20M204.00 529.79H221.20M204.00 534.58H221.20M204.00 539.37H221.20M204.00 544.17H221.20M204.00 548.96H221.20M204.00 553.75H221.20M204.00 558.55H221.20M204.00 563.34H221.20M204.00 568.13H221.20M204.00 572.92H221.20M204.00 577.72H221.20M204.00 582.51H221.20M204.00 587.30H221.20M204.00 592.10H221.20M204.00 596.89H221.20M204.00 601.68H221.20M204.00 606.48H221.20M204.00 611.27H221.20M204.00 616.06H221.20M204.00 620.85H221.20M204.00 625.65H221.20M204.00 630.44H221.20M204.00 635.23H221.20M204.00 640.03H221.20M204.00 644.82H221.20M204.00 649.61H221.20M204.00 654.40H221.20M204.00 659.20H221.20M204.00 663.99H221.20M204.00 668.78H221.20M204.00 673.58H221.20M204.00 678.37H221.20M204.00 683.16H221.20M204.00 687.96H221.20M204.00 247.00V687.96M221.20 247.00V687.96M227.00 247.00H244.60M227.00 251.79H244.60M227.00 256.59H244.60M227.00 261.38H244.60M227.00 266.17H244.60M227.00 270.96H244.60M227.00 275.76H244.60M227.00 280.55H244.60M227.00 285.34H244.60M227.00 290.14H244.60M227.00 294.93H244.60M227.00 299.72H244.60M227.00 304.52H244.60M227.00 309.31H244.60M227.00 314.10H244.60M227.00 318.89H244.60M227.00 323.69H244.60M227.00 328.48H244.60M227.00 333.27H244.60M227.00 338.07H244.60M227.00 342.86H244.60M227.00 347.65H244.60M227.00 352.45H244.60M227.00 357.24H244.60M227.00 362.03H244.60M227.00 366.82H244.60M227.00 371.62H244.60M227.00 376.41H244.60M227.00 381.20H244.60M227.00 386.00H244.60M227.00 390.79H244.60M227.00 395.58H244.60M227.00 400.38H244.60M227.00 405.17H244.60M227.00 409.96H244.60M227.00 414.75H244.60M227.00 419.55H244.60M227.00 424.34H244.60M227.00 429.13H244.60M227.00 433.93H244.60M227.00 438.72H244.60M227.00 443.51H244.60M227.00 448.31H244.60M227.00 453.10H244.60M227.00 457.89H244.60M227.00 462.69H244.60M227.00 467.48H244.60M227.00 472.27H244.60M227.00 477.06H244.60M227.00 481.86H244.60M227.00 486.65H244.60M227.00 491.44H244.60M227.00 496.24H244.60M227.00 501.03H244.60M227.00 505.82H244.60M227.00 510.62H244.60M227.00 515.41H244.60M227.00 520.20H244.60M227.00 524.99H244.60M227.00 529.79H244.60M227.00 534.58H244.60M227.00 539.37H244.60M227.00 544.17H244.60M227.00 548.96H244.60M227.00 553.75H244.60M227.00 558.55H244.60M227.00 563.34H244.60M227.00 568.13H244.60M227.00 572.92H244.60M227.00 577.72H244.60M227.00 582.51H244.60M227.00 587.30H244.60M227.00 592.10H244.60M227.00 596.89H244.60M227.00 601.68H244.60M227.00 606.48H244.60M227.00 611.27H244.60M227.00 616.06H244.60M227.00 620.85H244.60M227.00 625.65H244.60M227.00 630.44H244.60M227.00 635.23H244.60M227.00 640.03H244.60M227.00 644.82H244.60M227.00 649.61H244.60M227.00 654.40H244.60M227.00 659.20H244.60M227.00 663.99H244.60M227.00 668.78H244.60M227.00 673.58H244.60M227.00 678.37H244.60M227.00 683.16H244.60M227.00 687.96H244.60M227.00 247.00V687.96M244.60 247.00V687.96M250.00 247.00H265.60M250.00 251.79H265.60M250.00 256.59H265.60M250.00 261.38H265.60M250.00 266.17H265.60M250.00 270.96H265.60M250.00 275.76H265.60M250.00 280.55H265.60M250.00 285.34H265.60M250.00 290.14H265.60M250.00 294.93H265.60M250.00 299.72H265.60M250.00 304.52H265.60M250.00 309.31H265.60M250.00 314.10H265.60M250.00 318.89H265.60M250.00 323.69H265.60M250.00 328.48H265.60M250.00 333.27H265.60M250.00 338.07H265.60M250.00 342.86H265.60M250.00 347.65H265.60M250.00 352.45H265.60M250.00 357.24H265.60M250.00 362.03H265.60M250.00 366.82H265.60M250.00 371.62H265.60M250.00 376.41H265.60M250.00 381.20H265.60M250.00 386.00H265.60M250.00 390.79H265.60M250.00 395.58H265.60M250.00 400.38H265.60M250.00 405.17H265.60M250.00 409.96H265.60M250.00 414.75H265.60M250.00 419.55H265.60M250.00 424.34H265.60M250.00 429.13H265.60M250.00 433.93H265.60M250.00 438.72H265.60M250.00 443.51H265.60M250.00 448.31H265.60M250.00 453.10H265.60M250.00 457.89H265.60M250.00 462.69H265.60M250.00 467.48H265.60M250.00 472.27H265.60M250.00 477.06H265.60M250.00 481.86H265.60M250.00 486.65H265.60M250.00 491.44H265.60M250.00 496.24H265.60M250.00 501.03H265.60M250.00 505.82H265.60M250.00 510.62H265.60M250.00 515.41H265.60M250.00 520.20H265.60M250.00 524.99H265.60M250.00 529.79H265.60M250.00 534.58H265.60M250.00 539.37H265.60M250.00 544.17H265.60M250.00 548.96H265.60M250.00 553.75H265.60M250.00 558.55H265.60M250.00 563.34H265.60M250.00 568.13H265.60M250.00 572.92H265.60M250.00 577.72H265.60M250.00 582.51H265.60M250.00 587.30H265.60M250.00 592.10H265.60M250.00 596.89H265.60M250.00 601.68H265.60M250.00 606.48H265.60M250.00 611.27H265.60M250.00 616.06H265.60M250.00 620.85H265.60M250.00 625.65H265.60M250.00 630.44H265.60M250.00 635.23H265.60M250.00 640.03H265.60M250.00 644.82H265.60M250.00 649.61H265.60M250.00 654.40H265.60M250.00 659.20H265.60M250.00 663.99H265.60M250.00 668.78H265.60M250.00 673.58H265.60M250.00 678.37H265.60M250.00 683.16H265.60M250.00 687.96H265.60M250.00 247.00V687.96M265.60 247.00V687.96M271.00 247.00H286.60M271.00 251.79H286.60M271.00 256.59H286.60M271.00 261.38H286.60M271.00 266.17H286.60M271.00 270.96H286.60M271.00 275.76H286.60M271.00 280.55H286.60M271.00 285.34H286.60M271.00 290.14H286.60M271.00 294.93H286.60M271.00 299.72H286.60M271.00 304.52H286.60M271.00 309.31H286.60M271.00 314.10H286.60M271.00 318.89H286.60M271.00 323.69H286.60M271.00 328.48H286.60M271.00 333.27H286.60M271.00 338.07H286.60M271.00 342.86H286.60M271.00 347.65H286.60M271.00 352.45H286.60M271.00 357.24H286.60M271.00 362.03H286.60M271.00 366.82H286.60M271.00 371.62H286.60M271.00 376.41H286.60M271.00 381.20H286.60M271.00 386.00H286.60M271.00 390.79H286.60M271.00 395.58H286.60M271.00 400.38H286.60M271.00 405.17H286.60M271.00 409.96H286.60M271.00 414.75H286.60M271.00 419.55H286.60M271.00 424.34H286.60M271.00 429.13H286.60M271.00 433.93H286.60M271.00 438.72H286.60M271.00 443.51H286.60M271.00 448.31H286.60M271.00 453.10H286.60M271.00 457.89H286.60M271.00 462.69H286.60M271.00 467.48H286.60M271.00 472.27H286.60M271.00 477.06H286.60M271.00 481.86H286.60M271.00 486.65H286.60M271.00 491.44H286.60M271.00 496.24H286.60M271.00 501.03H286.60M271.00 505.82H286.60M271.00 510.62H286.60M271.00 515.41H286.60M271.00 520.20H286.60M271.00 524.99H286.60M271.00 529.79H286.60M271.00 534.58H286.60M271.00 539.37H286.60M271.00 544.17H286.60M271.00 548.96H286.60M271.00 553.75H286.60M271.00 558.55H286.60M271.00 563.34H286.60M271.00 568.13H286.60M271.00 572.92H286.60M271.00 577.72H286.60M271.00 582.51H286.60M271.00 587.30H286.60M271.00 592.10H286.60M271.00 596.89H286.60M271.00 601.68H286.60M271.00 606.48H286.60M271.00 611.27H286.60M271.00 616.06H286.60M271.00 620.85H286.60M271.00 625.65H286.60M271.00 630.44H286.60M271.00 635.23H286.60M271.00 640.03H286.60M271.00 644.82H286.60M271.00 649.61H286.60M271.00 654.40H286.60M271.00 659.20H286.60M271.00 663.99H286.60M271.00 668.78H286.60M271.00 673.58H286.60M271.00 678.37H286.60M271.00 683.16H286.60M271.00 687.96H286.60M271.00 247.00V687.96M286.60 247.00V687.96M292.20 247.00H310.00M292.20 251.79H310.00M292.20 256.59H310.00M292.20 261.38H310.00M292.20 266.17H310.00M292.20 270.96H310.00M292.20 275.76H310.00M292.20 280.55H310.00M292.20 285.34H310.00M292.20 290.14H310.00M292.20 294.93H310.00M292.20 299.72H310.00M292.20 304.52H310.00M292.20 309.31H310.00M292.20 314.10H310.00M292.20 318.89H310.00M292.20 323.69H310.00M292.20 328.48H310.00M292.20 333.27H310.00M292.20 338.07H310.00M292.20 342.86H310.00M292.20 347.65H310.00M292.20 352.45H310.00M292.20 357.24H310.00M292.20 362.03H310.00M292.20 366.82H310.00M292.20 371.62H310.00M292.20 376.41H310.00M292.20 381.20H310.00M292.20 386.00H310.00M292.20 390.79H310.00M292.20 395.58H310.00M292.20 400.38H310.00M292.20 405.17H310.00M292.20 409.96H310.00M292.20 414.75H310.00M292.20 419.55H310.00M292.20 424.34H310.00M292.20 429.13H310.00M292.20 433.93H310.00M292.20 438.72H310.00M292.20 443.51H310.00M292.20 448.31H310.00M292.20 453.10H310.00M292.20 457.89H310.00M292.20 462.69H310.00M292.20 467.48H310.00M292.20 472.27H310.00M292.20 477.06H310.00M292.20 481.86H310.00M292.20 486.65H310.00M292.20 491.44H310.00M292.20 496.24H310.00M292.20 501.03H310.00M292.20 505.82H310.00M292.20 510.62H310.00M292.20 515.41H310.00M292.20 520.20H310.00M292.20 524.99H310.00M292.20 529.79H310.00M292.20 534.58H310.00M292.20 539.37H310.00M292.20 544.17H310.00M292.20 548.96H310.00M292.20 553.75H310.00M292.20 558.55H310.00M292.20 563.34H310.00M292.20 568.13H310.00M292.20 572.92H310.00M292.20 577.72H310.00M292.20 582.51H310.00M292.20 587.30H310.00M292.20 592.10H310.00M292.20 596.89H310.00M292.20 601.68H310.00M292.20 606.48H310.00M292.20 611.27H310.00M292.20 616.06H310.00M292.20 620.85H310.00M292.20 625.65H310.00M292.20 630.44H310.00M292.20 635.23H310.00M292.20 640.03H310.00M292.20 644.82H310.00M292.20 649.61H310.00M292.20 654.40H310.00M292.20 659.20H310.00M292.20 663.99H310.00M292.20 668.78H310.00M292.20 673.58H310.00M292.20 678.37H310.00M292.20 683.16H310.00M292.20 687.96H310.00M292.20 247.00V687.96M310.00 247.00V687.96M316.00 247.00H333.20M316.00 251.79H333.20M316.00 256.59H333.20M316.00 261.38H333.20M316.00 266.17H333.20M316.00 270.96H333.20M316.00 275.76H333.20M316.00 280.55H333.20M316.00 285.34H333.20M316.00 290.14H333.20M316.00 294.93H333.20M316.00 299.72H333.20M316.00 304.52H333.20M316.00 309.31H333.20M316.00 314.10H333.20M316.00 318.89H333.20M316.00 323.69H333.20M316.00 328.48H333.20M316.00 333.27H333.20M316.00 338.07H333.20M316.00 342.86H333.20M316.00 347.65H333.20M316.00 352.45H333.20M316.00 357.24H333.20M316.00 362.03H333.20M316.00 366.82H333.20M316.00 371.62H333.20M316.00 376.41H333.20M316.00 381.20H333.20M316.00 386.00H333.20M316.00 390.79H333.20M316.00 395.58H333.20M316.00 400.38H333.20M316.00 405.17H333.20M316.00 409.96H333.20M316.00 414.75H333.20M316.00 419.55H333.20M316.00 424.34H333.20M316.00 429.13H333.20M316.00 433.93H333.20M316.00 438.72H333.20M316.00 443.51H333.20M316.00 448.31H333.20M316.00 453.10H333.20M316.00 457.89H333.20M316.00 462.69H333.20M316.00 467.48H333.20M316.00 472.27H333.20M316.00 477.06H333.20M316.00 481.86H333.20M316.00 486.65H333.20M316.00 491.44H333.20M316.00 496.24H333.20M316.00 501.03H333.20M316.00 505.82H333.20M316.00 510.62H333.20M316.00 515.41H333.20M316.00 520.20H333.20M316.00 524.99H333.20M316.00 529.79H333.20M316.00 534.58H333.20M316.00 539.37H333.20M316.00 544.17H333.20M316.00 548.96H333.20M316.00 553.75H333.20M316.00 558.55H333.20M316.00 563.34H333.20M316.00 568.13H333.20M316.00 572.92H333.20M316.00 577.72H333.20M316.00 582.51H333.20M316.00 587.30H333.20M316.00 592.10H333.20M316.00 596.89H333.20M316.00 601.68H333.20M316.00 606.48H333.20M316.00 611.27H333.20M316.00 616.06H333.20M316.00 620.85H333.20M316.00 625.65H333.20M316.00 630.44H333.20M316.00 635.23H333.20M316.00 640.03H333.20M316.00 644.82H333.20M316.00 649.61H333.20M316.00 654.40H333.20M316.00 659.20H333.20M316.00 663.99H333.20M316.00 668.78H333.20M316.00 673.58H333.20M316.00 678.37H333.20M316.00 683.16H333.20M316.00 687.96H333.20M316.00 247.00V687.96M333.20 247.00V687.96M338.80 247.00H357.10M338.80 251.79H357.10M338.80 256.59H357.10M338.80 261.38H357.10M338.80 266.17H357.10M338.80 270.96H357.10M338.80 275.76H357.10M338.80 280.55H357.10M338.80 285.34H357.10M338.80 290.14H357.10M338.80 294.93H357.10M338.80 299.72H357.10M338.80 304.52H357.10M338.80 309.31H357.10M338.80 314.10H357.10M338.80 318.89H357.10M338.80 323.69H357.10M338.80 328.48H357.10M338.80 333.27H357.10M338.80 338.07H357.10M338.80 342.86H357.10M338.80 347.65H357.10M338.80 352.45H357.10M338.80 357.24H357.10M338.80 362.03H357.10M338.80 366.82H357.10M338.80 371.62H357.10M338.80 376.41H357.10M338.80 381.20H357.10M338.80 386.00H357.10M338.80 390.79H357.10M338.80 395.58H357.10M338.80 400.38H357.10M338.80 405.17H357.10M338.80 409.96H357.10M338.80 414.75H357.10M338.80 419.55H357.10M338.80 424.34H357.10M338.80 429.13H357.10M338.80 433.93H357.10M338.80 438.72H357.10M338.80 443.51H357.10M338.80 448.31H357.10M338.80 453.10H357.10M338.80 457.89H357.10M338.80 462.69H357.10M338.80 467.48H357.10M338.80 472.27H357.10M338.80 477.06H357.10M338.80 481.86H357.10M338.80 486.65H357.10M338.80 491.44H357.10M338.80 496.24H357.10M338.80 501.03H357.10M338.80 505.82H357.10M338.80 510.62H357.10M338.80 515.41H357.10M338.80 520.20H357.10M338.80 524.99H357.10M338.80 529.79H357.10M338.80 534.58H357.10M338.80 539.37H357.10M338.80 544.17H357.10M338.80 548.96H357.10M338.80 553.75H357.10M338.80 558.55H357.10M338.80 563.34H357.10M338.80 568.13H357.10M338.80 572.92H357.10M338.80 577.72H357.10M338.80 582.51H357.10M338.80 587.30H357.10M338.80 592.10H357.10M338.80 596.89H357.10M338.80 601.68H357.10M338.80 606.48H357.10M338.80 611.27H357.10M338.80 616.06H357.10M338.80 620.85H357.10M338.80 625.65H357.10M338.80 630.44H357.10M338.80 635.23H357.10M338.80 640.03H357.10M338.80 644.82H357.10M338.80 649.61H357.10M338.80 654.40H357.10M338.80 659.20H357.10M338.80 663.99H357.10M338.80 668.78H357.10M338.80 673.58H357.10M338.80 678.37H357.10M338.80 683.16H357.10M338.80 687.96H357.10M338.80 247.00V687.96M357.10 247.00V687.96" fill="none" stroke="#969696" stroke-width="0.45"/>
<g font-size="5.8" fill="#111" stroke="#111" stroke-width="0.28">
<text x="359.2" y="251.45">IL.1.alpha</text>
<text x="359.2" y="256.24">IL13</text>
<text x="359.2" y="261.03">IL5</text>
<text x="359.2" y="265.83">IL2</text>
<text x="359.2" y="270.62">IL4</text>
<text x="359.2" y="275.41">CXCL12</text>
<text x="359.2" y="280.20">IL33</text>
<text x="359.2" y="285.00">CD28</text>
<text x="359.2" y="289.79">ADGRG1</text>
<text x="359.2" y="294.58">IL12RB1</text>
<text x="359.2" y="299.38">PD.L2</text>
<text x="359.2" y="304.17">ARG1</text>
<text x="359.2" y="308.96">CAIX</text>
<text x="359.2" y="313.76">PTN</text>
<text x="359.2" y="318.55">KIR3DL1</text>
<text x="359.2" y="323.34">LAG3</text>
<text x="359.2" y="328.13">NOS3</text>
<text x="359.2" y="332.93">CD83</text>
<text x="359.2" y="337.72">TNF</text>
<text x="359.2" y="342.51">MCP.3</text>
<text x="359.2" y="347.31">FGF2</text>
<text x="359.2" y="352.10">CCL19</text>
<text x="359.2" y="356.89">CXCL1</text>
<text x="359.2" y="361.69">Gal.9</text>
<text x="359.2" y="366.48">HGF</text>
<text x="359.2" y="371.27">PGF</text>
<text x="359.2" y="376.06">VEGFA</text>
<text x="359.2" y="380.86">LAP TGF.beta.1</text>
<text x="359.2" y="385.65">MCP.2</text>
<text x="359.2" y="390.44">CXCL9</text>
<text x="359.2" y="395.24">CXCL13</text>
<text x="359.2" y="400.03">MMP7</text>
<text x="359.2" y="404.82">CCL20</text>
<text x="359.2" y="409.62">IFN.gamma</text>
<text x="359.2" y="414.41">EGF</text>
<text x="359.2" y="419.20">ANGPT1</text>
<text x="359.2" y="423.99">PDGF.subunit.B</text>
<text x="359.2" y="428.79">CXCL11</text>
<text x="359.2" y="433.58">CXCL5</text>
<text x="359.2" y="438.37">CXCL10</text>
<text x="359.2" y="443.17">MCP.1</text>
<text x="359.2" y="447.96">HO.1</text>
<text x="359.2" y="452.75">MCP.4</text>
<text x="359.2" y="457.55">IL18</text>
<text x="359.2" y="462.34">CCL23</text>
<text x="359.2" y="467.13">CSF1</text>
<text x="359.2" y="471.92">CD40</text>
<text x="359.2" y="476.72">CCL17</text>
<text x="359.2" y="481.51">ICOSLG</text>
<text x="359.2" y="486.30">MMP12</text>
<text x="359.2" y="491.10">IL12</text>
<text x="359.2" y="495.89">CCL4</text>
<text x="359.2" y="500.68">CCL3</text>
<text x="359.2" y="505.48">TNFRSF9</text>
<text x="359.2" y="510.27">CD244</text>
<text x="359.2" y="515.06">IL8</text>
<text x="359.2" y="519.85">IL15</text>
<text x="359.2" y="524.65">TNFRSF4</text>
<text x="359.2" y="529.44">ANGPT2</text>
<text x="359.2" y="534.23">CD27</text>
<text x="359.2" y="539.03">GZMA</text>
<text x="359.2" y="543.82">TWEAK</text>
<text x="359.2" y="548.61">TRAIL</text>
<text x="359.2" y="553.41">VEGFR.2</text>
<text x="359.2" y="558.20">CX3CL1</text>
<text x="359.2" y="562.99">Gal.1</text>
<text x="359.2" y="567.78">TIE2</text>
<text x="359.2" y="572.58">TNFRSF21</text>
<text x="359.2" y="577.37">GZMB</text>
<text x="359.2" y="582.16">CD40.L</text>
<text x="359.2" y="586.96">CASP.8</text>
<text x="359.2" y="591.75">CRTAM</text>
<text x="359.2" y="596.54">NCR1</text>
<text x="359.2" y="601.34">CD4</text>
<text x="359.2" y="606.13">DCN</text>
<text x="359.2" y="610.92">PDCD1</text>
<text x="359.2" y="615.71">CD5</text>
<text x="359.2" y="620.51">TNFRSF12A</text>
<text x="359.2" y="625.30">MIC.A.B</text>
<text x="359.2" y="630.09">FASLG</text>
<text x="359.2" y="634.89">KLRD1</text>
<text x="359.2" y="639.68">GZMH</text>
<text x="359.2" y="644.47">LAMP3</text>
<text x="359.2" y="649.27">CD70</text>
<text x="359.2" y="654.06">IL7</text>
<text x="359.2" y="658.85">TNFSF14</text>
<text x="359.2" y="663.64">IL10</text>
<text x="359.2" y="668.44">CD8A</text>
<text x="359.2" y="673.23">IL6</text>
<text x="359.2" y="678.02">MUC.16</text>
<text x="359.2" y="682.82">ADA</text>
<text x="359.2" y="687.61">PD.L1</text>
</g>
<g font-size="7.8" fill="#111" stroke="#111" stroke-width="0.3">
<text transform="translate(54.80,690.2) rotate(90)">Day 1</text>
<text transform="translate(73.05,690.2) rotate(90)">Day 2</text>
<text transform="translate(91.25,690.2) rotate(90)">Day 3</text>
<text transform="translate(113.40,690.2) rotate(90)">Day 9</text>
<text transform="translate(131.50,690.2) rotate(90)">Day 10</text>
<text transform="translate(149.60,690.2) rotate(90)">CRS1 on day 10</text>
<text transform="translate(167.70,690.2) rotate(90)">Day 11</text>
<text transform="translate(185.80,690.2) rotate(90)">CRS on Day 11</text>
<text transform="translate(209.75,690.2) rotate(90)">Day 14</text>
<text transform="translate(232.95,690.2) rotate(90)">Day 21</text>
<text transform="translate(254.95,690.2) rotate(90)">Day 28</text>
<text transform="translate(275.95,690.2) rotate(90)">Day 42</text>
<text transform="translate(298.25,690.2) rotate(90)">Day 56</text>
<text transform="translate(321.75,690.2) rotate(90)">Day 78</text>
<text transform="translate(345.10,690.2) rotate(90)">Day 101</text>
</g>
<defs><linearGradient id="lg" x1="0" y1="1" x2="0" y2="0">
<stop offset="0.000" stop-color="#4174C2"/>
<stop offset="0.167" stop-color="#8DBEE6"/>
<stop offset="0.333" stop-color="#DEF2FA"/>
<stop offset="0.500" stop-color="#FFFFBF"/>
<stop offset="0.667" stop-color="#FEE090"/>
<stop offset="0.833" stop-color="#FC8D59"/>
<stop offset="1.000" stop-color="#D73027"/>
</linearGradient></defs>
<rect x="405.6" y="246.2" width="6.4" height="98.3" fill="url(#lg)"/>
<g font-size="6.35" fill="#222" stroke="#222" stroke-width="0.25">
<text x="414.6" y="335.85">0</text>
<text x="414.6" y="307.44">5</text>
<text x="414.6" y="279.03">10</text>
<text x="414.6" y="250.62">15</text>
</g>
<text transform="translate(400.3,292) rotate(-90)" font-size="7.2" text-anchor="middle" fill="#111" stroke="#111" stroke-width="0.28">NPX (log2)</text>
</svg></body></html>
